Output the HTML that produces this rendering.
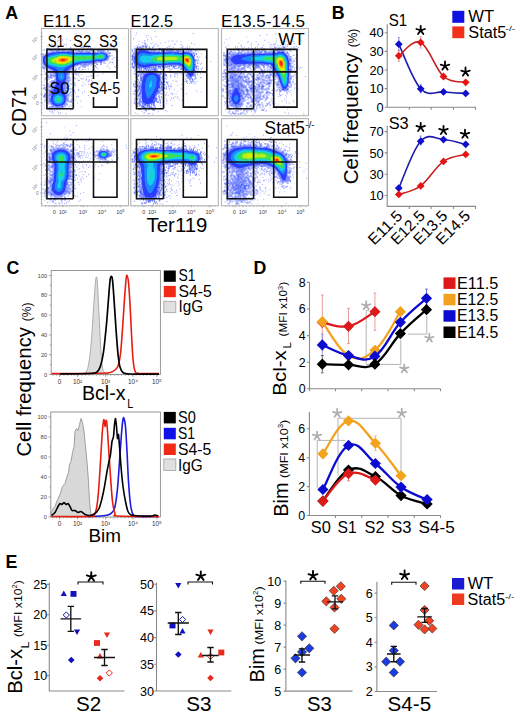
<!DOCTYPE html>
<html><head><meta charset="utf-8"><style>
html,body{margin:0;padding:0;background:#fff;width:520px;height:714px;overflow:hidden}
svg{display:block}
text{font-family:"Liberation Sans", sans-serif}
</style></head><body>
<svg width="520" height="714" viewBox="0 0 520 714">
<defs><filter id="soft" x="-5%" y="-5%" width="110%" height="110%"><feGaussianBlur stdDeviation="0.7"/></filter></defs>
<rect width="520" height="714" fill="#fff"/>
<text x="5.3" y="18.9" font-size="17.8" font-weight="bold">A</text>
<text x="43.1" y="27" font-size="16.3" textLength="42.6" lengthAdjust="spacingAndGlyphs">E11.5</text>
<text x="130.6" y="27" font-size="16.3" textLength="42.6" lengthAdjust="spacingAndGlyphs">E12.5</text>
<text x="221" y="27" font-size="16.3" textLength="84" lengthAdjust="spacingAndGlyphs">E13.5-14.5</text>
<rect x="41.5" y="28.5" width="87" height="87.2" fill="#fff" stroke="#b4b4b4" stroke-width="1.1"/>
<g filter="url(#soft)"><path d="M69.5 48.5h1v1h-1zM58.5 49.5h1v1h-1zM61.5 49.5h1v1h-1zM72.5 49.5h1v1h-1zM75.5 49.5h1v1h-1zM99.5 49.5h1v1h-1zM56.5 50.5h1v1h-1zM64.5 50.5h1v1h-1zM82.5 50.5h1v1h-1zM97.5 50.5h1v1h-1zM51.5 51.5h1v1h-1zM54.5 51.5h1v1h-1zM57.5 51.5h1v1h-1zM58.5 51.5h1v1h-1zM69.5 51.5h1v1h-1zM70.5 51.5h1v1h-1zM76.5 51.5h1v1h-1zM80.5 51.5h1v1h-1zM85.5 51.5h1v1h-1zM86.5 51.5h1v1h-1zM97.5 51.5h1v1h-1zM48.5 52.5h1v1h-1zM49.5 52.5h1v1h-1zM51.5 52.5h1v1h-1zM80.5 52.5h1v1h-1zM81.5 52.5h1v1h-1zM84.5 52.5h1v1h-1zM91.5 52.5h1v1h-1zM106.5 52.5h1v1h-1zM42.5 53.5h1v1h-1zM44.5 54.5h1v1h-1zM108.5 55.5h1v1h-1zM42.5 56.5h1v1h-1zM98.5 60.5h1v1h-1zM100.5 60.5h1v1h-1zM101.5 60.5h1v1h-1zM103.5 60.5h1v1h-1zM42.5 61.5h1v1h-1zM92.5 61.5h1v1h-1zM100.5 61.5h1v1h-1zM100.5 62.5h1v1h-1zM78.5 63.5h1v1h-1zM79.5 63.5h1v1h-1zM84.5 63.5h1v1h-1zM89.5 63.5h1v1h-1zM80.5 64.5h1v1h-1zM85.5 64.5h1v1h-1zM87.5 64.5h1v1h-1zM45.5 66.5h1v1h-1zM79.5 66.5h1v1h-1zM83.5 66.5h1v1h-1zM43.5 67.5h1v1h-1zM48.5 67.5h1v1h-1zM72.5 67.5h1v1h-1zM69.5 68.5h1v1h-1zM67.5 69.5h1v1h-1zM75.5 69.5h1v1h-1zM47.5 70.5h1v1h-1zM49.5 70.5h1v1h-1zM71.5 70.5h1v1h-1zM53.5 71.5h1v1h-1zM48.5 72.5h1v1h-1zM50.5 72.5h1v1h-1zM65.5 73.5h1v1h-1zM68.5 73.5h1v1h-1zM50.5 74.5h1v1h-1zM51.5 74.5h1v1h-1zM53.5 74.5h1v1h-1zM67.5 74.5h1v1h-1zM50.5 75.5h1v1h-1zM52.5 75.5h1v1h-1zM55.5 75.5h1v1h-1zM45.5 78.5h1v1h-1zM67.5 79.5h1v1h-1zM56.5 80.5h1v1h-1zM67.5 80.5h1v1h-1zM65.5 81.5h1v1h-1zM67.5 81.5h1v1h-1zM52.5 82.5h1v1h-1zM57.5 82.5h1v1h-1zM47.5 83.5h1v1h-1zM58.5 83.5h1v1h-1zM60.5 83.5h1v1h-1zM62.5 83.5h1v1h-1zM66.5 83.5h1v1h-1zM55.5 84.5h1v1h-1zM58.5 84.5h1v1h-1zM64.5 84.5h1v1h-1zM50.5 85.5h1v1h-1zM53.5 85.5h1v1h-1zM68.5 85.5h1v1h-1zM54.5 86.5h1v1h-1zM48.5 87.5h1v1h-1zM50.5 87.5h1v1h-1zM53.5 87.5h1v1h-1zM55.5 87.5h1v1h-1zM64.5 87.5h1v1h-1zM61.5 88.5h1v1h-1zM64.5 88.5h1v1h-1zM67.5 88.5h1v1h-1zM61.5 89.5h1v1h-1zM62.5 89.5h1v1h-1zM48.5 90.5h1v1h-1zM65.5 91.5h1v1h-1zM49.5 92.5h1v1h-1zM52.5 92.5h1v1h-1zM44.5 93.5h1v1h-1zM51.5 93.5h1v1h-1zM64.5 93.5h1v1h-1zM50.5 94.5h1v1h-1zM47.5 95.5h1v1h-1zM50.5 97.5h1v1h-1zM66.5 98.5h1v1h-1zM71.5 98.5h1v1h-1zM66.5 99.5h1v1h-1zM69.5 100.5h1v1h-1zM48.5 102.5h1v1h-1zM50.5 103.5h1v1h-1zM51.5 103.5h1v1h-1zM63.5 103.5h1v1h-1zM64.5 104.5h1v1h-1zM53.5 105.5h1v1h-1zM57.5 106.5h1v1h-1zM60.5 106.5h1v1h-1zM52.5 107.5h1v1h-1zM59.5 107.5h1v1h-1z" fill="#2030ff"/><path d="M56.5 49.5h1v1h-1zM71.5 49.5h1v1h-1zM85.5 49.5h1v1h-1zM50.5 50.5h1v1h-1zM58.5 50.5h1v1h-1zM61.5 50.5h1v1h-1zM62.5 50.5h1v1h-1zM63.5 50.5h1v1h-1zM70.5 50.5h1v1h-1zM98.5 50.5h1v1h-1zM53.5 51.5h1v1h-1zM55.5 51.5h1v1h-1zM71.5 51.5h1v1h-1zM102.5 51.5h1v1h-1zM47.5 52.5h1v1h-1zM52.5 52.5h1v1h-1zM79.5 52.5h1v1h-1zM83.5 52.5h1v1h-1zM85.5 52.5h1v1h-1zM86.5 52.5h1v1h-1zM88.5 52.5h1v1h-1zM92.5 52.5h1v1h-1zM95.5 52.5h1v1h-1zM105.5 52.5h1v1h-1zM46.5 53.5h1v1h-1zM108.5 53.5h1v1h-1zM42.5 55.5h1v1h-1zM107.5 55.5h1v1h-1zM42.5 57.5h1v1h-1zM108.5 57.5h1v1h-1zM42.5 59.5h1v1h-1zM94.5 61.5h1v1h-1zM95.5 61.5h1v1h-1zM96.5 61.5h1v1h-1zM42.5 62.5h1v1h-1zM88.5 62.5h1v1h-1zM89.5 62.5h1v1h-1zM93.5 62.5h1v1h-1zM43.5 63.5h1v1h-1zM81.5 63.5h1v1h-1zM87.5 63.5h1v1h-1zM100.5 63.5h1v1h-1zM43.5 64.5h1v1h-1zM84.5 64.5h1v1h-1zM73.5 65.5h1v1h-1zM74.5 65.5h1v1h-1zM81.5 65.5h1v1h-1zM46.5 66.5h1v1h-1zM72.5 66.5h1v1h-1zM44.5 68.5h1v1h-1zM49.5 68.5h1v1h-1zM46.5 69.5h1v1h-1zM50.5 69.5h1v1h-1zM68.5 69.5h1v1h-1zM69.5 69.5h1v1h-1zM74.5 69.5h1v1h-1zM68.5 70.5h1v1h-1zM65.5 71.5h1v1h-1zM66.5 71.5h1v1h-1zM68.5 71.5h1v1h-1zM45.5 72.5h1v1h-1zM53.5 72.5h1v1h-1zM54.5 72.5h1v1h-1zM66.5 72.5h1v1h-1zM67.5 72.5h1v1h-1zM68.5 72.5h1v1h-1zM66.5 73.5h1v1h-1zM46.5 74.5h1v1h-1zM54.5 74.5h1v1h-1zM66.5 75.5h1v1h-1zM47.5 76.5h1v1h-1zM49.5 76.5h1v1h-1zM50.5 76.5h1v1h-1zM54.5 78.5h1v1h-1zM55.5 78.5h1v1h-1zM66.5 78.5h1v1h-1zM69.5 78.5h1v1h-1zM46.5 79.5h1v1h-1zM55.5 80.5h1v1h-1zM64.5 80.5h1v1h-1zM52.5 81.5h1v1h-1zM53.5 82.5h1v1h-1zM54.5 82.5h1v1h-1zM65.5 82.5h1v1h-1zM61.5 83.5h1v1h-1zM63.5 83.5h1v1h-1zM70.5 83.5h1v1h-1zM59.5 84.5h1v1h-1zM63.5 84.5h1v1h-1zM55.5 85.5h1v1h-1zM58.5 85.5h1v1h-1zM61.5 85.5h1v1h-1zM43.5 87.5h1v1h-1zM54.5 87.5h1v1h-1zM60.5 87.5h1v1h-1zM66.5 87.5h1v1h-1zM43.5 88.5h1v1h-1zM47.5 89.5h1v1h-1zM49.5 89.5h1v1h-1zM51.5 89.5h1v1h-1zM53.5 89.5h1v1h-1zM63.5 89.5h1v1h-1zM51.5 90.5h1v1h-1zM52.5 90.5h1v1h-1zM67.5 90.5h1v1h-1zM46.5 91.5h1v1h-1zM52.5 91.5h1v1h-1zM63.5 92.5h1v1h-1zM45.5 93.5h1v1h-1zM48.5 93.5h1v1h-1zM65.5 93.5h1v1h-1zM48.5 94.5h1v1h-1zM64.5 94.5h1v1h-1zM66.5 94.5h1v1h-1zM70.5 94.5h1v1h-1zM49.5 95.5h1v1h-1zM50.5 95.5h1v1h-1zM65.5 95.5h1v1h-1zM66.5 95.5h1v1h-1zM43.5 96.5h1v1h-1zM44.5 96.5h1v1h-1zM65.5 96.5h1v1h-1zM48.5 97.5h1v1h-1zM65.5 97.5h1v1h-1zM45.5 98.5h1v1h-1zM65.5 98.5h1v1h-1zM47.5 100.5h1v1h-1zM50.5 100.5h1v1h-1zM67.5 100.5h1v1h-1zM49.5 101.5h1v1h-1zM50.5 101.5h1v1h-1zM51.5 102.5h1v1h-1zM52.5 103.5h1v1h-1zM52.5 104.5h1v1h-1zM55.5 105.5h1v1h-1zM59.5 105.5h1v1h-1zM61.5 105.5h1v1h-1zM62.5 105.5h1v1h-1zM64.5 105.5h1v1h-1zM50.5 106.5h1v1h-1zM55.5 106.5h1v1h-1zM61.5 106.5h1v1h-1zM62.5 106.5h1v1h-1zM56.5 107.5h1v1h-1zM58.5 107.5h1v1h-1zM62.5 108.5h1v1h-1z" fill="#3848ff"/><path d="M49.5 48.5h1v1h-1zM58.5 48.5h1v1h-1zM63.5 48.5h1v1h-1zM43.5 49.5h1v1h-1zM57.5 49.5h1v1h-1zM101.5 49.5h1v1h-1zM66.5 50.5h1v1h-1zM71.5 50.5h1v1h-1zM81.5 50.5h1v1h-1zM89.5 50.5h1v1h-1zM91.5 50.5h1v1h-1zM103.5 50.5h1v1h-1zM107.5 50.5h1v1h-1zM72.5 51.5h1v1h-1zM77.5 51.5h1v1h-1zM81.5 51.5h1v1h-1zM95.5 51.5h1v1h-1zM104.5 51.5h1v1h-1zM45.5 52.5h1v1h-1zM82.5 52.5h1v1h-1zM90.5 52.5h1v1h-1zM93.5 52.5h1v1h-1zM107.5 52.5h1v1h-1zM47.5 53.5h1v1h-1zM104.5 59.5h1v1h-1zM105.5 59.5h1v1h-1zM106.5 59.5h1v1h-1zM107.5 59.5h1v1h-1zM97.5 60.5h1v1h-1zM102.5 60.5h1v1h-1zM104.5 60.5h1v1h-1zM98.5 61.5h1v1h-1zM84.5 62.5h1v1h-1zM87.5 62.5h1v1h-1zM94.5 62.5h1v1h-1zM83.5 63.5h1v1h-1zM85.5 63.5h1v1h-1zM88.5 63.5h1v1h-1zM91.5 63.5h1v1h-1zM75.5 64.5h1v1h-1zM86.5 64.5h1v1h-1zM90.5 64.5h1v1h-1zM42.5 65.5h1v1h-1zM72.5 65.5h1v1h-1zM42.5 67.5h1v1h-1zM47.5 67.5h1v1h-1zM69.5 67.5h1v1h-1zM70.5 67.5h1v1h-1zM71.5 67.5h1v1h-1zM43.5 68.5h1v1h-1zM46.5 68.5h1v1h-1zM48.5 68.5h1v1h-1zM66.5 69.5h1v1h-1zM48.5 70.5h1v1h-1zM66.5 70.5h1v1h-1zM55.5 73.5h1v1h-1zM48.5 74.5h1v1h-1zM55.5 74.5h1v1h-1zM47.5 75.5h1v1h-1zM68.5 76.5h1v1h-1zM50.5 77.5h1v1h-1zM67.5 78.5h1v1h-1zM54.5 79.5h1v1h-1zM51.5 80.5h1v1h-1zM52.5 80.5h1v1h-1zM69.5 80.5h1v1h-1zM50.5 81.5h1v1h-1zM56.5 81.5h1v1h-1zM63.5 81.5h1v1h-1zM64.5 81.5h1v1h-1zM67.5 82.5h1v1h-1zM53.5 83.5h1v1h-1zM56.5 83.5h1v1h-1zM67.5 83.5h1v1h-1zM43.5 84.5h1v1h-1zM51.5 84.5h1v1h-1zM52.5 84.5h1v1h-1zM56.5 84.5h1v1h-1zM48.5 85.5h1v1h-1zM49.5 85.5h1v1h-1zM54.5 85.5h1v1h-1zM56.5 85.5h1v1h-1zM57.5 85.5h1v1h-1zM63.5 85.5h1v1h-1zM64.5 85.5h1v1h-1zM65.5 85.5h1v1h-1zM67.5 85.5h1v1h-1zM45.5 86.5h1v1h-1zM49.5 86.5h1v1h-1zM53.5 86.5h1v1h-1zM62.5 86.5h1v1h-1zM51.5 87.5h1v1h-1zM52.5 87.5h1v1h-1zM51.5 88.5h1v1h-1zM71.5 88.5h1v1h-1zM45.5 89.5h1v1h-1zM48.5 89.5h1v1h-1zM50.5 89.5h1v1h-1zM64.5 89.5h1v1h-1zM49.5 90.5h1v1h-1zM64.5 90.5h1v1h-1zM65.5 90.5h1v1h-1zM66.5 90.5h1v1h-1zM73.5 90.5h1v1h-1zM64.5 91.5h1v1h-1zM72.5 91.5h1v1h-1zM50.5 92.5h1v1h-1zM69.5 92.5h1v1h-1zM49.5 93.5h1v1h-1zM49.5 94.5h1v1h-1zM68.5 95.5h1v1h-1zM48.5 96.5h1v1h-1zM49.5 97.5h1v1h-1zM66.5 97.5h1v1h-1zM48.5 98.5h1v1h-1zM49.5 99.5h1v1h-1zM50.5 99.5h1v1h-1zM69.5 101.5h1v1h-1zM46.5 102.5h1v1h-1zM64.5 102.5h1v1h-1zM64.5 103.5h1v1h-1zM66.5 103.5h1v1h-1zM62.5 104.5h1v1h-1zM66.5 104.5h1v1h-1zM52.5 105.5h1v1h-1zM56.5 105.5h1v1h-1zM57.5 105.5h1v1h-1zM52.5 106.5h1v1h-1zM59.5 106.5h1v1h-1zM57.5 107.5h1v1h-1zM49.5 108.5h1v1h-1zM53.5 108.5h1v1h-1zM59.5 108.5h1v1h-1z" fill="#5060ff"/><path d="M47.5 48.5h1v1h-1zM50.5 49.5h1v1h-1zM52.5 49.5h1v1h-1zM54.5 49.5h1v1h-1zM59.5 49.5h1v1h-1zM69.5 49.5h1v1h-1zM46.5 50.5h1v1h-1zM68.5 50.5h1v1h-1zM78.5 50.5h1v1h-1zM100.5 50.5h1v1h-1zM102.5 50.5h1v1h-1zM52.5 51.5h1v1h-1zM56.5 51.5h1v1h-1zM66.5 51.5h1v1h-1zM67.5 51.5h1v1h-1zM68.5 51.5h1v1h-1zM74.5 51.5h1v1h-1zM87.5 51.5h1v1h-1zM88.5 51.5h1v1h-1zM89.5 51.5h1v1h-1zM100.5 51.5h1v1h-1zM87.5 52.5h1v1h-1zM109.5 52.5h1v1h-1zM109.5 55.5h1v1h-1zM107.5 56.5h1v1h-1zM42.5 58.5h1v1h-1zM106.5 58.5h1v1h-1zM99.5 60.5h1v1h-1zM99.5 61.5h1v1h-1zM86.5 62.5h1v1h-1zM90.5 62.5h1v1h-1zM91.5 62.5h1v1h-1zM92.5 62.5h1v1h-1zM103.5 62.5h1v1h-1zM77.5 63.5h1v1h-1zM80.5 63.5h1v1h-1zM96.5 63.5h1v1h-1zM44.5 64.5h1v1h-1zM76.5 64.5h1v1h-1zM77.5 64.5h1v1h-1zM82.5 64.5h1v1h-1zM83.5 64.5h1v1h-1zM45.5 65.5h1v1h-1zM42.5 66.5h1v1h-1zM44.5 66.5h1v1h-1zM75.5 67.5h1v1h-1zM78.5 67.5h1v1h-1zM68.5 68.5h1v1h-1zM71.5 68.5h1v1h-1zM72.5 68.5h1v1h-1zM52.5 69.5h1v1h-1zM53.5 70.5h1v1h-1zM67.5 70.5h1v1h-1zM48.5 71.5h1v1h-1zM50.5 71.5h1v1h-1zM51.5 71.5h1v1h-1zM66.5 74.5h1v1h-1zM54.5 75.5h1v1h-1zM53.5 76.5h1v1h-1zM67.5 76.5h1v1h-1zM51.5 77.5h1v1h-1zM66.5 77.5h1v1h-1zM68.5 77.5h1v1h-1zM48.5 78.5h1v1h-1zM65.5 79.5h1v1h-1zM53.5 80.5h1v1h-1zM65.5 80.5h1v1h-1zM53.5 81.5h1v1h-1zM54.5 81.5h1v1h-1zM55.5 81.5h1v1h-1zM56.5 82.5h1v1h-1zM63.5 82.5h1v1h-1zM64.5 82.5h1v1h-1zM52.5 83.5h1v1h-1zM64.5 83.5h1v1h-1zM54.5 84.5h1v1h-1zM61.5 84.5h1v1h-1zM59.5 85.5h1v1h-1zM62.5 85.5h1v1h-1zM52.5 86.5h1v1h-1zM55.5 86.5h1v1h-1zM56.5 86.5h1v1h-1zM60.5 86.5h1v1h-1zM45.5 88.5h1v1h-1zM54.5 88.5h1v1h-1zM65.5 88.5h1v1h-1zM69.5 88.5h1v1h-1zM46.5 89.5h1v1h-1zM52.5 89.5h1v1h-1zM72.5 89.5h1v1h-1zM53.5 90.5h1v1h-1zM62.5 90.5h1v1h-1zM51.5 91.5h1v1h-1zM66.5 91.5h1v1h-1zM70.5 91.5h1v1h-1zM46.5 92.5h1v1h-1zM64.5 92.5h1v1h-1zM65.5 92.5h1v1h-1zM66.5 92.5h1v1h-1zM50.5 93.5h1v1h-1zM68.5 93.5h1v1h-1zM44.5 94.5h1v1h-1zM67.5 94.5h1v1h-1zM43.5 95.5h1v1h-1zM44.5 95.5h1v1h-1zM46.5 97.5h1v1h-1zM67.5 97.5h1v1h-1zM49.5 98.5h1v1h-1zM50.5 98.5h1v1h-1zM46.5 99.5h1v1h-1zM48.5 100.5h1v1h-1zM49.5 100.5h1v1h-1zM66.5 100.5h1v1h-1zM50.5 102.5h1v1h-1zM65.5 102.5h1v1h-1zM53.5 104.5h1v1h-1zM58.5 105.5h1v1h-1zM54.5 106.5h1v1h-1zM56.5 106.5h1v1h-1zM56.5 108.5h1v1h-1z" fill="#1848f0"/><path d="M61.5 48.5h1v1h-1zM53.5 49.5h1v1h-1zM64.5 49.5h1v1h-1zM67.5 49.5h1v1h-1zM70.5 49.5h1v1h-1zM47.5 50.5h1v1h-1zM49.5 50.5h1v1h-1zM52.5 50.5h1v1h-1zM55.5 50.5h1v1h-1zM60.5 50.5h1v1h-1zM72.5 50.5h1v1h-1zM77.5 50.5h1v1h-1zM80.5 50.5h1v1h-1zM78.5 51.5h1v1h-1zM79.5 51.5h1v1h-1zM82.5 51.5h1v1h-1zM83.5 51.5h1v1h-1zM84.5 51.5h1v1h-1zM94.5 51.5h1v1h-1zM99.5 51.5h1v1h-1zM101.5 51.5h1v1h-1zM103.5 51.5h1v1h-1zM50.5 52.5h1v1h-1zM89.5 52.5h1v1h-1zM94.5 52.5h1v1h-1zM96.5 52.5h1v1h-1zM104.5 52.5h1v1h-1zM45.5 53.5h1v1h-1zM106.5 53.5h1v1h-1zM42.5 54.5h1v1h-1zM45.5 54.5h1v1h-1zM43.5 55.5h1v1h-1zM43.5 56.5h1v1h-1zM107.5 57.5h1v1h-1zM107.5 58.5h1v1h-1zM42.5 60.5h1v1h-1zM93.5 61.5h1v1h-1zM97.5 61.5h1v1h-1zM101.5 61.5h1v1h-1zM83.5 62.5h1v1h-1zM85.5 62.5h1v1h-1zM95.5 62.5h1v1h-1zM42.5 63.5h1v1h-1zM44.5 65.5h1v1h-1zM76.5 65.5h1v1h-1zM84.5 65.5h1v1h-1zM71.5 66.5h1v1h-1zM46.5 67.5h1v1h-1zM50.5 68.5h1v1h-1zM51.5 68.5h1v1h-1zM67.5 68.5h1v1h-1zM70.5 68.5h1v1h-1zM51.5 69.5h1v1h-1zM72.5 69.5h1v1h-1zM52.5 70.5h1v1h-1zM52.5 71.5h1v1h-1zM54.5 71.5h1v1h-1zM69.5 71.5h1v1h-1zM52.5 72.5h1v1h-1zM65.5 72.5h1v1h-1zM50.5 73.5h1v1h-1zM52.5 73.5h1v1h-1zM67.5 73.5h1v1h-1zM71.5 73.5h1v1h-1zM53.5 75.5h1v1h-1zM68.5 75.5h1v1h-1zM55.5 76.5h1v1h-1zM66.5 76.5h1v1h-1zM55.5 77.5h1v1h-1zM65.5 77.5h1v1h-1zM67.5 77.5h1v1h-1zM65.5 78.5h1v1h-1zM55.5 79.5h1v1h-1zM54.5 80.5h1v1h-1zM66.5 80.5h1v1h-1zM68.5 80.5h1v1h-1zM49.5 81.5h1v1h-1zM51.5 81.5h1v1h-1zM51.5 82.5h1v1h-1zM62.5 82.5h1v1h-1zM66.5 82.5h1v1h-1zM68.5 82.5h1v1h-1zM48.5 83.5h1v1h-1zM54.5 83.5h1v1h-1zM55.5 83.5h1v1h-1zM57.5 83.5h1v1h-1zM65.5 83.5h1v1h-1zM57.5 84.5h1v1h-1zM60.5 84.5h1v1h-1zM62.5 84.5h1v1h-1zM65.5 84.5h1v1h-1zM47.5 85.5h1v1h-1zM52.5 85.5h1v1h-1zM60.5 85.5h1v1h-1zM48.5 86.5h1v1h-1zM50.5 86.5h1v1h-1zM61.5 86.5h1v1h-1zM63.5 86.5h1v1h-1zM64.5 86.5h1v1h-1zM65.5 86.5h1v1h-1zM66.5 86.5h1v1h-1zM61.5 87.5h1v1h-1zM62.5 87.5h1v1h-1zM63.5 87.5h1v1h-1zM65.5 87.5h1v1h-1zM67.5 87.5h1v1h-1zM52.5 88.5h1v1h-1zM53.5 88.5h1v1h-1zM62.5 88.5h1v1h-1zM63.5 88.5h1v1h-1zM54.5 89.5h1v1h-1zM50.5 90.5h1v1h-1zM63.5 90.5h1v1h-1zM48.5 91.5h1v1h-1zM63.5 91.5h1v1h-1zM48.5 92.5h1v1h-1zM51.5 92.5h1v1h-1zM51.5 94.5h1v1h-1zM48.5 95.5h1v1h-1zM50.5 96.5h1v1h-1zM67.5 96.5h1v1h-1zM67.5 98.5h1v1h-1zM44.5 99.5h1v1h-1zM48.5 99.5h1v1h-1zM65.5 99.5h1v1h-1zM67.5 99.5h1v1h-1zM65.5 100.5h1v1h-1zM70.5 100.5h1v1h-1zM67.5 101.5h1v1h-1zM48.5 103.5h1v1h-1zM51.5 104.5h1v1h-1zM63.5 104.5h1v1h-1zM51.5 105.5h1v1h-1zM54.5 105.5h1v1h-1zM60.5 105.5h1v1h-1zM51.5 106.5h1v1h-1zM64.5 106.5h1v1h-1zM50.5 107.5h1v1h-1zM54.5 107.5h1v1h-1zM60.5 107.5h1v1h-1zM61.5 107.5h1v1h-1zM62.5 107.5h1v1h-1zM57.5 108.5h1v1h-1z" fill="#7080ff"/><path d="M107 54.33L104.67 53L102 52.33L97.67 52.67L97.33 53L81.67 53L81.33 52.67L73 52.67L72.67 52.33L70 52.33L67 51.67L59 51.67L58.67 52L50.67 53L47 54L45.33 55L44 56.33L43 58.33L43 62.33L44 64.33L46.67 67L52.67 70L54.67 72L55.67 74.33L55.67 77L56 77.33L56 79.67L56.67 83L54 88L52.67 92.67L51 96.33L51 98L50.67 98.33L51 101L52.33 103.67L55 105.67L57 106.33L59.67 106.33L63 105L65 103L65.67 101.67L66 96.67L63.67 90.67L63 87.67L63 84.67L65 81.67L66.33 78.67L66.33 76.67L66.67 76.33L66.33 72.33L66.67 71.33L69 68.67L76.33 64.67L79.67 63.67L87 63L87.33 62.67L90.33 62.67L98 61L102 61L104.67 60.33L106 59.67L107.67 57.67L108 56.33Z" fill="#2a3cff" fill-rule="evenodd"/><path d="M57.33 93L55 94.33L53 97.33L52.67 99.67L53.67 102.33L55 103.67L57.33 104.67L59.67 104.67L62 103.67L63.33 102.33L64 101L64 97.67L63 95.67L61 93.67L59.67 93ZM44.67 62L45.33 63.33L48 65.67L55 68L58 70.33L58.33 71L58.33 74L58 74.33L58.33 78.67L59.67 80.33L62 80.67L64.33 78.33L64.67 75.67L63.33 72.33L63.33 70.33L65.33 68.33L75.33 63.33L77.67 62.67L81.67 62.33L82 62L85 62L85.33 61.67L91.67 61.33L97 60L103.33 59.67L106 58L106.33 56L105 54.33L102 53.33L100 53.33L95.67 54.33L92.33 54.33L92 54L72.67 54L72.33 53.67L69.67 53.67L66.33 53L60 53L59.67 53.33L57.67 53.33L54 54.33L50.67 54.67L47 56L45.67 57L44.67 58.67Z" fill="#1c88ff" fill-rule="evenodd"/><path d="M58 95.33L56.33 96L55 97.33L54.33 99.33L54.67 101L57 103L60 103L62.33 100.67L62.33 98L60.67 96ZM61 75.33L60.33 76.67L61 77.67L61.67 77.67L62.33 76.33L62 75.67ZM46 61L46.67 62.67L49.33 64.67L55.33 66L59 67.33L63 67.33L68.67 65.33L73.67 62.67L76.67 61.67L81 61.33L81.33 61L84.67 61L85 60.67L89.67 60.67L97 59L99.33 59L99.67 59.33L102.67 59L105 57.33L105 56L103.67 54.67L102.67 54.33L99 54.33L95.67 55.33L93.67 55.33L93.33 55L71.67 55L71.33 54.67L66 54.33L65.67 54L61 54L49 56.67L46.67 58.33L46 59.67Z" fill="#12d0e8" fill-rule="evenodd"/><path d="M58 97.67L56.67 98.67L56.67 100.33L58 101.33L59 101.33L60.33 100.33L60.33 98.67L59 97.67ZM48 61L49.33 62.67L52.67 64L54 64L59.67 65.67L63.33 65.67L67 64.67L72.67 61.67L76.67 60.33L82.67 60L83 59.67L89.67 59.67L90 59.33L92 59.33L96.33 57.67L101.33 58.33L103 57.67L103.67 57L103.67 56.33L102.67 55.33L101.33 55L99 55.33L96 56.67L92.67 56L73.33 56.33L73 56L70.67 56L65.67 55L61.33 55L50.67 57.67L48.33 59.33Z" fill="#3ae054" fill-rule="evenodd"/><path d="M51.33 61L52.67 62L58.33 64L64 64.33L69.33 62.33L74.67 59L75 58.33L68 56.33L61 56L58 56.67L53 58.67L51.33 60Z" fill="#b4f014" fill-rule="evenodd"/><path d="M55.33 60.67L56.67 62L59 63L64.33 63.33L69.33 61L70.33 60L70.33 58.67L67.67 57.33L62.67 56.67L62.33 57L60.33 57L56.33 58.67L55.33 59.67Z" fill="#ffe400" fill-rule="evenodd"/><path d="M58 60.33L58.67 61.33L60 62L64 62.33L66 61.67L68 59.67L67.33 58.67L66 58L62.33 57.67L59 58.67Z" fill="#ff8c00" fill-rule="evenodd"/><path d="M60.67 60L61.67 61L63.67 61L65 60.33L65 59.33L62 59Z" fill="#ff2800" fill-rule="evenodd"/><path d="M72.56 94.02h.9v.9h-.9zM100.78 48.99h.9v.9h-.9zM57.43 111.6h.9v.9h-.9zM74.02 77.48h.9v.9h-.9zM79.01 79.77h.9v.9h-.9zM80.85 46.7h.9v.9h-.9zM78.02 80.03h.9v.9h-.9zM44.31 101.5h.9v.9h-.9zM71.32 49.13h.9v.9h-.9zM65.51 113.37h.9v.9h-.9zM74.88 72.87h.9v.9h-.9zM68.35 105.96h.9v.9h-.9zM74.02 83.94h.9v.9h-.9zM87.43 48.37h.9v.9h-.9zM87.89 68.48h.9v.9h-.9zM50.73 49.34h.9v.9h-.9zM58.17 45.99h.9v.9h-.9zM66.93 107.68h.9v.9h-.9zM80.36 100.55h.9v.9h-.9zM97.71 71.94h.9v.9h-.9zM52.46 111.52h.9v.9h-.9zM44.64 77.73h.9v.9h-.9zM48.84 106.44h.9v.9h-.9zM71.21 102.16h.9v.9h-.9zM54.6 48.34h.9v.9h-.9zM43.78 104.52h.9v.9h-.9zM66.28 39.45h.9v.9h-.9zM44.54 87.33h.9v.9h-.9zM74.95 71.17h.9v.9h-.9zM45.73 76.67h.9v.9h-.9zM106.8 66.47h.9v.9h-.9zM57.83 39.85h.9v.9h-.9zM85.81 47.41h.9v.9h-.9zM85.2 69.22h.9v.9h-.9zM69.6 48.82h.9v.9h-.9zM75.93 48.59h.9v.9h-.9zM77.98 96.56h.9v.9h-.9zM83.47 46.99h.9v.9h-.9zM110.33 61.87h.9v.9h-.9zM50.52 108.71h.9v.9h-.9zM70.98 101.01h.9v.9h-.9zM46.54 48.32h.9v.9h-.9zM74.61 83.52h.9v.9h-.9zM86.78 49.49h.9v.9h-.9zM96.02 67.08h.9v.9h-.9zM91.84 70.31h.9v.9h-.9zM71.77 99.94h.9v.9h-.9zM107.14 49.17h.9v.9h-.9zM86.58 66.21h.9v.9h-.9zM73.69 90.46h.9v.9h-.9zM95.06 65.01h.9v.9h-.9zM83.12 48.09h.9v.9h-.9zM77.95 90.05h.9v.9h-.9zM81.6 84.73h.9v.9h-.9zM65.91 44.5h.9v.9h-.9zM67.07 108.14h.9v.9h-.9zM54.84 39.34h.9v.9h-.9zM112.53 62.44h.9v.9h-.9zM74.96 92.29h.9v.9h-.9zM94.01 70.89h.9v.9h-.9zM75.23 99.64h.9v.9h-.9zM111.44 55.07h.9v.9h-.9zM69.96 40.05h.9v.9h-.9zM46.29 105.11h.9v.9h-.9zM83.12 69.17h.9v.9h-.9zM86 78.87h.9v.9h-.9zM72.21 89.51h.9v.9h-.9zM109.81 46.23h.9v.9h-.9zM72.95 48.64h.9v.9h-.9zM47.34 45.25h.9v.9h-.9zM87.95 65.54h.9v.9h-.9zM71.51 77.37h.9v.9h-.9zM46.63 49.29h.9v.9h-.9zM115.46 51.27h.9v.9h-.9zM44.84 91.43h.9v.9h-.9zM44.15 87.27h.9v.9h-.9zM77.33 37.4h.9v.9h-.9zM44.28 79.59h.9v.9h-.9zM52.56 113.02h.9v.9h-.9zM82.16 69.09h.9v.9h-.9zM71.74 108.67h.9v.9h-.9zM58.03 46.47h.9v.9h-.9zM88.33 95.08h.9v.9h-.9zM57.1 40.74h.9v.9h-.9zM47.63 48.09h.9v.9h-.9zM95.31 66.37h.9v.9h-.9zM46.17 101.42h.9v.9h-.9zM51.78 109.37h.9v.9h-.9zM92.55 48.39h.9v.9h-.9zM57.97 47.25h.9v.9h-.9zM90.03 47.76h.9v.9h-.9zM104.94 62.88h.9v.9h-.9zM97.57 75.29h.9v.9h-.9zM94.8 69.63h.9v.9h-.9zM113.48 47.01h.9v.9h-.9zM59.68 113.42h.9v.9h-.9zM111.46 43.71h.9v.9h-.9zM51.59 46.32h.9v.9h-.9zM75.86 71.6h.9v.9h-.9zM72.4 44.84h.9v.9h-.9zM70.18 109.64h.9v.9h-.9zM114.49 57.4h.9v.9h-.9zM45.89 102.69h.9v.9h-.9zM73.16 75.65h.9v.9h-.9zM52.05 44.71h.9v.9h-.9zM83.4 66.53h.9v.9h-.9zM83.1 46.55h.9v.9h-.9zM92.04 49.71h.9v.9h-.9zM107.34 46.67h.9v.9h-.9zM72.23 103.22h.9v.9h-.9zM70.74 48.45h.9v.9h-.9zM81.52 78.85h.9v.9h-.9zM111.76 61.67h.9v.9h-.9zM48.49 76.58h.9v.9h-.9zM117.52 60.04h.9v.9h-.9zM58.16 112.73h.9v.9h-.9zM91.17 48.54h.9v.9h-.9zM49.62 106.67h.9v.9h-.9zM84.95 66.03h.9v.9h-.9zM110.01 52.97h.9v.9h-.9zM72.38 108.75h.9v.9h-.9zM75.02 70.19h.9v.9h-.9zM70.6 79.71h.9v.9h-.9zM43.91 71.23h.9v.9h-.9zM44.6 91.37h.9v.9h-.9zM78.08 89.37h.9v.9h-.9zM77.57 73.65h.9v.9h-.9zM109.06 61.65h.9v.9h-.9zM73.4 85.92h.9v.9h-.9zM55.44 46.15h.9v.9h-.9zM52.28 48.66h.9v.9h-.9zM52.03 111.46h.9v.9h-.9zM110.01 53.1h.9v.9h-.9zM116.07 63h.9v.9h-.9zM82.01 92.31h.9v.9h-.9zM72.96 102.82h.9v.9h-.9zM78.79 69.03h.9v.9h-.9zM50.62 43.9h.9v.9h-.9zM64.63 43.81h.9v.9h-.9zM102.61 73.27h.9v.9h-.9zM61.04 44.41h.9v.9h-.9zM53.12 46.56h.9v.9h-.9zM49.07 107.13h.9v.9h-.9zM79.26 42.69h.9v.9h-.9zM108.6 62.69h.9v.9h-.9zM44.72 81.67h.9v.9h-.9zM85.48 79.39h.9v.9h-.9zM57.07 46.76h.9v.9h-.9zM54.14 42.95h.9v.9h-.9zM50.1 111.58h.9v.9h-.9zM108.86 52.26h.9v.9h-.9zM47.83 107.13h.9v.9h-.9zM75.05 78.32h.9v.9h-.9zM107.81 50.75h.9v.9h-.9zM82.16 66.55h.9v.9h-.9zM90.5 48.47h.9v.9h-.9zM84.15 90.8h.9v.9h-.9zM111.71 58.99h.9v.9h-.9zM100.12 48.9h.9v.9h-.9zM51.23 109.79h.9v.9h-.9zM83.79 66.34h.9v.9h-.9zM78.33 72.73h.9v.9h-.9zM43.77 107.6h.9v.9h-.9zM92.11 70.03h.9v.9h-.9zM58.7 47.78h.9v.9h-.9zM66.33 47.68h.9v.9h-.9zM107.46 65.18h.9v.9h-.9zM81.48 45.74h.9v.9h-.9zM56.95 45.3h.9v.9h-.9zM90.13 47.24h.9v.9h-.9zM80.86 70.53h.9v.9h-.9zM71.21 101.92h.9v.9h-.9zM97.48 68.35h.9v.9h-.9zM93.67 65.39h.9v.9h-.9zM62.21 39.62h.9v.9h-.9zM81.33 74.05h.9v.9h-.9zM76.81 102.61h.9v.9h-.9zM47.76 76.93h.9v.9h-.9zM94.81 66.3h.9v.9h-.9zM83.74 45.07h.9v.9h-.9zM93.47 67.87h.9v.9h-.9zM44.89 100.51h.9v.9h-.9zM70.97 47.83h.9v.9h-.9zM51.16 41.21h.9v.9h-.9zM47.6 108.64h.9v.9h-.9zM44.28 85.04h.9v.9h-.9zM54.3 110.04h.9v.9h-.9zM112.05 62h.9v.9h-.9zM45.88 105.11h.9v.9h-.9zM83.43 72.08h.9v.9h-.9zM44.65 72.67h.9v.9h-.9zM69.92 103.94h.9v.9h-.9zM79.71 71.63h.9v.9h-.9zM45.13 89.73h.9v.9h-.9zM96.48 64.27h.9v.9h-.9zM112.76 57.46h.9v.9h-.9zM97.11 50.02h.9v.9h-.9zM80.95 106.39h.9v.9h-.9zM72.51 82.74h.9v.9h-.9zM51.85 111.2h.9v.9h-.9zM115.45 66.98h.9v.9h-.9zM63.27 45.31h.9v.9h-.9zM56.5 48.08h.9v.9h-.9zM84.94 66.71h.9v.9h-.9zM71.22 96.15h.9v.9h-.9zM88.2 47.03h.9v.9h-.9zM49.34 49.75h.9v.9h-.9zM46.16 83.56h.9v.9h-.9zM69.36 106.04h.9v.9h-.9zM112.34 62.35h.9v.9h-.9zM49.12 110.57h.9v.9h-.9zM114.18 66.04h.9v.9h-.9zM44.68 93.64h.9v.9h-.9zM100.42 64.28h.9v.9h-.9zM72.38 86.9h.9v.9h-.9zM44.7 74.1h.9v.9h-.9zM77.37 70.68h.9v.9h-.9zM113.16 57.64h.9v.9h-.9zM77.82 68.7h.9v.9h-.9zM117.1 51.47h.9v.9h-.9zM82.94 78.1h.9v.9h-.9zM74.29 82.6h.9v.9h-.9zM109.37 49.02h.9v.9h-.9zM59.96 112.16h.9v.9h-.9zM70 46.79h.9v.9h-.9zM97.05 64.16h.9v.9h-.9zM72.54 104.98h.9v.9h-.9zM86.96 41.37h.9v.9h-.9zM46.39 102.09h.9v.9h-.9zM75.74 96.36h.9v.9h-.9zM111.6 55.47h.9v.9h-.9zM113.6 49.82h.9v.9h-.9zM70.19 48.81h.9v.9h-.9zM84.98 66.18h.9v.9h-.9zM90.7 49.77h.9v.9h-.9zM49.26 49.28h.9v.9h-.9zM73.01 48.37h.9v.9h-.9zM72.84 102.25h.9v.9h-.9zM71.25 105.57h.9v.9h-.9zM80.75 47.26h.9v.9h-.9zM76.03 73.39h.9v.9h-.9zM75.83 33.18h.9v.9h-.9zM76.44 74.32h.9v.9h-.9zM71.35 99.31h.9v.9h-.9zM46.2 107.09h.9v.9h-.9zM49.52 106.56h.9v.9h-.9zM77.19 95.71h.9v.9h-.9zM81.13 78.19h.9v.9h-.9zM77.85 70.73h.9v.9h-.9zM82.35 47.1h.9v.9h-.9zM88.73 80h.9v.9h-.9zM82.42 85.64h.9v.9h-.9zM91.94 84.4h.9v.9h-.9zM88.34 83.75h.9v.9h-.9zM91.69 83.26h.9v.9h-.9zM75.36 73.75h.9v.9h-.9zM90.26 84.07h.9v.9h-.9zM84.47 83.84h.9v.9h-.9zM90.96 80.14h.9v.9h-.9zM88.74 79.29h.9v.9h-.9zM80.66 78.14h.9v.9h-.9zM78.21 74.7h.9v.9h-.9zM91.21 75.62h.9v.9h-.9zM90.03 75.44h.9v.9h-.9zM76.96 78.45h.9v.9h-.9zM88.22 75.88h.9v.9h-.9zM75.01 85.11h.9v.9h-.9zM91.19 78.44h.9v.9h-.9zM82.68 82.18h.9v.9h-.9zM87.3 81.39h.9v.9h-.9zM85.53 79.92h.9v.9h-.9zM79.38 75.87h.9v.9h-.9zM88.2 80.99h.9v.9h-.9zM86.37 76.37h.9v.9h-.9zM91.81 81.17h.9v.9h-.9zM44.06 62.47h.9v.9h-.9zM55.95 56.42h.9v.9h-.9zM70.94 50.81h.9v.9h-.9zM46.62 59.39h.9v.9h-.9zM91.68 60.36h.9v.9h-.9zM55.94 50.99h.9v.9h-.9zM84.29 62.12h.9v.9h-.9zM55.36 60.86h.9v.9h-.9zM92.32 69.69h.9v.9h-.9zM101.49 52.05h.9v.9h-.9zM48.41 55.81h.9v.9h-.9zM97.5 68.16h.9v.9h-.9zM107.13 54.19h.9v.9h-.9zM79 54.13h.9v.9h-.9zM73.6 65.17h.9v.9h-.9zM100.11 58.86h.9v.9h-.9zM82.06 61.92h.9v.9h-.9zM106.55 55.76h.9v.9h-.9zM92.92 64.15h.9v.9h-.9zM75.8 52.27h.9v.9h-.9zM93 67.77h.9v.9h-.9zM83.83 57.9h.9v.9h-.9zM104.5 56.1h.9v.9h-.9zM109.11 67.85h.9v.9h-.9zM71.55 50.09h.9v.9h-.9zM79 50.3h.9v.9h-.9zM76.7 62.92h.9v.9h-.9zM100.3 50.15h.9v.9h-.9zM67.09 57.48h.9v.9h-.9zM82.96 55.68h.9v.9h-.9z" fill="#4858ff" fill-opacity=".6"/></g>
<path d="M40.2 36.9h2.6M40.2 54.6h2.6M40.2 74.8h2.6M40.2 94h2.6M40.2 103h2.6M40.9 32.5h1.4M40.9 36h1.4M40.9 39.5h1.4M40.9 43h1.4M40.9 46.5h1.4M40.9 50h1.4M40.9 53.5h1.4M40.9 57h1.4M40.9 60.5h1.4M40.9 64h1.4M40.9 67.5h1.4M40.9 71h1.4M40.9 74.5h1.4M40.9 78h1.4M40.9 81.5h1.4M40.9 85h1.4M40.9 88.5h1.4M40.9 92h1.4M40.9 95.5h1.4M40.9 99h1.4M40.9 102.5h1.4M40.9 106h1.4M40.9 109.5h1.4M40.9 113h1.4" stroke="#888" stroke-width=".5" fill="none"/>
<text transform="translate(38.5 38.4) rotate(-45)" font-size="4.6" text-anchor="end" fill="#777">10⁵</text>
<text transform="translate(38.5 56.1) rotate(-45)" font-size="4.6" text-anchor="end" fill="#777">10⁴</text>
<text transform="translate(38.5 76.3) rotate(-45)" font-size="4.6" text-anchor="end" fill="#777">10³</text>
<text transform="translate(38.5 95.5) rotate(-45)" font-size="4.6" text-anchor="end" fill="#777">10²</text>
<text x="36" y="104.6" font-size="4.6" fill="#777">0</text>
<path d="M46.9 49.4H117V71.9H46.9ZM73.3 49.4V108.7M93.5 49.4V71.9M46.9 71.9V108.7H73.3M93.5 71.9V79.1M93.5 96.9V107.1H117V96.9M117 71.9V79.1" stroke="#111" stroke-width="1.6" fill="none"/>
<rect x="130.8" y="28.5" width="87.5" height="87.2" fill="#fff" stroke="#b4b4b4" stroke-width="1.1"/>
<g filter="url(#soft)"><path d="M141.8 45.5h1v1h-1zM144.8 45.5h1v1h-1zM136.8 46.5h1v1h-1zM144.8 46.5h1v1h-1zM136.8 47.5h1v1h-1zM140.8 47.5h1v1h-1zM148.8 47.5h1v1h-1zM159.8 48.5h1v1h-1zM137.8 49.5h1v1h-1zM140.8 49.5h1v1h-1zM141.8 49.5h1v1h-1zM142.8 49.5h1v1h-1zM143.8 49.5h1v1h-1zM160.8 49.5h1v1h-1zM171.8 49.5h1v1h-1zM182.8 49.5h1v1h-1zM139.8 50.5h1v1h-1zM162.8 50.5h1v1h-1zM167.8 50.5h1v1h-1zM170.8 50.5h1v1h-1zM189.8 50.5h1v1h-1zM136.8 51.5h1v1h-1zM137.8 51.5h1v1h-1zM162.8 51.5h1v1h-1zM164.8 51.5h1v1h-1zM174.8 51.5h1v1h-1zM185.8 51.5h1v1h-1zM133.8 52.5h1v1h-1zM190.8 52.5h1v1h-1zM191.8 53.5h1v1h-1zM193.8 54.5h1v1h-1zM131.8 55.5h1v1h-1zM193.8 55.5h1v1h-1zM131.8 56.5h1v1h-1zM131.8 58.5h1v1h-1zM133.8 58.5h1v1h-1zM133.8 60.5h1v1h-1zM133.8 61.5h1v1h-1zM194.8 61.5h1v1h-1zM133.8 62.5h1v1h-1zM196.8 62.5h1v1h-1zM135.8 64.5h1v1h-1zM161.8 64.5h1v1h-1zM171.8 64.5h1v1h-1zM194.8 64.5h1v1h-1zM155.8 65.5h1v1h-1zM157.8 65.5h1v1h-1zM158.8 65.5h1v1h-1zM178.8 65.5h1v1h-1zM135.8 66.5h1v1h-1zM143.8 66.5h1v1h-1zM146.8 66.5h1v1h-1zM147.8 66.5h1v1h-1zM157.8 66.5h1v1h-1zM194.8 66.5h1v1h-1zM142.8 67.5h1v1h-1zM144.8 67.5h1v1h-1zM145.8 67.5h1v1h-1zM150.8 67.5h1v1h-1zM159.8 67.5h1v1h-1zM177.8 67.5h1v1h-1zM195.8 67.5h1v1h-1zM138.8 68.5h1v1h-1zM140.8 68.5h1v1h-1zM144.8 68.5h1v1h-1zM149.8 69.5h1v1h-1zM183.8 69.5h1v1h-1zM184.8 69.5h1v1h-1zM139.8 70.5h1v1h-1zM147.8 70.5h1v1h-1zM148.8 70.5h1v1h-1zM152.8 70.5h1v1h-1zM156.8 70.5h1v1h-1zM144.8 71.5h1v1h-1zM148.8 71.5h1v1h-1zM149.8 71.5h1v1h-1zM192.8 71.5h1v1h-1zM145.8 72.5h1v1h-1zM147.8 72.5h1v1h-1zM143.8 73.5h1v1h-1zM155.8 73.5h1v1h-1zM159.8 73.5h1v1h-1zM160.8 73.5h1v1h-1zM135.8 74.5h1v1h-1zM137.8 74.5h1v1h-1zM143.8 74.5h1v1h-1zM164.8 74.5h1v1h-1zM188.8 74.5h1v1h-1zM194.8 74.5h1v1h-1zM137.8 75.5h1v1h-1zM139.8 75.5h1v1h-1zM142.8 75.5h1v1h-1zM157.8 75.5h1v1h-1zM189.8 75.5h1v1h-1zM136.8 76.5h1v1h-1zM158.8 76.5h1v1h-1zM189.8 76.5h1v1h-1zM140.8 77.5h1v1h-1zM139.8 78.5h1v1h-1zM140.8 78.5h1v1h-1zM188.8 78.5h1v1h-1zM189.8 78.5h1v1h-1zM141.8 79.5h1v1h-1zM192.8 80.5h1v1h-1zM138.8 82.5h1v1h-1zM134.8 83.5h1v1h-1zM140.8 83.5h1v1h-1zM161.8 83.5h1v1h-1zM141.8 84.5h1v1h-1zM158.8 84.5h1v1h-1zM138.8 85.5h1v1h-1zM158.8 85.5h1v1h-1zM160.8 85.5h1v1h-1zM138.8 86.5h1v1h-1zM140.8 86.5h1v1h-1zM158.8 86.5h1v1h-1zM140.8 87.5h1v1h-1zM141.8 87.5h1v1h-1zM158.8 87.5h1v1h-1zM159.8 87.5h1v1h-1zM137.8 89.5h1v1h-1zM157.8 89.5h1v1h-1zM135.8 90.5h1v1h-1zM141.8 90.5h1v1h-1zM159.8 90.5h1v1h-1zM139.8 91.5h1v1h-1zM141.8 91.5h1v1h-1zM138.8 92.5h1v1h-1zM156.8 92.5h1v1h-1zM135.8 93.5h1v1h-1zM139.8 93.5h1v1h-1zM141.8 93.5h1v1h-1zM155.8 95.5h1v1h-1zM158.8 95.5h1v1h-1zM153.8 96.5h1v1h-1zM153.8 97.5h1v1h-1zM158.8 97.5h1v1h-1zM139.8 99.5h1v1h-1zM153.8 99.5h1v1h-1zM138.8 100.5h1v1h-1zM141.8 100.5h1v1h-1zM142.8 100.5h1v1h-1zM152.8 100.5h1v1h-1zM154.8 100.5h1v1h-1zM152.8 101.5h1v1h-1zM156.8 101.5h1v1h-1zM157.8 101.5h1v1h-1zM159.8 101.5h1v1h-1zM137.8 102.5h1v1h-1zM142.8 102.5h1v1h-1zM151.8 102.5h1v1h-1zM152.8 102.5h1v1h-1zM146.8 103.5h1v1h-1zM147.8 103.5h1v1h-1zM148.8 104.5h1v1h-1zM140.8 105.5h1v1h-1zM141.8 105.5h1v1h-1zM141.8 106.5h1v1h-1zM148.8 106.5h1v1h-1zM142.8 107.5h1v1h-1zM150.8 107.5h1v1h-1zM138.8 108.5h1v1h-1zM151.8 108.5h1v1h-1zM144.8 109.5h1v1h-1z" fill="#2030ff"/><path d="M181.8 47.5h1v1h-1zM138.8 48.5h1v1h-1zM142.8 48.5h1v1h-1zM147.8 48.5h1v1h-1zM148.8 48.5h1v1h-1zM158.8 48.5h1v1h-1zM131.8 49.5h1v1h-1zM144.8 49.5h1v1h-1zM154.8 49.5h1v1h-1zM158.8 49.5h1v1h-1zM162.8 49.5h1v1h-1zM163.8 49.5h1v1h-1zM166.8 49.5h1v1h-1zM170.8 49.5h1v1h-1zM176.8 49.5h1v1h-1zM189.8 49.5h1v1h-1zM140.8 50.5h1v1h-1zM145.8 50.5h1v1h-1zM147.8 50.5h1v1h-1zM152.8 50.5h1v1h-1zM190.8 50.5h1v1h-1zM147.8 51.5h1v1h-1zM149.8 51.5h1v1h-1zM153.8 51.5h1v1h-1zM165.8 51.5h1v1h-1zM168.8 51.5h1v1h-1zM170.8 51.5h1v1h-1zM173.8 51.5h1v1h-1zM176.8 51.5h1v1h-1zM135.8 52.5h1v1h-1zM188.8 52.5h1v1h-1zM189.8 52.5h1v1h-1zM133.8 54.5h1v1h-1zM191.8 54.5h1v1h-1zM132.8 56.5h1v1h-1zM196.8 56.5h1v1h-1zM132.8 58.5h1v1h-1zM194.8 59.5h1v1h-1zM195.8 59.5h1v1h-1zM134.8 62.5h1v1h-1zM165.8 64.5h1v1h-1zM168.8 64.5h1v1h-1zM179.8 64.5h1v1h-1zM154.8 65.5h1v1h-1zM160.8 65.5h1v1h-1zM162.8 65.5h1v1h-1zM167.8 65.5h1v1h-1zM173.8 65.5h1v1h-1zM137.8 66.5h1v1h-1zM138.8 66.5h1v1h-1zM140.8 66.5h1v1h-1zM148.8 66.5h1v1h-1zM161.8 66.5h1v1h-1zM165.8 66.5h1v1h-1zM168.8 66.5h1v1h-1zM178.8 66.5h1v1h-1zM180.8 66.5h1v1h-1zM138.8 67.5h1v1h-1zM143.8 67.5h1v1h-1zM148.8 67.5h1v1h-1zM152.8 67.5h1v1h-1zM154.8 67.5h1v1h-1zM193.8 67.5h1v1h-1zM146.8 68.5h1v1h-1zM151.8 68.5h1v1h-1zM153.8 68.5h1v1h-1zM156.8 68.5h1v1h-1zM179.8 68.5h1v1h-1zM183.8 68.5h1v1h-1zM134.8 69.5h1v1h-1zM150.8 69.5h1v1h-1zM153.8 69.5h1v1h-1zM154.8 69.5h1v1h-1zM182.8 69.5h1v1h-1zM193.8 69.5h1v1h-1zM140.8 70.5h1v1h-1zM143.8 70.5h1v1h-1zM145.8 70.5h1v1h-1zM154.8 70.5h1v1h-1zM139.8 71.5h1v1h-1zM147.8 71.5h1v1h-1zM150.8 71.5h1v1h-1zM152.8 71.5h1v1h-1zM183.8 71.5h1v1h-1zM144.8 72.5h1v1h-1zM149.8 72.5h1v1h-1zM150.8 72.5h1v1h-1zM156.8 72.5h1v1h-1zM159.8 72.5h1v1h-1zM186.8 72.5h1v1h-1zM193.8 72.5h1v1h-1zM140.8 74.5h1v1h-1zM142.8 74.5h1v1h-1zM158.8 74.5h1v1h-1zM162.8 74.5h1v1h-1zM191.8 74.5h1v1h-1zM143.8 75.5h1v1h-1zM158.8 75.5h1v1h-1zM163.8 75.5h1v1h-1zM187.8 75.5h1v1h-1zM190.8 75.5h1v1h-1zM141.8 76.5h1v1h-1zM162.8 76.5h1v1h-1zM158.8 77.5h1v1h-1zM190.8 77.5h1v1h-1zM142.8 78.5h1v1h-1zM163.8 78.5h1v1h-1zM140.8 79.5h1v1h-1zM158.8 79.5h1v1h-1zM140.8 80.5h1v1h-1zM138.8 81.5h1v1h-1zM135.8 82.5h1v1h-1zM158.8 83.5h1v1h-1zM159.8 83.5h1v1h-1zM137.8 85.5h1v1h-1zM139.8 85.5h1v1h-1zM141.8 85.5h1v1h-1zM160.8 86.5h1v1h-1zM140.8 88.5h1v1h-1zM161.8 88.5h1v1h-1zM135.8 89.5h1v1h-1zM141.8 89.5h1v1h-1zM156.8 89.5h1v1h-1zM160.8 89.5h1v1h-1zM161.8 89.5h1v1h-1zM134.8 90.5h1v1h-1zM136.8 90.5h1v1h-1zM158.8 90.5h1v1h-1zM157.8 91.5h1v1h-1zM162.8 91.5h1v1h-1zM138.8 93.5h1v1h-1zM157.8 93.5h1v1h-1zM137.8 94.5h1v1h-1zM138.8 94.5h1v1h-1zM155.8 94.5h1v1h-1zM140.8 95.5h1v1h-1zM153.8 95.5h1v1h-1zM141.8 96.5h1v1h-1zM155.8 97.5h1v1h-1zM136.8 98.5h1v1h-1zM139.8 98.5h1v1h-1zM152.8 98.5h1v1h-1zM153.8 98.5h1v1h-1zM155.8 98.5h1v1h-1zM155.8 99.5h1v1h-1zM155.8 100.5h1v1h-1zM139.8 101.5h1v1h-1zM150.8 101.5h1v1h-1zM138.8 102.5h1v1h-1zM141.8 102.5h1v1h-1zM144.8 102.5h1v1h-1zM145.8 102.5h1v1h-1zM149.8 102.5h1v1h-1zM150.8 102.5h1v1h-1zM143.8 103.5h1v1h-1zM150.8 103.5h1v1h-1zM139.8 104.5h1v1h-1zM145.8 104.5h1v1h-1zM147.8 104.5h1v1h-1zM153.8 104.5h1v1h-1zM138.8 105.5h1v1h-1zM146.8 106.5h1v1h-1zM150.8 106.5h1v1h-1zM144.8 107.5h1v1h-1zM145.8 107.5h1v1h-1zM148.8 107.5h1v1h-1zM151.8 107.5h1v1h-1zM152.8 109.5h1v1h-1zM153.8 109.5h1v1h-1z" fill="#3848ff"/><path d="M144.8 43.5h1v1h-1zM142.8 45.5h1v1h-1zM139.8 46.5h1v1h-1zM142.8 46.5h1v1h-1zM145.8 46.5h1v1h-1zM139.8 47.5h1v1h-1zM145.8 47.5h1v1h-1zM133.8 48.5h1v1h-1zM137.8 48.5h1v1h-1zM138.8 49.5h1v1h-1zM139.8 49.5h1v1h-1zM145.8 49.5h1v1h-1zM147.8 49.5h1v1h-1zM177.8 49.5h1v1h-1zM179.8 49.5h1v1h-1zM185.8 49.5h1v1h-1zM131.8 50.5h1v1h-1zM137.8 50.5h1v1h-1zM138.8 50.5h1v1h-1zM144.8 50.5h1v1h-1zM151.8 50.5h1v1h-1zM153.8 50.5h1v1h-1zM169.8 50.5h1v1h-1zM176.8 50.5h1v1h-1zM148.8 51.5h1v1h-1zM160.8 51.5h1v1h-1zM161.8 51.5h1v1h-1zM167.8 51.5h1v1h-1zM169.8 51.5h1v1h-1zM177.8 51.5h1v1h-1zM178.8 51.5h1v1h-1zM179.8 51.5h1v1h-1zM183.8 51.5h1v1h-1zM186.8 51.5h1v1h-1zM187.8 51.5h1v1h-1zM132.8 52.5h1v1h-1zM134.8 52.5h1v1h-1zM193.8 52.5h1v1h-1zM134.8 53.5h1v1h-1zM135.8 53.5h1v1h-1zM132.8 55.5h1v1h-1zM192.8 55.5h1v1h-1zM192.8 56.5h1v1h-1zM131.8 57.5h1v1h-1zM193.8 57.5h1v1h-1zM132.8 59.5h1v1h-1zM134.8 60.5h1v1h-1zM131.8 63.5h1v1h-1zM131.8 64.5h1v1h-1zM134.8 64.5h1v1h-1zM169.8 64.5h1v1h-1zM174.8 64.5h1v1h-1zM134.8 65.5h1v1h-1zM151.8 65.5h1v1h-1zM152.8 65.5h1v1h-1zM156.8 65.5h1v1h-1zM159.8 65.5h1v1h-1zM168.8 65.5h1v1h-1zM174.8 65.5h1v1h-1zM175.8 65.5h1v1h-1zM179.8 65.5h1v1h-1zM195.8 65.5h1v1h-1zM142.8 66.5h1v1h-1zM150.8 66.5h1v1h-1zM164.8 66.5h1v1h-1zM181.8 66.5h1v1h-1zM132.8 67.5h1v1h-1zM135.8 67.5h1v1h-1zM136.8 67.5h1v1h-1zM153.8 67.5h1v1h-1zM162.8 67.5h1v1h-1zM182.8 67.5h1v1h-1zM143.8 68.5h1v1h-1zM148.8 68.5h1v1h-1zM163.8 68.5h1v1h-1zM181.8 68.5h1v1h-1zM193.8 68.5h1v1h-1zM147.8 69.5h1v1h-1zM152.8 69.5h1v1h-1zM194.8 70.5h1v1h-1zM181.8 71.5h1v1h-1zM193.8 71.5h1v1h-1zM139.8 72.5h1v1h-1zM146.8 72.5h1v1h-1zM154.8 72.5h1v1h-1zM192.8 72.5h1v1h-1zM194.8 72.5h1v1h-1zM141.8 73.5h1v1h-1zM144.8 73.5h1v1h-1zM156.8 73.5h1v1h-1zM186.8 73.5h1v1h-1zM192.8 73.5h1v1h-1zM185.8 74.5h1v1h-1zM187.8 74.5h1v1h-1zM193.8 74.5h1v1h-1zM159.8 75.5h1v1h-1zM162.8 75.5h1v1h-1zM165.8 75.5h1v1h-1zM188.8 75.5h1v1h-1zM191.8 75.5h1v1h-1zM139.8 76.5h1v1h-1zM188.8 76.5h1v1h-1zM141.8 77.5h1v1h-1zM142.8 77.5h1v1h-1zM164.8 77.5h1v1h-1zM186.8 77.5h1v1h-1zM187.8 77.5h1v1h-1zM189.8 77.5h1v1h-1zM159.8 78.5h1v1h-1zM162.8 78.5h1v1h-1zM142.8 79.5h1v1h-1zM159.8 79.5h1v1h-1zM139.8 80.5h1v1h-1zM185.8 80.5h1v1h-1zM136.8 81.5h1v1h-1zM165.8 81.5h1v1h-1zM159.8 82.5h1v1h-1zM162.8 82.5h1v1h-1zM136.8 84.5h1v1h-1zM140.8 84.5h1v1h-1zM159.8 84.5h1v1h-1zM133.8 85.5h1v1h-1zM157.8 85.5h1v1h-1zM139.8 86.5h1v1h-1zM141.8 86.5h1v1h-1zM157.8 86.5h1v1h-1zM137.8 87.5h1v1h-1zM160.8 87.5h1v1h-1zM161.8 87.5h1v1h-1zM165.8 87.5h1v1h-1zM139.8 88.5h1v1h-1zM139.8 89.5h1v1h-1zM139.8 90.5h1v1h-1zM140.8 91.5h1v1h-1zM158.8 91.5h1v1h-1zM155.8 92.5h1v1h-1zM140.8 93.5h1v1h-1zM139.8 94.5h1v1h-1zM138.8 95.5h1v1h-1zM154.8 95.5h1v1h-1zM134.8 97.5h1v1h-1zM135.8 99.5h1v1h-1zM154.8 99.5h1v1h-1zM158.8 99.5h1v1h-1zM139.8 100.5h1v1h-1zM138.8 101.5h1v1h-1zM141.8 101.5h1v1h-1zM143.8 101.5h1v1h-1zM133.8 102.5h1v1h-1zM146.8 102.5h1v1h-1zM147.8 102.5h1v1h-1zM148.8 102.5h1v1h-1zM159.8 102.5h1v1h-1zM134.8 103.5h1v1h-1zM136.8 103.5h1v1h-1zM139.8 103.5h1v1h-1zM148.8 103.5h1v1h-1zM152.8 103.5h1v1h-1zM146.8 104.5h1v1h-1zM144.8 105.5h1v1h-1zM149.8 106.5h1v1h-1zM154.8 106.5h1v1h-1zM148.8 108.5h1v1h-1z" fill="#5060ff"/><path d="M138.8 46.5h1v1h-1zM134.8 48.5h1v1h-1zM136.8 48.5h1v1h-1zM140.8 48.5h1v1h-1zM151.8 48.5h1v1h-1zM162.8 48.5h1v1h-1zM168.8 48.5h1v1h-1zM170.8 48.5h1v1h-1zM188.8 48.5h1v1h-1zM150.8 49.5h1v1h-1zM161.8 49.5h1v1h-1zM165.8 49.5h1v1h-1zM134.8 50.5h1v1h-1zM135.8 50.5h1v1h-1zM160.8 50.5h1v1h-1zM163.8 50.5h1v1h-1zM166.8 50.5h1v1h-1zM168.8 50.5h1v1h-1zM172.8 50.5h1v1h-1zM175.8 50.5h1v1h-1zM177.8 50.5h1v1h-1zM150.8 51.5h1v1h-1zM154.8 51.5h1v1h-1zM156.8 51.5h1v1h-1zM157.8 51.5h1v1h-1zM158.8 51.5h1v1h-1zM171.8 51.5h1v1h-1zM180.8 51.5h1v1h-1zM182.8 51.5h1v1h-1zM184.8 51.5h1v1h-1zM136.8 52.5h1v1h-1zM192.8 52.5h1v1h-1zM190.8 53.5h1v1h-1zM195.8 53.5h1v1h-1zM131.8 54.5h1v1h-1zM134.8 54.5h1v1h-1zM133.8 56.5h1v1h-1zM133.8 57.5h1v1h-1zM131.8 59.5h1v1h-1zM193.8 60.5h1v1h-1zM131.8 62.5h1v1h-1zM133.8 63.5h1v1h-1zM134.8 63.5h1v1h-1zM135.8 63.5h1v1h-1zM194.8 63.5h1v1h-1zM163.8 64.5h1v1h-1zM164.8 64.5h1v1h-1zM166.8 64.5h1v1h-1zM170.8 64.5h1v1h-1zM133.8 65.5h1v1h-1zM135.8 65.5h1v1h-1zM137.8 65.5h1v1h-1zM138.8 65.5h1v1h-1zM161.8 65.5h1v1h-1zM170.8 65.5h1v1h-1zM172.8 65.5h1v1h-1zM131.8 66.5h1v1h-1zM132.8 66.5h1v1h-1zM136.8 66.5h1v1h-1zM139.8 66.5h1v1h-1zM141.8 66.5h1v1h-1zM152.8 66.5h1v1h-1zM154.8 66.5h1v1h-1zM158.8 66.5h1v1h-1zM159.8 66.5h1v1h-1zM163.8 66.5h1v1h-1zM166.8 66.5h1v1h-1zM172.8 66.5h1v1h-1zM173.8 66.5h1v1h-1zM195.8 66.5h1v1h-1zM133.8 67.5h1v1h-1zM137.8 67.5h1v1h-1zM140.8 67.5h1v1h-1zM147.8 67.5h1v1h-1zM155.8 67.5h1v1h-1zM154.8 68.5h1v1h-1zM180.8 68.5h1v1h-1zM138.8 69.5h1v1h-1zM145.8 69.5h1v1h-1zM155.8 69.5h1v1h-1zM137.8 70.5h1v1h-1zM184.8 70.5h1v1h-1zM193.8 70.5h1v1h-1zM141.8 71.5h1v1h-1zM142.8 71.5h1v1h-1zM145.8 71.5h1v1h-1zM146.8 71.5h1v1h-1zM151.8 71.5h1v1h-1zM157.8 71.5h1v1h-1zM159.8 71.5h1v1h-1zM163.8 71.5h1v1h-1zM185.8 71.5h1v1h-1zM141.8 72.5h1v1h-1zM153.8 72.5h1v1h-1zM155.8 72.5h1v1h-1zM138.8 73.5h1v1h-1zM140.8 73.5h1v1h-1zM158.8 73.5h1v1h-1zM144.8 74.5h1v1h-1zM157.8 74.5h1v1h-1zM165.8 74.5h1v1h-1zM192.8 74.5h1v1h-1zM185.8 75.5h1v1h-1zM186.8 75.5h1v1h-1zM140.8 76.5h1v1h-1zM142.8 76.5h1v1h-1zM143.8 76.5h1v1h-1zM159.8 76.5h1v1h-1zM161.8 76.5h1v1h-1zM187.8 76.5h1v1h-1zM190.8 76.5h1v1h-1zM194.8 76.5h1v1h-1zM136.8 78.5h1v1h-1zM158.8 78.5h1v1h-1zM161.8 78.5h1v1h-1zM191.8 78.5h1v1h-1zM137.8 79.5h1v1h-1zM191.8 79.5h1v1h-1zM141.8 80.5h1v1h-1zM142.8 80.5h1v1h-1zM158.8 80.5h1v1h-1zM159.8 80.5h1v1h-1zM163.8 80.5h1v1h-1zM189.8 80.5h1v1h-1zM141.8 81.5h1v1h-1zM160.8 81.5h1v1h-1zM163.8 81.5h1v1h-1zM141.8 82.5h1v1h-1zM158.8 82.5h1v1h-1zM160.8 82.5h1v1h-1zM161.8 82.5h1v1h-1zM166.8 82.5h1v1h-1zM139.8 83.5h1v1h-1zM141.8 83.5h1v1h-1zM163.8 84.5h1v1h-1zM136.8 85.5h1v1h-1zM140.8 85.5h1v1h-1zM134.8 86.5h1v1h-1zM161.8 86.5h1v1h-1zM138.8 87.5h1v1h-1zM157.8 87.5h1v1h-1zM163.8 87.5h1v1h-1zM138.8 88.5h1v1h-1zM140.8 89.5h1v1h-1zM137.8 90.5h1v1h-1zM140.8 90.5h1v1h-1zM156.8 90.5h1v1h-1zM157.8 90.5h1v1h-1zM135.8 91.5h1v1h-1zM156.8 91.5h1v1h-1zM139.8 92.5h1v1h-1zM140.8 92.5h1v1h-1zM158.8 92.5h1v1h-1zM155.8 93.5h1v1h-1zM160.8 93.5h1v1h-1zM135.8 95.5h1v1h-1zM137.8 95.5h1v1h-1zM141.8 95.5h1v1h-1zM139.8 96.5h1v1h-1zM160.8 96.5h1v1h-1zM140.8 97.5h1v1h-1zM154.8 97.5h1v1h-1zM138.8 98.5h1v1h-1zM154.8 98.5h1v1h-1zM141.8 99.5h1v1h-1zM159.8 99.5h1v1h-1zM151.8 100.5h1v1h-1zM153.8 100.5h1v1h-1zM135.8 101.5h1v1h-1zM140.8 101.5h1v1h-1zM142.8 101.5h1v1h-1zM151.8 101.5h1v1h-1zM153.8 101.5h1v1h-1zM153.8 102.5h1v1h-1zM138.8 103.5h1v1h-1zM141.8 103.5h1v1h-1zM142.8 103.5h1v1h-1zM144.8 103.5h1v1h-1zM143.8 104.5h1v1h-1zM144.8 104.5h1v1h-1zM150.8 104.5h1v1h-1zM152.8 104.5h1v1h-1zM136.8 105.5h1v1h-1zM142.8 105.5h1v1h-1zM146.8 105.5h1v1h-1zM148.8 105.5h1v1h-1zM153.8 105.5h1v1h-1zM142.8 106.5h1v1h-1zM143.8 106.5h1v1h-1zM143.8 107.5h1v1h-1zM149.8 107.5h1v1h-1zM139.8 108.5h1v1h-1zM145.8 109.5h1v1h-1z" fill="#1848f0"/><path d="M145.8 45.5h1v1h-1zM146.8 45.5h1v1h-1zM141.8 46.5h1v1h-1zM148.8 46.5h1v1h-1zM152.8 46.5h1v1h-1zM137.8 47.5h1v1h-1zM141.8 48.5h1v1h-1zM149.8 48.5h1v1h-1zM146.8 49.5h1v1h-1zM149.8 49.5h1v1h-1zM153.8 49.5h1v1h-1zM155.8 49.5h1v1h-1zM180.8 49.5h1v1h-1zM187.8 49.5h1v1h-1zM133.8 50.5h1v1h-1zM143.8 50.5h1v1h-1zM146.8 50.5h1v1h-1zM150.8 50.5h1v1h-1zM158.8 50.5h1v1h-1zM161.8 50.5h1v1h-1zM165.8 50.5h1v1h-1zM171.8 50.5h1v1h-1zM173.8 50.5h1v1h-1zM178.8 50.5h1v1h-1zM179.8 50.5h1v1h-1zM187.8 50.5h1v1h-1zM134.8 51.5h1v1h-1zM135.8 51.5h1v1h-1zM151.8 51.5h1v1h-1zM152.8 51.5h1v1h-1zM155.8 51.5h1v1h-1zM163.8 51.5h1v1h-1zM166.8 51.5h1v1h-1zM172.8 51.5h1v1h-1zM175.8 51.5h1v1h-1zM181.8 51.5h1v1h-1zM188.8 51.5h1v1h-1zM191.8 51.5h1v1h-1zM132.8 53.5h1v1h-1zM133.8 53.5h1v1h-1zM192.8 53.5h1v1h-1zM133.8 55.5h1v1h-1zM134.8 55.5h1v1h-1zM193.8 58.5h1v1h-1zM133.8 59.5h1v1h-1zM193.8 59.5h1v1h-1zM132.8 60.5h1v1h-1zM194.8 60.5h1v1h-1zM196.8 60.5h1v1h-1zM132.8 61.5h1v1h-1zM134.8 61.5h1v1h-1zM193.8 61.5h1v1h-1zM136.8 64.5h1v1h-1zM162.8 64.5h1v1h-1zM167.8 64.5h1v1h-1zM172.8 64.5h1v1h-1zM175.8 64.5h1v1h-1zM176.8 64.5h1v1h-1zM177.8 64.5h1v1h-1zM178.8 64.5h1v1h-1zM149.8 65.5h1v1h-1zM150.8 65.5h1v1h-1zM153.8 65.5h1v1h-1zM164.8 65.5h1v1h-1zM169.8 65.5h1v1h-1zM177.8 65.5h1v1h-1zM180.8 65.5h1v1h-1zM196.8 65.5h1v1h-1zM133.8 66.5h1v1h-1zM144.8 66.5h1v1h-1zM145.8 66.5h1v1h-1zM149.8 66.5h1v1h-1zM151.8 66.5h1v1h-1zM149.8 67.5h1v1h-1zM173.8 67.5h1v1h-1zM180.8 67.5h1v1h-1zM139.8 68.5h1v1h-1zM145.8 68.5h1v1h-1zM160.8 68.5h1v1h-1zM182.8 68.5h1v1h-1zM140.8 69.5h1v1h-1zM142.8 69.5h1v1h-1zM151.8 69.5h1v1h-1zM194.8 69.5h1v1h-1zM142.8 70.5h1v1h-1zM149.8 70.5h1v1h-1zM153.8 70.5h1v1h-1zM155.8 70.5h1v1h-1zM195.8 70.5h1v1h-1zM143.8 71.5h1v1h-1zM153.8 71.5h1v1h-1zM184.8 71.5h1v1h-1zM195.8 71.5h1v1h-1zM138.8 72.5h1v1h-1zM142.8 72.5h1v1h-1zM148.8 72.5h1v1h-1zM151.8 72.5h1v1h-1zM152.8 72.5h1v1h-1zM157.8 72.5h1v1h-1zM185.8 72.5h1v1h-1zM142.8 73.5h1v1h-1zM145.8 73.5h1v1h-1zM163.8 73.5h1v1h-1zM184.8 73.5h1v1h-1zM139.8 74.5h1v1h-1zM186.8 74.5h1v1h-1zM192.8 75.5h1v1h-1zM193.8 75.5h1v1h-1zM159.8 77.5h1v1h-1zM160.8 77.5h1v1h-1zM195.8 77.5h1v1h-1zM141.8 78.5h1v1h-1zM193.8 78.5h1v1h-1zM194.8 78.5h1v1h-1zM162.8 79.5h1v1h-1zM160.8 80.5h1v1h-1zM186.8 80.5h1v1h-1zM134.8 81.5h1v1h-1zM140.8 81.5h1v1h-1zM158.8 81.5h1v1h-1zM162.8 81.5h1v1h-1zM190.8 81.5h1v1h-1zM191.8 81.5h1v1h-1zM137.8 82.5h1v1h-1zM140.8 82.5h1v1h-1zM190.8 82.5h1v1h-1zM137.8 84.5h1v1h-1zM138.8 84.5h1v1h-1zM160.8 84.5h1v1h-1zM161.8 84.5h1v1h-1zM136.8 86.5h1v1h-1zM141.8 88.5h1v1h-1zM157.8 88.5h1v1h-1zM159.8 88.5h1v1h-1zM162.8 88.5h1v1h-1zM158.8 89.5h1v1h-1zM160.8 90.5h1v1h-1zM136.8 91.5h1v1h-1zM155.8 91.5h1v1h-1zM136.8 92.5h1v1h-1zM141.8 92.5h1v1h-1zM157.8 92.5h1v1h-1zM159.8 92.5h1v1h-1zM154.8 93.5h1v1h-1zM156.8 93.5h1v1h-1zM141.8 94.5h1v1h-1zM154.8 94.5h1v1h-1zM140.8 96.5h1v1h-1zM154.8 96.5h1v1h-1zM157.8 96.5h1v1h-1zM137.8 97.5h1v1h-1zM141.8 97.5h1v1h-1zM141.8 98.5h1v1h-1zM156.8 98.5h1v1h-1zM133.8 99.5h1v1h-1zM138.8 99.5h1v1h-1zM152.8 99.5h1v1h-1zM134.8 101.5h1v1h-1zM143.8 102.5h1v1h-1zM135.8 103.5h1v1h-1zM137.8 103.5h1v1h-1zM145.8 103.5h1v1h-1zM151.8 103.5h1v1h-1zM153.8 103.5h1v1h-1zM147.8 105.5h1v1h-1zM140.8 106.5h1v1h-1zM147.8 106.5h1v1h-1zM152.8 107.5h1v1h-1zM153.8 107.5h1v1h-1zM140.8 108.5h1v1h-1zM153.8 108.5h1v1h-1zM145.8 110.5h1v1h-1z" fill="#7080ff"/><path d="M154.3 72.67L149.97 72.33L147.3 73L144.63 75L142.97 78.33L142.63 82L141.97 84.33L141.97 87.33L141.63 87.67L141.97 89L141.97 100L142.97 102L143.97 103L145.97 104L149.97 103.67L152.63 101.67L154.63 98L155.63 94.67L158.97 87.33L159.63 81.67L159.97 81.33L159.97 77.33L158.3 74.67ZM134.63 56.67L134.3 59.33L135.63 63.33L138.3 66L141.63 67.33L146.97 67.33L151.3 66L156.97 65.67L157.3 65.33L162.97 65.33L163.3 65L167.3 65L167.63 64.67L178.97 64.67L181.3 65.67L183.3 67.33L188.3 74.67L190.3 76.33L191.97 76L192.97 74.67L194.63 69L194.97 64L194.63 63.67L194.63 60L193.63 56.67L191.63 54L188.3 52.33L182.97 52.33L182.63 52.67L179.3 52.67L178.97 52.33L151.63 52.33L144.3 50.33L140.63 50.33L138.3 51.33L135.97 53.67Z" fill="#2a3cff" fill-rule="evenodd"/><path d="M152.63 75L150.63 75L148.3 76L146.97 77.33L145.97 80L144.97 85.33L144.97 89.33L146.63 97.33L147.63 98.33L149.63 97.67L153.97 91L155.97 86.33L156.3 82.33L156.63 82L156.63 78L155.3 76ZM137.3 57.33L137.3 60.33L137.97 62L139.63 63.67L141.97 64.67L143.97 64.67L144.3 65L149.63 64L162.97 64L163.3 63.67L167.63 63.67L167.97 63.33L179.97 63.33L183.3 65.33L187.3 70.67L189.63 72.67L191.3 72.67L191.97 72L192.97 70L193.63 67.33L193.63 61.67L192.63 57.33L189.97 54.33L188.3 53.67L178.97 54L178.63 53.67L174.97 53.67L174.63 53.33L170.63 53.33L170.3 53.67L148.63 54L144.63 53L141.97 53L139.63 54L137.97 55.67Z" fill="#1c88ff" fill-rule="evenodd"/><path d="M151.63 80.33L150.63 81L149.3 84.33L148.97 86.67L149.63 87.67L151.3 87.33L151.97 86ZM192.63 67L192.63 60.67L191.97 58L190.3 55.67L186.97 54.33L183.63 54.67L183.3 55L177.97 55L177.63 54.67L174.63 54.67L174.3 54.33L157.97 54.67L157.63 55L155.3 55L149.97 56L143.63 55.33L140.97 56.33L139.97 57.67L140.3 60.67L141.3 61.67L143.97 62.67L153.97 62.33L154.3 62.67L161.63 63L161.97 62.67L166.63 62.67L166.97 62.33L179.63 62L182.97 63.67L185.97 66.67L186.97 68.33L189.63 70.67L190.63 70.67L191.63 69.67Z" fill="#12d0e8" fill-rule="evenodd"/><path d="M191.63 66.33L191.63 59.67L191.3 58.67L189.3 56L187.63 55.33L185.3 55.33L182.3 56.33L178.63 56.33L176.63 55.67L159.63 55.67L153.63 57L150.97 58.67L150.97 59.33L152.3 60.33L157.3 61.67L174.3 61.33L174.63 61L179.97 60.67L182.97 62.33L189.3 68.67L190.3 68.67Z" fill="#3ae054" fill-rule="evenodd"/><path d="M178.3 58L174.63 56.67L159.63 57L156.63 58L156.3 59.33L158.3 60.33L174.97 60L177.97 59ZM182.3 57.67L181.3 58.67L181.97 60L188.63 66.33L189.97 66.33L190.97 63.33L190.97 60.33L189.63 57.33L187.97 56.33L184.97 56.33Z" fill="#b4f014" fill-rule="evenodd"/><path d="M185.3 57L183.3 58.67L183.3 59.67L183.97 61L186.3 63.33L188.63 64.67L189.63 64L190.3 62L189.97 59L187.97 57Z" fill="#ffe400" fill-rule="evenodd"/><path d="M185.3 58L184.63 58.67L184.97 61L186.3 62.33L187.63 63L188.63 63L189.3 62L188.97 58.67L187.63 57.67Z" fill="#ff8c00" fill-rule="evenodd"/><path d="M186.3 58.67L185.63 59.33L185.63 60.33L186.97 61.67L188.3 61.67L188.63 59.67L187.63 58.67Z" fill="#ff2800" fill-rule="evenodd"/><path d="M136.47 44.91h.9v.9h-.9zM196.97 72.95h.9v.9h-.9zM196.85 74.4h.9v.9h-.9zM134.44 72.82h.9v.9h-.9zM181.73 48.45h.9v.9h-.9zM158.56 47.69h.9v.9h-.9zM195.25 51.1h.9v.9h-.9zM192.45 48.82h.9v.9h-.9zM159.6 108.28h.9v.9h-.9zM173.22 47.21h.9v.9h-.9zM143.77 111.95h.9v.9h-.9zM163.11 96.08h.9v.9h-.9zM155.36 36.35h.9v.9h-.9zM138.37 44.12h.9v.9h-.9zM170.38 45.43h.9v.9h-.9zM158.58 48.52h.9v.9h-.9zM170.27 72.07h.9v.9h-.9zM189.2 46.59h.9v.9h-.9zM134.7 74.11h.9v.9h-.9zM199.05 48.67h.9v.9h-.9zM133.33 37.82h.9v.9h-.9zM156.72 46.22h.9v.9h-.9zM149.09 113.08h.9v.9h-.9zM181.96 89.01h.9v.9h-.9zM190.76 42.65h.9v.9h-.9zM197.8 68.82h.9v.9h-.9zM141.94 42.23h.9v.9h-.9zM152.14 113.62h.9v.9h-.9zM169.86 85.21h.9v.9h-.9zM170.51 75.71h.9v.9h-.9zM172.52 93.2h.9v.9h-.9zM205.51 56.33h.9v.9h-.9zM180.5 44.11h.9v.9h-.9zM173.17 71.84h.9v.9h-.9zM164.51 97.64h.9v.9h-.9zM202.11 67.56h.9v.9h-.9zM136.35 72.59h.9v.9h-.9zM157.78 45.01h.9v.9h-.9zM144.41 40.95h.9v.9h-.9zM170.77 40.71h.9v.9h-.9zM163.48 47.94h.9v.9h-.9zM144.8 42.43h.9v.9h-.9zM155.29 107.96h.9v.9h-.9zM176.33 80.79h.9v.9h-.9zM201.06 69.07h.9v.9h-.9zM145.86 36.72h.9v.9h-.9zM201.27 63.04h.9v.9h-.9zM150.52 37.25h.9v.9h-.9zM180.48 46.93h.9v.9h-.9zM134.32 93.22h.9v.9h-.9zM191.34 48.37h.9v.9h-.9zM162.98 69.02h.9v.9h-.9zM145.64 34.78h.9v.9h-.9zM196.37 49.85h.9v.9h-.9zM204.69 72.43h.9v.9h-.9zM165.35 48.25h.9v.9h-.9zM167.79 48.81h.9v.9h-.9zM144.22 40.28h.9v.9h-.9zM167.66 94.93h.9v.9h-.9zM134.57 90.66h.9v.9h-.9zM177.32 70.61h.9v.9h-.9zM195.21 82.54h.9v.9h-.9zM197.57 69.99h.9v.9h-.9zM187.04 83.02h.9v.9h-.9zM176.79 73.82h.9v.9h-.9zM134.78 73.14h.9v.9h-.9zM210.3 61.15h.9v.9h-.9zM175.45 67.89h.9v.9h-.9zM143.56 112.7h.9v.9h-.9zM193.53 49.83h.9v.9h-.9zM134.41 46.34h.9v.9h-.9zM166.69 48.37h.9v.9h-.9zM134.42 98.91h.9v.9h-.9zM181.02 72.51h.9v.9h-.9zM160.91 98.4h.9v.9h-.9zM196.58 81.04h.9v.9h-.9zM147.3 38.86h.9v.9h-.9zM200.64 77.29h.9v.9h-.9zM135.39 76.74h.9v.9h-.9zM186.43 47.73h.9v.9h-.9zM186.17 47.6h.9v.9h-.9zM177.54 72.49h.9v.9h-.9zM195.77 53.81h.9v.9h-.9zM181.68 45.18h.9v.9h-.9zM197.59 51.39h.9v.9h-.9zM174.82 75.91h.9v.9h-.9zM178.83 72.3h.9v.9h-.9zM184.67 81.09h.9v.9h-.9zM172 67.79h.9v.9h-.9zM176.91 77.43h.9v.9h-.9zM187.23 48.52h.9v.9h-.9zM175.27 80.67h.9v.9h-.9zM165.49 74.33h.9v.9h-.9zM134.51 94.3h.9v.9h-.9zM157.88 111.32h.9v.9h-.9zM151.26 38.9h.9v.9h-.9zM169.45 48.07h.9v.9h-.9zM176.36 68.11h.9v.9h-.9zM133.02 93.33h.9v.9h-.9zM163.55 72.13h.9v.9h-.9zM135.98 32.59h.9v.9h-.9zM198.28 63.13h.9v.9h-.9zM166.34 100.72h.9v.9h-.9zM168.35 68.21h.9v.9h-.9zM171.24 72.47h.9v.9h-.9zM171.76 105.03h.9v.9h-.9zM147.83 34.93h.9v.9h-.9zM166.61 100.58h.9v.9h-.9zM171.48 68.72h.9v.9h-.9zM146.79 44.18h.9v.9h-.9zM185.43 78.34h.9v.9h-.9zM198.12 58.38h.9v.9h-.9zM199.44 61.39h.9v.9h-.9zM134.13 93.15h.9v.9h-.9zM170.25 75.69h.9v.9h-.9zM173.84 43.68h.9v.9h-.9zM171.09 71.14h.9v.9h-.9zM133.34 82.85h.9v.9h-.9zM170.8 69.19h.9v.9h-.9zM198.2 60.14h.9v.9h-.9zM134.78 112.62h.9v.9h-.9zM133.17 83.98h.9v.9h-.9zM134.81 80.84h.9v.9h-.9zM187.11 45.66h.9v.9h-.9zM169.29 46.49h.9v.9h-.9zM174.58 43.8h.9v.9h-.9zM163.65 105.51h.9v.9h-.9zM168.78 88.1h.9v.9h-.9zM141.6 111.2h.9v.9h-.9zM186.84 47.53h.9v.9h-.9zM164.49 94.15h.9v.9h-.9zM194.67 49.62h.9v.9h-.9zM163.63 101.09h.9v.9h-.9zM165.03 95.35h.9v.9h-.9zM133.37 72.97h.9v.9h-.9zM168.03 40.65h.9v.9h-.9zM170.19 76.51h.9v.9h-.9zM152.23 109.28h.9v.9h-.9zM166.66 47.05h.9v.9h-.9zM174.21 68.36h.9v.9h-.9zM188.19 48.49h.9v.9h-.9zM184.31 48.36h.9v.9h-.9zM182.53 46.36h.9v.9h-.9zM135.42 34.89h.9v.9h-.9zM162.96 93.45h.9v.9h-.9zM168.55 86.01h.9v.9h-.9zM152.53 41.71h.9v.9h-.9zM205.2 71.95h.9v.9h-.9zM200.23 76.98h.9v.9h-.9zM186.29 82.21h.9v.9h-.9zM185.91 93.24h.9v.9h-.9zM153.37 45.81h.9v.9h-.9zM152.07 47.07h.9v.9h-.9zM180.95 70.93h.9v.9h-.9zM196.24 90.53h.9v.9h-.9zM197.67 65.98h.9v.9h-.9zM177.44 91.13h.9v.9h-.9zM161.75 47.7h.9v.9h-.9zM170.27 99.86h.9v.9h-.9zM173.92 89.27h.9v.9h-.9zM173.33 71.14h.9v.9h-.9zM166.38 82.24h.9v.9h-.9zM133.66 90.97h.9v.9h-.9zM133.03 84.07h.9v.9h-.9zM165.33 88.23h.9v.9h-.9zM200.62 91.47h.9v.9h-.9zM192.63 33.02h.9v.9h-.9zM197.16 49.08h.9v.9h-.9zM182.62 48.19h.9v.9h-.9zM196.24 53.65h.9v.9h-.9zM148.02 113.27h.9v.9h-.9zM169.23 72.2h.9v.9h-.9zM166.32 111.31h.9v.9h-.9zM185.32 78.75h.9v.9h-.9zM161.61 48.22h.9v.9h-.9zM164.08 48.44h.9v.9h-.9zM205.71 66.77h.9v.9h-.9zM154.29 43.91h.9v.9h-.9zM187.4 48.39h.9v.9h-.9zM166.02 103.42h.9v.9h-.9zM134.35 89.57h.9v.9h-.9zM200.24 63.73h.9v.9h-.9zM165.11 73.48h.9v.9h-.9zM169.24 89.26h.9v.9h-.9zM165.91 88.5h.9v.9h-.9zM163.77 71.96h.9v.9h-.9zM191.3 43.19h.9v.9h-.9zM133.78 71.21h.9v.9h-.9zM166.88 77.46h.9v.9h-.9zM175.35 73.06h.9v.9h-.9zM137.39 105.69h.9v.9h-.9zM175.56 67.86h.9v.9h-.9zM200.76 68.56h.9v.9h-.9zM172.59 40.59h.9v.9h-.9zM175.75 73.2h.9v.9h-.9zM167.86 45.77h.9v.9h-.9zM189.08 83.17h.9v.9h-.9zM204.6 57.46h.9v.9h-.9zM160.28 42.67h.9v.9h-.9zM169.24 69.37h.9v.9h-.9zM171.42 72.32h.9v.9h-.9zM167.67 68.21h.9v.9h-.9zM144.58 43.54h.9v.9h-.9zM193.49 83.51h.9v.9h-.9zM163.68 72.35h.9v.9h-.9zM198.12 67.64h.9v.9h-.9zM180.57 41.58h.9v.9h-.9zM182.61 79.61h.9v.9h-.9zM182.92 81.42h.9v.9h-.9zM194.12 43.89h.9v.9h-.9zM175.12 67.81h.9v.9h-.9zM167.86 86.33h.9v.9h-.9zM200.62 53.46h.9v.9h-.9zM203.64 71.84h.9v.9h-.9zM184.88 48.45h.9v.9h-.9zM154.61 30.86h.9v.9h-.9zM173.58 48.79h.9v.9h-.9zM176.43 40.8h.9v.9h-.9zM165.06 42.18h.9v.9h-.9zM170.94 83.53h.9v.9h-.9zM170.07 71.72h.9v.9h-.9zM133.12 38.58h.9v.9h-.9zM159.86 105.12h.9v.9h-.9zM198.1 68.78h.9v.9h-.9zM194.12 81.62h.9v.9h-.9zM155.65 43.55h.9v.9h-.9zM195.48 53.21h.9v.9h-.9zM150.58 43.05h.9v.9h-.9zM180.11 73.51h.9v.9h-.9zM167.55 81.51h.9v.9h-.9zM169.97 48.72h.9v.9h-.9zM171.3 92.92h.9v.9h-.9zM200.16 73.29h.9v.9h-.9zM147.29 39.5h.9v.9h-.9zM138.67 41.15h.9v.9h-.9zM169.14 69.69h.9v.9h-.9zM136.85 112.89h.9v.9h-.9zM167.28 83.97h.9v.9h-.9zM164.8 110.08h.9v.9h-.9zM169.85 69.66h.9v.9h-.9zM143.82 42.81h.9v.9h-.9zM186.23 81.41h.9v.9h-.9zM197.49 59.27h.9v.9h-.9zM133.56 85.52h.9v.9h-.9zM185.45 48.41h.9v.9h-.9zM160.2 107.45h.9v.9h-.9zM172.72 47.54h.9v.9h-.9zM197.01 72.24h.9v.9h-.9zM144.69 43.62h.9v.9h-.9zM166.19 91.92h.9v.9h-.9zM170.61 92.87h.9v.9h-.9zM169.93 86.59h.9v.9h-.9zM172.55 80.31h.9v.9h-.9zM165.98 99.14h.9v.9h-.9zM165.93 86.49h.9v.9h-.9zM173.38 97.56h.9v.9h-.9zM174.51 74.59h.9v.9h-.9zM175.6 93.7h.9v.9h-.9zM165.74 85.96h.9v.9h-.9zM180.47 88.36h.9v.9h-.9zM174.2 76.11h.9v.9h-.9zM170.98 97.59h.9v.9h-.9zM166.05 78.79h.9v.9h-.9zM172.81 98.15h.9v.9h-.9zM177.26 75.16h.9v.9h-.9zM177.24 85.14h.9v.9h-.9zM174.76 96.22h.9v.9h-.9zM174.12 73.49h.9v.9h-.9zM181 83.94h.9v.9h-.9zM165.29 84.15h.9v.9h-.9zM171.01 86h.9v.9h-.9zM166.15 94.2h.9v.9h-.9zM178.42 98.74h.9v.9h-.9zM169.83 75.16h.9v.9h-.9zM177.26 96.27h.9v.9h-.9zM168 84.81h.9v.9h-.9zM172.02 93.98h.9v.9h-.9zM181.52 99.82h.9v.9h-.9zM170.42 74.46h.9v.9h-.9zM176.53 97.38h.9v.9h-.9zM153.43 67.99h.9v.9h-.9zM173.98 53.54h.9v.9h-.9zM159.83 66.22h.9v.9h-.9zM180.59 60.67h.9v.9h-.9zM151.85 59.9h.9v.9h-.9zM164.19 59.4h.9v.9h-.9zM155.54 58.98h.9v.9h-.9zM169.03 50.19h.9v.9h-.9zM141.83 62.96h.9v.9h-.9zM196.77 68.29h.9v.9h-.9zM194.34 69.3h.9v.9h-.9zM179.72 55.32h.9v.9h-.9zM147.76 58.28h.9v.9h-.9zM158.32 68.01h.9v.9h-.9zM156.21 57.35h.9v.9h-.9zM166.3 62.56h.9v.9h-.9zM173.04 62.67h.9v.9h-.9zM183.68 51.31h.9v.9h-.9zM142.11 58.19h.9v.9h-.9zM199.28 56.83h.9v.9h-.9zM162.27 66.06h.9v.9h-.9zM146.94 69.26h.9v.9h-.9zM188.73 57.89h.9v.9h-.9zM162.52 56.55h.9v.9h-.9zM156.9 63.78h.9v.9h-.9zM185.28 66.84h.9v.9h-.9zM173.34 53.78h.9v.9h-.9zM141.44 54.38h.9v.9h-.9zM181.07 55.92h.9v.9h-.9zM193.37 63.6h.9v.9h-.9z" fill="#4858ff" fill-opacity=".6"/></g>
<path d="M136.5 49.4H206.8V71.9H136.5ZM163.5 49.4V108.7M183.3 49.4V71.9M136.5 71.9V108.7H163.5M183.3 71.9V107.1H206.8V71.9" stroke="#111" stroke-width="1.6" fill="none"/>
<rect x="221.5" y="28.5" width="87" height="87.2" fill="#fff" stroke="#b4b4b4" stroke-width="1.1"/>
<g filter="url(#soft)"><path d="M274.5 46.5h1v1h-1zM283.5 47.5h1v1h-1zM271.5 48.5h1v1h-1zM273.5 48.5h1v1h-1zM237.5 49.5h1v1h-1zM242.5 49.5h1v1h-1zM245.5 49.5h1v1h-1zM276.5 49.5h1v1h-1zM242.5 50.5h1v1h-1zM255.5 50.5h1v1h-1zM258.5 50.5h1v1h-1zM278.5 50.5h1v1h-1zM282.5 50.5h1v1h-1zM238.5 51.5h1v1h-1zM248.5 51.5h1v1h-1zM252.5 51.5h1v1h-1zM259.5 51.5h1v1h-1zM223.5 52.5h1v1h-1zM232.5 52.5h1v1h-1zM240.5 52.5h1v1h-1zM244.5 52.5h1v1h-1zM247.5 52.5h1v1h-1zM251.5 52.5h1v1h-1zM256.5 52.5h1v1h-1zM271.5 52.5h1v1h-1zM272.5 52.5h1v1h-1zM284.5 52.5h1v1h-1zM286.5 52.5h1v1h-1zM287.5 52.5h1v1h-1zM230.5 53.5h1v1h-1zM235.5 53.5h1v1h-1zM238.5 53.5h1v1h-1zM240.5 53.5h1v1h-1zM243.5 53.5h1v1h-1zM246.5 53.5h1v1h-1zM248.5 53.5h1v1h-1zM249.5 53.5h1v1h-1zM252.5 53.5h1v1h-1zM223.5 54.5h1v1h-1zM225.5 54.5h1v1h-1zM234.5 54.5h1v1h-1zM241.5 54.5h1v1h-1zM223.5 55.5h1v1h-1zM230.5 55.5h1v1h-1zM235.5 55.5h1v1h-1zM231.5 56.5h1v1h-1zM225.5 57.5h1v1h-1zM230.5 57.5h1v1h-1zM288.5 57.5h1v1h-1zM228.5 58.5h1v1h-1zM230.5 58.5h1v1h-1zM231.5 58.5h1v1h-1zM289.5 59.5h1v1h-1zM226.5 60.5h1v1h-1zM229.5 60.5h1v1h-1zM232.5 60.5h1v1h-1zM229.5 61.5h1v1h-1zM227.5 62.5h1v1h-1zM234.5 62.5h1v1h-1zM242.5 62.5h1v1h-1zM289.5 62.5h1v1h-1zM230.5 63.5h1v1h-1zM231.5 63.5h1v1h-1zM233.5 63.5h1v1h-1zM239.5 63.5h1v1h-1zM242.5 63.5h1v1h-1zM243.5 63.5h1v1h-1zM245.5 63.5h1v1h-1zM255.5 63.5h1v1h-1zM256.5 63.5h1v1h-1zM266.5 63.5h1v1h-1zM288.5 63.5h1v1h-1zM289.5 63.5h1v1h-1zM223.5 64.5h1v1h-1zM230.5 64.5h1v1h-1zM236.5 64.5h1v1h-1zM237.5 64.5h1v1h-1zM243.5 64.5h1v1h-1zM248.5 64.5h1v1h-1zM249.5 64.5h1v1h-1zM258.5 64.5h1v1h-1zM288.5 64.5h1v1h-1zM229.5 65.5h1v1h-1zM243.5 65.5h1v1h-1zM252.5 65.5h1v1h-1zM263.5 65.5h1v1h-1zM247.5 66.5h1v1h-1zM269.5 66.5h1v1h-1zM271.5 66.5h1v1h-1zM290.5 66.5h1v1h-1zM228.5 67.5h1v1h-1zM231.5 67.5h1v1h-1zM233.5 67.5h1v1h-1zM242.5 67.5h1v1h-1zM249.5 67.5h1v1h-1zM254.5 67.5h1v1h-1zM256.5 67.5h1v1h-1zM258.5 67.5h1v1h-1zM270.5 67.5h1v1h-1zM260.5 68.5h1v1h-1zM273.5 68.5h1v1h-1zM224.5 69.5h1v1h-1zM228.5 69.5h1v1h-1zM237.5 69.5h1v1h-1zM261.5 69.5h1v1h-1zM264.5 69.5h1v1h-1zM272.5 69.5h1v1h-1zM273.5 69.5h1v1h-1zM231.5 70.5h1v1h-1zM237.5 70.5h1v1h-1zM240.5 70.5h1v1h-1zM244.5 70.5h1v1h-1zM263.5 70.5h1v1h-1zM272.5 70.5h1v1h-1zM290.5 70.5h1v1h-1zM254.5 71.5h1v1h-1zM224.5 72.5h1v1h-1zM225.5 72.5h1v1h-1zM231.5 72.5h1v1h-1zM241.5 72.5h1v1h-1zM259.5 72.5h1v1h-1zM269.5 72.5h1v1h-1zM225.5 73.5h1v1h-1zM230.5 73.5h1v1h-1zM232.5 73.5h1v1h-1zM240.5 73.5h1v1h-1zM243.5 73.5h1v1h-1zM259.5 73.5h1v1h-1zM234.5 74.5h1v1h-1zM236.5 74.5h1v1h-1zM257.5 74.5h1v1h-1zM266.5 74.5h1v1h-1zM270.5 74.5h1v1h-1zM275.5 74.5h1v1h-1zM288.5 74.5h1v1h-1zM225.5 75.5h1v1h-1zM231.5 75.5h1v1h-1zM234.5 75.5h1v1h-1zM277.5 75.5h1v1h-1zM290.5 75.5h1v1h-1zM225.5 76.5h1v1h-1zM232.5 76.5h1v1h-1zM239.5 76.5h1v1h-1zM240.5 76.5h1v1h-1zM242.5 76.5h1v1h-1zM251.5 76.5h1v1h-1zM275.5 76.5h1v1h-1zM231.5 77.5h1v1h-1zM232.5 77.5h1v1h-1zM237.5 77.5h1v1h-1zM258.5 77.5h1v1h-1zM268.5 77.5h1v1h-1zM290.5 77.5h1v1h-1zM248.5 78.5h1v1h-1zM252.5 78.5h1v1h-1zM257.5 78.5h1v1h-1zM289.5 78.5h1v1h-1zM222.5 79.5h1v1h-1zM227.5 79.5h1v1h-1zM232.5 79.5h1v1h-1zM235.5 79.5h1v1h-1zM262.5 79.5h1v1h-1zM264.5 79.5h1v1h-1zM234.5 80.5h1v1h-1zM238.5 80.5h1v1h-1zM240.5 80.5h1v1h-1zM243.5 80.5h1v1h-1zM245.5 80.5h1v1h-1zM248.5 80.5h1v1h-1zM266.5 80.5h1v1h-1zM270.5 80.5h1v1h-1zM278.5 80.5h1v1h-1zM231.5 81.5h1v1h-1zM235.5 81.5h1v1h-1zM236.5 81.5h1v1h-1zM237.5 81.5h1v1h-1zM249.5 81.5h1v1h-1zM253.5 81.5h1v1h-1zM257.5 81.5h1v1h-1zM277.5 81.5h1v1h-1zM288.5 81.5h1v1h-1zM226.5 82.5h1v1h-1zM232.5 82.5h1v1h-1zM241.5 82.5h1v1h-1zM279.5 82.5h1v1h-1zM289.5 82.5h1v1h-1zM239.5 83.5h1v1h-1zM246.5 83.5h1v1h-1zM267.5 83.5h1v1h-1zM268.5 83.5h1v1h-1zM228.5 84.5h1v1h-1zM233.5 84.5h1v1h-1zM239.5 84.5h1v1h-1zM242.5 84.5h1v1h-1zM250.5 84.5h1v1h-1zM258.5 84.5h1v1h-1zM279.5 84.5h1v1h-1zM290.5 84.5h1v1h-1zM225.5 85.5h1v1h-1zM226.5 85.5h1v1h-1zM234.5 85.5h1v1h-1zM236.5 85.5h1v1h-1zM237.5 85.5h1v1h-1zM238.5 85.5h1v1h-1zM242.5 85.5h1v1h-1zM244.5 85.5h1v1h-1zM250.5 85.5h1v1h-1zM258.5 85.5h1v1h-1zM263.5 85.5h1v1h-1zM268.5 85.5h1v1h-1zM287.5 85.5h1v1h-1zM238.5 86.5h1v1h-1zM245.5 86.5h1v1h-1zM248.5 86.5h1v1h-1zM258.5 86.5h1v1h-1zM262.5 86.5h1v1h-1zM281.5 86.5h1v1h-1zM234.5 87.5h1v1h-1zM236.5 87.5h1v1h-1zM238.5 87.5h1v1h-1zM241.5 87.5h1v1h-1zM250.5 87.5h1v1h-1zM251.5 87.5h1v1h-1zM254.5 87.5h1v1h-1zM260.5 87.5h1v1h-1zM286.5 87.5h1v1h-1zM226.5 88.5h1v1h-1zM235.5 88.5h1v1h-1zM236.5 88.5h1v1h-1zM249.5 88.5h1v1h-1zM251.5 88.5h1v1h-1zM254.5 88.5h1v1h-1zM268.5 88.5h1v1h-1zM273.5 88.5h1v1h-1zM282.5 88.5h1v1h-1zM283.5 88.5h1v1h-1zM287.5 88.5h1v1h-1zM229.5 89.5h1v1h-1zM232.5 89.5h1v1h-1zM236.5 89.5h1v1h-1zM247.5 89.5h1v1h-1zM256.5 89.5h1v1h-1zM279.5 89.5h1v1h-1zM282.5 89.5h1v1h-1zM283.5 89.5h1v1h-1zM230.5 90.5h1v1h-1zM232.5 90.5h1v1h-1zM238.5 90.5h1v1h-1zM246.5 90.5h1v1h-1zM247.5 90.5h1v1h-1zM251.5 90.5h1v1h-1zM229.5 91.5h1v1h-1zM240.5 91.5h1v1h-1zM259.5 91.5h1v1h-1zM228.5 92.5h1v1h-1zM231.5 92.5h1v1h-1zM243.5 92.5h1v1h-1zM253.5 92.5h1v1h-1zM260.5 92.5h1v1h-1zM266.5 92.5h1v1h-1zM230.5 93.5h1v1h-1zM231.5 93.5h1v1h-1zM232.5 93.5h1v1h-1zM246.5 93.5h1v1h-1zM255.5 93.5h1v1h-1zM245.5 94.5h1v1h-1zM257.5 94.5h1v1h-1zM222.5 95.5h1v1h-1zM230.5 95.5h1v1h-1zM241.5 95.5h1v1h-1zM230.5 96.5h1v1h-1zM241.5 96.5h1v1h-1zM249.5 96.5h1v1h-1zM263.5 96.5h1v1h-1zM228.5 97.5h1v1h-1zM230.5 97.5h1v1h-1zM231.5 97.5h1v1h-1zM250.5 97.5h1v1h-1zM256.5 97.5h1v1h-1zM228.5 98.5h1v1h-1zM231.5 98.5h1v1h-1zM251.5 98.5h1v1h-1zM230.5 99.5h1v1h-1zM240.5 99.5h1v1h-1zM252.5 99.5h1v1h-1zM259.5 99.5h1v1h-1zM239.5 100.5h1v1h-1zM242.5 100.5h1v1h-1zM252.5 100.5h1v1h-1zM227.5 101.5h1v1h-1zM258.5 101.5h1v1h-1zM240.5 102.5h1v1h-1zM268.5 102.5h1v1h-1zM229.5 103.5h1v1h-1zM231.5 103.5h1v1h-1zM232.5 103.5h1v1h-1zM240.5 103.5h1v1h-1zM247.5 103.5h1v1h-1zM266.5 103.5h1v1h-1zM227.5 104.5h1v1h-1zM230.5 104.5h1v1h-1zM235.5 104.5h1v1h-1zM254.5 104.5h1v1h-1zM258.5 104.5h1v1h-1zM231.5 105.5h1v1h-1zM232.5 105.5h1v1h-1zM235.5 105.5h1v1h-1zM239.5 105.5h1v1h-1zM256.5 105.5h1v1h-1zM239.5 106.5h1v1h-1zM228.5 107.5h1v1h-1zM230.5 108.5h1v1h-1zM251.5 108.5h1v1h-1zM235.5 110.5h1v1h-1zM242.5 112.5h1v1h-1zM234.5 113.5h1v1h-1z" fill="#2030ff"/><path d="M238.5 48.5h1v1h-1zM279.5 48.5h1v1h-1zM280.5 48.5h1v1h-1zM250.5 49.5h1v1h-1zM263.5 49.5h1v1h-1zM277.5 49.5h1v1h-1zM281.5 49.5h1v1h-1zM230.5 50.5h1v1h-1zM238.5 50.5h1v1h-1zM275.5 50.5h1v1h-1zM277.5 50.5h1v1h-1zM279.5 50.5h1v1h-1zM228.5 51.5h1v1h-1zM240.5 51.5h1v1h-1zM261.5 51.5h1v1h-1zM269.5 51.5h1v1h-1zM272.5 51.5h1v1h-1zM273.5 51.5h1v1h-1zM277.5 51.5h1v1h-1zM281.5 51.5h1v1h-1zM282.5 51.5h1v1h-1zM283.5 51.5h1v1h-1zM237.5 52.5h1v1h-1zM255.5 52.5h1v1h-1zM257.5 52.5h1v1h-1zM258.5 52.5h1v1h-1zM259.5 52.5h1v1h-1zM260.5 52.5h1v1h-1zM263.5 52.5h1v1h-1zM264.5 52.5h1v1h-1zM269.5 52.5h1v1h-1zM274.5 52.5h1v1h-1zM228.5 53.5h1v1h-1zM229.5 53.5h1v1h-1zM236.5 53.5h1v1h-1zM241.5 53.5h1v1h-1zM247.5 53.5h1v1h-1zM251.5 53.5h1v1h-1zM227.5 54.5h1v1h-1zM231.5 54.5h1v1h-1zM232.5 54.5h1v1h-1zM236.5 54.5h1v1h-1zM237.5 54.5h1v1h-1zM225.5 55.5h1v1h-1zM287.5 55.5h1v1h-1zM230.5 56.5h1v1h-1zM228.5 57.5h1v1h-1zM225.5 58.5h1v1h-1zM290.5 58.5h1v1h-1zM225.5 59.5h1v1h-1zM226.5 59.5h1v1h-1zM229.5 59.5h1v1h-1zM230.5 59.5h1v1h-1zM288.5 59.5h1v1h-1zM231.5 60.5h1v1h-1zM289.5 60.5h1v1h-1zM226.5 61.5h1v1h-1zM228.5 61.5h1v1h-1zM231.5 61.5h1v1h-1zM288.5 61.5h1v1h-1zM223.5 62.5h1v1h-1zM225.5 62.5h1v1h-1zM243.5 62.5h1v1h-1zM288.5 62.5h1v1h-1zM291.5 62.5h1v1h-1zM228.5 63.5h1v1h-1zM235.5 63.5h1v1h-1zM236.5 63.5h1v1h-1zM244.5 63.5h1v1h-1zM249.5 63.5h1v1h-1zM254.5 63.5h1v1h-1zM257.5 63.5h1v1h-1zM258.5 63.5h1v1h-1zM260.5 63.5h1v1h-1zM261.5 63.5h1v1h-1zM262.5 63.5h1v1h-1zM224.5 64.5h1v1h-1zM235.5 64.5h1v1h-1zM238.5 64.5h1v1h-1zM242.5 64.5h1v1h-1zM254.5 64.5h1v1h-1zM255.5 64.5h1v1h-1zM261.5 64.5h1v1h-1zM265.5 64.5h1v1h-1zM266.5 64.5h1v1h-1zM267.5 64.5h1v1h-1zM268.5 64.5h1v1h-1zM233.5 65.5h1v1h-1zM244.5 65.5h1v1h-1zM257.5 65.5h1v1h-1zM231.5 66.5h1v1h-1zM234.5 66.5h1v1h-1zM237.5 66.5h1v1h-1zM246.5 66.5h1v1h-1zM226.5 67.5h1v1h-1zM232.5 67.5h1v1h-1zM241.5 67.5h1v1h-1zM243.5 67.5h1v1h-1zM272.5 67.5h1v1h-1zM230.5 68.5h1v1h-1zM233.5 68.5h1v1h-1zM237.5 68.5h1v1h-1zM238.5 68.5h1v1h-1zM241.5 68.5h1v1h-1zM289.5 68.5h1v1h-1zM290.5 68.5h1v1h-1zM230.5 69.5h1v1h-1zM244.5 69.5h1v1h-1zM260.5 69.5h1v1h-1zM274.5 70.5h1v1h-1zM231.5 71.5h1v1h-1zM232.5 71.5h1v1h-1zM269.5 71.5h1v1h-1zM237.5 72.5h1v1h-1zM239.5 72.5h1v1h-1zM240.5 72.5h1v1h-1zM261.5 72.5h1v1h-1zM263.5 72.5h1v1h-1zM272.5 72.5h1v1h-1zM234.5 73.5h1v1h-1zM236.5 73.5h1v1h-1zM242.5 73.5h1v1h-1zM273.5 73.5h1v1h-1zM275.5 73.5h1v1h-1zM276.5 73.5h1v1h-1zM235.5 74.5h1v1h-1zM273.5 74.5h1v1h-1zM233.5 75.5h1v1h-1zM238.5 75.5h1v1h-1zM239.5 75.5h1v1h-1zM263.5 75.5h1v1h-1zM288.5 75.5h1v1h-1zM231.5 76.5h1v1h-1zM237.5 76.5h1v1h-1zM238.5 76.5h1v1h-1zM241.5 76.5h1v1h-1zM245.5 76.5h1v1h-1zM247.5 76.5h1v1h-1zM258.5 76.5h1v1h-1zM261.5 76.5h1v1h-1zM288.5 76.5h1v1h-1zM240.5 77.5h1v1h-1zM257.5 77.5h1v1h-1zM260.5 77.5h1v1h-1zM266.5 77.5h1v1h-1zM269.5 77.5h1v1h-1zM232.5 78.5h1v1h-1zM236.5 78.5h1v1h-1zM245.5 78.5h1v1h-1zM278.5 78.5h1v1h-1zM233.5 79.5h1v1h-1zM236.5 79.5h1v1h-1zM226.5 80.5h1v1h-1zM227.5 80.5h1v1h-1zM228.5 80.5h1v1h-1zM231.5 80.5h1v1h-1zM235.5 80.5h1v1h-1zM250.5 80.5h1v1h-1zM251.5 80.5h1v1h-1zM265.5 80.5h1v1h-1zM245.5 81.5h1v1h-1zM246.5 81.5h1v1h-1zM247.5 81.5h1v1h-1zM278.5 81.5h1v1h-1zM234.5 82.5h1v1h-1zM237.5 82.5h1v1h-1zM238.5 82.5h1v1h-1zM240.5 82.5h1v1h-1zM263.5 82.5h1v1h-1zM264.5 82.5h1v1h-1zM270.5 82.5h1v1h-1zM288.5 82.5h1v1h-1zM232.5 83.5h1v1h-1zM233.5 83.5h1v1h-1zM235.5 83.5h1v1h-1zM241.5 83.5h1v1h-1zM229.5 84.5h1v1h-1zM231.5 84.5h1v1h-1zM236.5 84.5h1v1h-1zM237.5 84.5h1v1h-1zM240.5 84.5h1v1h-1zM261.5 84.5h1v1h-1zM276.5 84.5h1v1h-1zM277.5 84.5h1v1h-1zM227.5 85.5h1v1h-1zM231.5 85.5h1v1h-1zM232.5 85.5h1v1h-1zM235.5 85.5h1v1h-1zM240.5 85.5h1v1h-1zM241.5 85.5h1v1h-1zM251.5 85.5h1v1h-1zM253.5 85.5h1v1h-1zM254.5 85.5h1v1h-1zM280.5 85.5h1v1h-1zM288.5 85.5h1v1h-1zM229.5 86.5h1v1h-1zM232.5 86.5h1v1h-1zM233.5 86.5h1v1h-1zM240.5 86.5h1v1h-1zM242.5 86.5h1v1h-1zM254.5 86.5h1v1h-1zM268.5 86.5h1v1h-1zM228.5 87.5h1v1h-1zM231.5 87.5h1v1h-1zM233.5 87.5h1v1h-1zM252.5 87.5h1v1h-1zM261.5 87.5h1v1h-1zM266.5 87.5h1v1h-1zM233.5 88.5h1v1h-1zM234.5 89.5h1v1h-1zM255.5 89.5h1v1h-1zM258.5 89.5h1v1h-1zM261.5 89.5h1v1h-1zM265.5 89.5h1v1h-1zM281.5 89.5h1v1h-1zM286.5 89.5h1v1h-1zM227.5 90.5h1v1h-1zM229.5 90.5h1v1h-1zM234.5 90.5h1v1h-1zM237.5 90.5h1v1h-1zM240.5 90.5h1v1h-1zM241.5 90.5h1v1h-1zM249.5 90.5h1v1h-1zM284.5 90.5h1v1h-1zM225.5 91.5h1v1h-1zM227.5 91.5h1v1h-1zM232.5 91.5h1v1h-1zM237.5 91.5h1v1h-1zM242.5 91.5h1v1h-1zM247.5 91.5h1v1h-1zM258.5 91.5h1v1h-1zM261.5 91.5h1v1h-1zM286.5 91.5h1v1h-1zM227.5 92.5h1v1h-1zM232.5 92.5h1v1h-1zM238.5 92.5h1v1h-1zM239.5 92.5h1v1h-1zM240.5 92.5h1v1h-1zM247.5 92.5h1v1h-1zM229.5 93.5h1v1h-1zM240.5 93.5h1v1h-1zM241.5 93.5h1v1h-1zM243.5 93.5h1v1h-1zM259.5 93.5h1v1h-1zM266.5 93.5h1v1h-1zM230.5 94.5h1v1h-1zM249.5 94.5h1v1h-1zM228.5 95.5h1v1h-1zM239.5 95.5h1v1h-1zM260.5 95.5h1v1h-1zM266.5 95.5h1v1h-1zM247.5 96.5h1v1h-1zM250.5 96.5h1v1h-1zM256.5 96.5h1v1h-1zM259.5 96.5h1v1h-1zM241.5 97.5h1v1h-1zM242.5 97.5h1v1h-1zM248.5 97.5h1v1h-1zM258.5 97.5h1v1h-1zM266.5 97.5h1v1h-1zM241.5 98.5h1v1h-1zM231.5 99.5h1v1h-1zM239.5 99.5h1v1h-1zM243.5 99.5h1v1h-1zM250.5 99.5h1v1h-1zM230.5 100.5h1v1h-1zM231.5 100.5h1v1h-1zM254.5 100.5h1v1h-1zM228.5 101.5h1v1h-1zM253.5 101.5h1v1h-1zM229.5 102.5h1v1h-1zM233.5 102.5h1v1h-1zM235.5 103.5h1v1h-1zM240.5 104.5h1v1h-1zM250.5 104.5h1v1h-1zM261.5 104.5h1v1h-1zM230.5 105.5h1v1h-1zM234.5 105.5h1v1h-1zM236.5 105.5h1v1h-1zM249.5 105.5h1v1h-1zM235.5 106.5h1v1h-1zM262.5 106.5h1v1h-1zM227.5 107.5h1v1h-1zM237.5 107.5h1v1h-1zM245.5 108.5h1v1h-1zM255.5 109.5h1v1h-1zM237.5 110.5h1v1h-1zM232.5 112.5h1v1h-1zM240.5 112.5h1v1h-1z" fill="#3848ff"/><path d="M279.5 47.5h1v1h-1zM282.5 47.5h1v1h-1zM233.5 49.5h1v1h-1zM257.5 49.5h1v1h-1zM279.5 49.5h1v1h-1zM247.5 50.5h1v1h-1zM250.5 50.5h1v1h-1zM270.5 50.5h1v1h-1zM274.5 50.5h1v1h-1zM281.5 50.5h1v1h-1zM283.5 50.5h1v1h-1zM231.5 51.5h1v1h-1zM254.5 51.5h1v1h-1zM256.5 51.5h1v1h-1zM278.5 51.5h1v1h-1zM228.5 52.5h1v1h-1zM229.5 52.5h1v1h-1zM249.5 52.5h1v1h-1zM250.5 52.5h1v1h-1zM252.5 52.5h1v1h-1zM254.5 52.5h1v1h-1zM265.5 52.5h1v1h-1zM267.5 52.5h1v1h-1zM268.5 52.5h1v1h-1zM283.5 52.5h1v1h-1zM232.5 53.5h1v1h-1zM233.5 53.5h1v1h-1zM242.5 53.5h1v1h-1zM245.5 53.5h1v1h-1zM233.5 54.5h1v1h-1zM286.5 54.5h1v1h-1zM288.5 54.5h1v1h-1zM226.5 55.5h1v1h-1zM228.5 55.5h1v1h-1zM228.5 56.5h1v1h-1zM229.5 56.5h1v1h-1zM233.5 56.5h1v1h-1zM289.5 56.5h1v1h-1zM226.5 57.5h1v1h-1zM227.5 57.5h1v1h-1zM229.5 57.5h1v1h-1zM226.5 58.5h1v1h-1zM227.5 58.5h1v1h-1zM288.5 58.5h1v1h-1zM289.5 58.5h1v1h-1zM227.5 59.5h1v1h-1zM228.5 59.5h1v1h-1zM290.5 59.5h1v1h-1zM225.5 60.5h1v1h-1zM290.5 60.5h1v1h-1zM225.5 61.5h1v1h-1zM230.5 61.5h1v1h-1zM232.5 61.5h1v1h-1zM230.5 62.5h1v1h-1zM235.5 62.5h1v1h-1zM236.5 62.5h1v1h-1zM244.5 62.5h1v1h-1zM229.5 63.5h1v1h-1zM265.5 63.5h1v1h-1zM290.5 63.5h1v1h-1zM231.5 64.5h1v1h-1zM234.5 64.5h1v1h-1zM240.5 64.5h1v1h-1zM257.5 64.5h1v1h-1zM228.5 65.5h1v1h-1zM230.5 65.5h1v1h-1zM232.5 65.5h1v1h-1zM234.5 65.5h1v1h-1zM249.5 65.5h1v1h-1zM258.5 65.5h1v1h-1zM270.5 65.5h1v1h-1zM255.5 66.5h1v1h-1zM258.5 66.5h1v1h-1zM272.5 66.5h1v1h-1zM292.5 66.5h1v1h-1zM234.5 67.5h1v1h-1zM235.5 67.5h1v1h-1zM255.5 67.5h1v1h-1zM266.5 67.5h1v1h-1zM229.5 68.5h1v1h-1zM231.5 68.5h1v1h-1zM242.5 68.5h1v1h-1zM229.5 69.5h1v1h-1zM232.5 69.5h1v1h-1zM235.5 69.5h1v1h-1zM239.5 69.5h1v1h-1zM241.5 69.5h1v1h-1zM243.5 69.5h1v1h-1zM250.5 69.5h1v1h-1zM254.5 69.5h1v1h-1zM269.5 69.5h1v1h-1zM271.5 69.5h1v1h-1zM290.5 69.5h1v1h-1zM223.5 70.5h1v1h-1zM232.5 70.5h1v1h-1zM233.5 70.5h1v1h-1zM235.5 70.5h1v1h-1zM245.5 70.5h1v1h-1zM258.5 70.5h1v1h-1zM266.5 70.5h1v1h-1zM269.5 70.5h1v1h-1zM273.5 70.5h1v1h-1zM244.5 71.5h1v1h-1zM255.5 71.5h1v1h-1zM289.5 71.5h1v1h-1zM228.5 72.5h1v1h-1zM235.5 72.5h1v1h-1zM238.5 72.5h1v1h-1zM258.5 72.5h1v1h-1zM262.5 72.5h1v1h-1zM273.5 72.5h1v1h-1zM289.5 72.5h1v1h-1zM226.5 73.5h1v1h-1zM247.5 73.5h1v1h-1zM248.5 73.5h1v1h-1zM249.5 73.5h1v1h-1zM270.5 73.5h1v1h-1zM228.5 74.5h1v1h-1zM256.5 74.5h1v1h-1zM262.5 74.5h1v1h-1zM267.5 74.5h1v1h-1zM276.5 74.5h1v1h-1zM229.5 75.5h1v1h-1zM230.5 75.5h1v1h-1zM232.5 75.5h1v1h-1zM235.5 75.5h1v1h-1zM237.5 75.5h1v1h-1zM252.5 75.5h1v1h-1zM259.5 75.5h1v1h-1zM262.5 75.5h1v1h-1zM275.5 75.5h1v1h-1zM292.5 75.5h1v1h-1zM222.5 76.5h1v1h-1zM234.5 76.5h1v1h-1zM244.5 76.5h1v1h-1zM265.5 76.5h1v1h-1zM269.5 76.5h1v1h-1zM272.5 76.5h1v1h-1zM277.5 76.5h1v1h-1zM229.5 77.5h1v1h-1zM230.5 77.5h1v1h-1zM241.5 77.5h1v1h-1zM244.5 77.5h1v1h-1zM248.5 77.5h1v1h-1zM252.5 77.5h1v1h-1zM277.5 77.5h1v1h-1zM227.5 78.5h1v1h-1zM230.5 78.5h1v1h-1zM233.5 78.5h1v1h-1zM235.5 78.5h1v1h-1zM237.5 78.5h1v1h-1zM255.5 78.5h1v1h-1zM238.5 79.5h1v1h-1zM245.5 79.5h1v1h-1zM255.5 79.5h1v1h-1zM256.5 79.5h1v1h-1zM258.5 79.5h1v1h-1zM260.5 79.5h1v1h-1zM268.5 79.5h1v1h-1zM270.5 79.5h1v1h-1zM244.5 80.5h1v1h-1zM247.5 80.5h1v1h-1zM252.5 80.5h1v1h-1zM253.5 80.5h1v1h-1zM263.5 80.5h1v1h-1zM226.5 81.5h1v1h-1zM262.5 81.5h1v1h-1zM268.5 81.5h1v1h-1zM231.5 82.5h1v1h-1zM248.5 82.5h1v1h-1zM254.5 82.5h1v1h-1zM260.5 82.5h1v1h-1zM268.5 82.5h1v1h-1zM269.5 82.5h1v1h-1zM227.5 83.5h1v1h-1zM228.5 83.5h1v1h-1zM230.5 83.5h1v1h-1zM223.5 84.5h1v1h-1zM227.5 84.5h1v1h-1zM230.5 84.5h1v1h-1zM241.5 84.5h1v1h-1zM252.5 84.5h1v1h-1zM265.5 84.5h1v1h-1zM245.5 85.5h1v1h-1zM227.5 86.5h1v1h-1zM230.5 86.5h1v1h-1zM249.5 86.5h1v1h-1zM279.5 86.5h1v1h-1zM288.5 86.5h1v1h-1zM290.5 86.5h1v1h-1zM242.5 87.5h1v1h-1zM255.5 87.5h1v1h-1zM262.5 87.5h1v1h-1zM280.5 87.5h1v1h-1zM225.5 88.5h1v1h-1zM239.5 88.5h1v1h-1zM260.5 88.5h1v1h-1zM263.5 88.5h1v1h-1zM281.5 88.5h1v1h-1zM284.5 88.5h1v1h-1zM222.5 89.5h1v1h-1zM227.5 89.5h1v1h-1zM235.5 89.5h1v1h-1zM237.5 89.5h1v1h-1zM242.5 89.5h1v1h-1zM263.5 89.5h1v1h-1zM272.5 89.5h1v1h-1zM284.5 89.5h1v1h-1zM228.5 90.5h1v1h-1zM231.5 90.5h1v1h-1zM233.5 90.5h1v1h-1zM235.5 90.5h1v1h-1zM236.5 90.5h1v1h-1zM253.5 90.5h1v1h-1zM279.5 90.5h1v1h-1zM233.5 91.5h1v1h-1zM234.5 91.5h1v1h-1zM238.5 91.5h1v1h-1zM246.5 91.5h1v1h-1zM268.5 91.5h1v1h-1zM230.5 92.5h1v1h-1zM242.5 92.5h1v1h-1zM251.5 92.5h1v1h-1zM265.5 92.5h1v1h-1zM248.5 93.5h1v1h-1zM239.5 94.5h1v1h-1zM240.5 94.5h1v1h-1zM241.5 94.5h1v1h-1zM246.5 94.5h1v1h-1zM248.5 94.5h1v1h-1zM252.5 94.5h1v1h-1zM253.5 94.5h1v1h-1zM263.5 94.5h1v1h-1zM242.5 95.5h1v1h-1zM257.5 95.5h1v1h-1zM231.5 96.5h1v1h-1zM258.5 96.5h1v1h-1zM262.5 96.5h1v1h-1zM266.5 96.5h1v1h-1zM243.5 97.5h1v1h-1zM257.5 97.5h1v1h-1zM267.5 97.5h1v1h-1zM243.5 98.5h1v1h-1zM247.5 98.5h1v1h-1zM254.5 98.5h1v1h-1zM255.5 98.5h1v1h-1zM260.5 98.5h1v1h-1zM261.5 98.5h1v1h-1zM265.5 98.5h1v1h-1zM258.5 99.5h1v1h-1zM265.5 99.5h1v1h-1zM244.5 100.5h1v1h-1zM251.5 100.5h1v1h-1zM255.5 100.5h1v1h-1zM230.5 101.5h1v1h-1zM251.5 101.5h1v1h-1zM256.5 101.5h1v1h-1zM257.5 101.5h1v1h-1zM232.5 102.5h1v1h-1zM241.5 102.5h1v1h-1zM233.5 103.5h1v1h-1zM234.5 103.5h1v1h-1zM239.5 103.5h1v1h-1zM258.5 103.5h1v1h-1zM267.5 103.5h1v1h-1zM232.5 104.5h1v1h-1zM237.5 104.5h1v1h-1zM239.5 104.5h1v1h-1zM241.5 104.5h1v1h-1zM269.5 104.5h1v1h-1zM228.5 105.5h1v1h-1zM241.5 105.5h1v1h-1zM253.5 106.5h1v1h-1zM236.5 107.5h1v1h-1zM248.5 107.5h1v1h-1zM246.5 110.5h1v1h-1zM228.5 111.5h1v1h-1zM232.5 111.5h1v1h-1zM254.5 111.5h1v1h-1zM235.5 112.5h1v1h-1zM244.5 113.5h1v1h-1z" fill="#5060ff"/><path d="M284.5 46.5h1v1h-1zM275.5 47.5h1v1h-1zM236.5 48.5h1v1h-1zM277.5 48.5h1v1h-1zM278.5 48.5h1v1h-1zM255.5 49.5h1v1h-1zM261.5 50.5h1v1h-1zM264.5 50.5h1v1h-1zM230.5 51.5h1v1h-1zM234.5 51.5h1v1h-1zM251.5 51.5h1v1h-1zM260.5 51.5h1v1h-1zM264.5 51.5h1v1h-1zM265.5 51.5h1v1h-1zM266.5 51.5h1v1h-1zM268.5 51.5h1v1h-1zM271.5 51.5h1v1h-1zM274.5 51.5h1v1h-1zM286.5 51.5h1v1h-1zM238.5 52.5h1v1h-1zM253.5 52.5h1v1h-1zM273.5 52.5h1v1h-1zM237.5 53.5h1v1h-1zM244.5 53.5h1v1h-1zM250.5 53.5h1v1h-1zM285.5 53.5h1v1h-1zM230.5 54.5h1v1h-1zM235.5 54.5h1v1h-1zM239.5 54.5h1v1h-1zM242.5 54.5h1v1h-1zM243.5 54.5h1v1h-1zM232.5 55.5h1v1h-1zM233.5 55.5h1v1h-1zM286.5 55.5h1v1h-1zM225.5 56.5h1v1h-1zM287.5 56.5h1v1h-1zM290.5 56.5h1v1h-1zM231.5 57.5h1v1h-1zM223.5 58.5h1v1h-1zM229.5 58.5h1v1h-1zM224.5 59.5h1v1h-1zM231.5 59.5h1v1h-1zM223.5 60.5h1v1h-1zM233.5 61.5h1v1h-1zM226.5 62.5h1v1h-1zM232.5 62.5h1v1h-1zM233.5 62.5h1v1h-1zM245.5 62.5h1v1h-1zM246.5 62.5h1v1h-1zM226.5 63.5h1v1h-1zM234.5 63.5h1v1h-1zM240.5 63.5h1v1h-1zM248.5 63.5h1v1h-1zM250.5 63.5h1v1h-1zM252.5 63.5h1v1h-1zM253.5 63.5h1v1h-1zM259.5 63.5h1v1h-1zM263.5 63.5h1v1h-1zM264.5 63.5h1v1h-1zM267.5 63.5h1v1h-1zM228.5 64.5h1v1h-1zM239.5 64.5h1v1h-1zM245.5 64.5h1v1h-1zM247.5 64.5h1v1h-1zM252.5 64.5h1v1h-1zM256.5 64.5h1v1h-1zM263.5 64.5h1v1h-1zM270.5 64.5h1v1h-1zM227.5 65.5h1v1h-1zM237.5 65.5h1v1h-1zM239.5 65.5h1v1h-1zM255.5 65.5h1v1h-1zM256.5 65.5h1v1h-1zM262.5 65.5h1v1h-1zM271.5 65.5h1v1h-1zM288.5 65.5h1v1h-1zM289.5 65.5h1v1h-1zM290.5 65.5h1v1h-1zM233.5 66.5h1v1h-1zM238.5 66.5h1v1h-1zM257.5 66.5h1v1h-1zM259.5 66.5h1v1h-1zM230.5 67.5h1v1h-1zM244.5 67.5h1v1h-1zM263.5 67.5h1v1h-1zM271.5 67.5h1v1h-1zM254.5 68.5h1v1h-1zM272.5 68.5h1v1h-1zM289.5 69.5h1v1h-1zM234.5 70.5h1v1h-1zM239.5 70.5h1v1h-1zM261.5 70.5h1v1h-1zM262.5 70.5h1v1h-1zM289.5 70.5h1v1h-1zM291.5 70.5h1v1h-1zM228.5 71.5h1v1h-1zM229.5 72.5h1v1h-1zM233.5 72.5h1v1h-1zM262.5 73.5h1v1h-1zM272.5 73.5h1v1h-1zM289.5 73.5h1v1h-1zM230.5 74.5h1v1h-1zM232.5 74.5h1v1h-1zM239.5 74.5h1v1h-1zM246.5 74.5h1v1h-1zM269.5 74.5h1v1h-1zM241.5 75.5h1v1h-1zM251.5 75.5h1v1h-1zM265.5 75.5h1v1h-1zM267.5 75.5h1v1h-1zM272.5 75.5h1v1h-1zM274.5 75.5h1v1h-1zM223.5 76.5h1v1h-1zM226.5 76.5h1v1h-1zM229.5 76.5h1v1h-1zM230.5 76.5h1v1h-1zM246.5 76.5h1v1h-1zM256.5 76.5h1v1h-1zM268.5 76.5h1v1h-1zM290.5 76.5h1v1h-1zM234.5 77.5h1v1h-1zM236.5 77.5h1v1h-1zM239.5 77.5h1v1h-1zM224.5 78.5h1v1h-1zM229.5 78.5h1v1h-1zM231.5 78.5h1v1h-1zM234.5 78.5h1v1h-1zM240.5 78.5h1v1h-1zM242.5 78.5h1v1h-1zM247.5 78.5h1v1h-1zM258.5 78.5h1v1h-1zM262.5 78.5h1v1h-1zM274.5 78.5h1v1h-1zM290.5 78.5h1v1h-1zM239.5 79.5h1v1h-1zM242.5 79.5h1v1h-1zM269.5 79.5h1v1h-1zM272.5 79.5h1v1h-1zM278.5 79.5h1v1h-1zM288.5 79.5h1v1h-1zM229.5 80.5h1v1h-1zM230.5 80.5h1v1h-1zM232.5 80.5h1v1h-1zM233.5 80.5h1v1h-1zM236.5 80.5h1v1h-1zM237.5 80.5h1v1h-1zM242.5 80.5h1v1h-1zM289.5 80.5h1v1h-1zM225.5 81.5h1v1h-1zM234.5 81.5h1v1h-1zM240.5 81.5h1v1h-1zM244.5 81.5h1v1h-1zM248.5 81.5h1v1h-1zM250.5 81.5h1v1h-1zM260.5 81.5h1v1h-1zM289.5 81.5h1v1h-1zM230.5 82.5h1v1h-1zM233.5 82.5h1v1h-1zM252.5 82.5h1v1h-1zM259.5 82.5h1v1h-1zM267.5 82.5h1v1h-1zM231.5 83.5h1v1h-1zM237.5 83.5h1v1h-1zM238.5 83.5h1v1h-1zM247.5 83.5h1v1h-1zM251.5 83.5h1v1h-1zM256.5 83.5h1v1h-1zM258.5 83.5h1v1h-1zM266.5 83.5h1v1h-1zM269.5 83.5h1v1h-1zM276.5 83.5h1v1h-1zM277.5 83.5h1v1h-1zM232.5 84.5h1v1h-1zM248.5 84.5h1v1h-1zM256.5 84.5h1v1h-1zM259.5 85.5h1v1h-1zM261.5 85.5h1v1h-1zM262.5 85.5h1v1h-1zM225.5 86.5h1v1h-1zM231.5 86.5h1v1h-1zM237.5 86.5h1v1h-1zM243.5 86.5h1v1h-1zM256.5 86.5h1v1h-1zM261.5 86.5h1v1h-1zM235.5 87.5h1v1h-1zM237.5 87.5h1v1h-1zM239.5 87.5h1v1h-1zM243.5 87.5h1v1h-1zM245.5 87.5h1v1h-1zM249.5 87.5h1v1h-1zM281.5 87.5h1v1h-1zM282.5 87.5h1v1h-1zM222.5 88.5h1v1h-1zM232.5 88.5h1v1h-1zM234.5 88.5h1v1h-1zM237.5 88.5h1v1h-1zM238.5 88.5h1v1h-1zM246.5 88.5h1v1h-1zM250.5 88.5h1v1h-1zM252.5 88.5h1v1h-1zM257.5 88.5h1v1h-1zM261.5 88.5h1v1h-1zM265.5 88.5h1v1h-1zM267.5 88.5h1v1h-1zM286.5 88.5h1v1h-1zM230.5 89.5h1v1h-1zM233.5 89.5h1v1h-1zM238.5 89.5h1v1h-1zM239.5 89.5h1v1h-1zM240.5 89.5h1v1h-1zM241.5 89.5h1v1h-1zM245.5 89.5h1v1h-1zM246.5 89.5h1v1h-1zM250.5 89.5h1v1h-1zM285.5 89.5h1v1h-1zM287.5 89.5h1v1h-1zM222.5 90.5h1v1h-1zM242.5 90.5h1v1h-1zM256.5 90.5h1v1h-1zM280.5 90.5h1v1h-1zM239.5 91.5h1v1h-1zM243.5 91.5h1v1h-1zM251.5 91.5h1v1h-1zM253.5 91.5h1v1h-1zM256.5 91.5h1v1h-1zM262.5 91.5h1v1h-1zM266.5 91.5h1v1h-1zM267.5 91.5h1v1h-1zM229.5 92.5h1v1h-1zM269.5 92.5h1v1h-1zM244.5 93.5h1v1h-1zM247.5 93.5h1v1h-1zM259.5 94.5h1v1h-1zM227.5 95.5h1v1h-1zM229.5 95.5h1v1h-1zM240.5 95.5h1v1h-1zM245.5 95.5h1v1h-1zM255.5 95.5h1v1h-1zM262.5 95.5h1v1h-1zM244.5 96.5h1v1h-1zM229.5 97.5h1v1h-1zM253.5 97.5h1v1h-1zM254.5 97.5h1v1h-1zM259.5 97.5h1v1h-1zM242.5 98.5h1v1h-1zM256.5 98.5h1v1h-1zM229.5 99.5h1v1h-1zM229.5 100.5h1v1h-1zM257.5 100.5h1v1h-1zM224.5 101.5h1v1h-1zM229.5 101.5h1v1h-1zM242.5 101.5h1v1h-1zM231.5 102.5h1v1h-1zM238.5 102.5h1v1h-1zM247.5 102.5h1v1h-1zM261.5 102.5h1v1h-1zM236.5 103.5h1v1h-1zM237.5 103.5h1v1h-1zM238.5 103.5h1v1h-1zM241.5 103.5h1v1h-1zM254.5 103.5h1v1h-1zM234.5 104.5h1v1h-1zM238.5 104.5h1v1h-1zM259.5 104.5h1v1h-1zM237.5 105.5h1v1h-1zM250.5 105.5h1v1h-1zM233.5 106.5h1v1h-1zM236.5 106.5h1v1h-1zM246.5 106.5h1v1h-1zM251.5 106.5h1v1h-1zM259.5 106.5h1v1h-1zM256.5 107.5h1v1h-1zM238.5 108.5h1v1h-1zM240.5 108.5h1v1h-1zM243.5 109.5h1v1h-1zM253.5 109.5h1v1h-1zM261.5 109.5h1v1h-1zM262.5 109.5h1v1h-1zM230.5 113.5h1v1h-1zM240.5 113.5h1v1h-1z" fill="#1848f0"/><path d="M281.5 46.5h1v1h-1zM241.5 50.5h1v1h-1zM244.5 50.5h1v1h-1zM256.5 50.5h1v1h-1zM280.5 50.5h1v1h-1zM284.5 50.5h1v1h-1zM246.5 51.5h1v1h-1zM253.5 51.5h1v1h-1zM257.5 51.5h1v1h-1zM276.5 51.5h1v1h-1zM233.5 52.5h1v1h-1zM235.5 52.5h1v1h-1zM241.5 52.5h1v1h-1zM243.5 52.5h1v1h-1zM246.5 52.5h1v1h-1zM266.5 52.5h1v1h-1zM270.5 52.5h1v1h-1zM239.5 53.5h1v1h-1zM288.5 53.5h1v1h-1zM238.5 54.5h1v1h-1zM240.5 54.5h1v1h-1zM287.5 54.5h1v1h-1zM224.5 55.5h1v1h-1zM234.5 55.5h1v1h-1zM288.5 55.5h1v1h-1zM227.5 56.5h1v1h-1zM232.5 56.5h1v1h-1zM232.5 57.5h1v1h-1zM287.5 57.5h1v1h-1zM289.5 57.5h1v1h-1zM230.5 60.5h1v1h-1zM288.5 60.5h1v1h-1zM291.5 60.5h1v1h-1zM227.5 61.5h1v1h-1zM228.5 62.5h1v1h-1zM231.5 62.5h1v1h-1zM232.5 63.5h1v1h-1zM237.5 63.5h1v1h-1zM238.5 63.5h1v1h-1zM241.5 63.5h1v1h-1zM246.5 63.5h1v1h-1zM251.5 63.5h1v1h-1zM233.5 64.5h1v1h-1zM241.5 64.5h1v1h-1zM244.5 64.5h1v1h-1zM250.5 64.5h1v1h-1zM251.5 64.5h1v1h-1zM253.5 64.5h1v1h-1zM260.5 64.5h1v1h-1zM262.5 64.5h1v1h-1zM289.5 64.5h1v1h-1zM225.5 65.5h1v1h-1zM231.5 65.5h1v1h-1zM235.5 65.5h1v1h-1zM238.5 65.5h1v1h-1zM240.5 65.5h1v1h-1zM247.5 65.5h1v1h-1zM267.5 65.5h1v1h-1zM268.5 65.5h1v1h-1zM292.5 65.5h1v1h-1zM235.5 66.5h1v1h-1zM244.5 66.5h1v1h-1zM248.5 66.5h1v1h-1zM252.5 66.5h1v1h-1zM263.5 66.5h1v1h-1zM267.5 66.5h1v1h-1zM270.5 66.5h1v1h-1zM291.5 66.5h1v1h-1zM239.5 67.5h1v1h-1zM269.5 67.5h1v1h-1zM289.5 67.5h1v1h-1zM236.5 68.5h1v1h-1zM240.5 68.5h1v1h-1zM270.5 68.5h1v1h-1zM291.5 68.5h1v1h-1zM226.5 69.5h1v1h-1zM233.5 69.5h1v1h-1zM267.5 69.5h1v1h-1zM227.5 70.5h1v1h-1zM256.5 70.5h1v1h-1zM230.5 71.5h1v1h-1zM233.5 71.5h1v1h-1zM240.5 71.5h1v1h-1zM245.5 71.5h1v1h-1zM247.5 71.5h1v1h-1zM250.5 71.5h1v1h-1zM268.5 71.5h1v1h-1zM272.5 71.5h1v1h-1zM274.5 71.5h1v1h-1zM222.5 72.5h1v1h-1zM230.5 72.5h1v1h-1zM234.5 72.5h1v1h-1zM252.5 72.5h1v1h-1zM264.5 72.5h1v1h-1zM274.5 72.5h1v1h-1zM275.5 72.5h1v1h-1zM222.5 73.5h1v1h-1zM228.5 73.5h1v1h-1zM231.5 73.5h1v1h-1zM233.5 73.5h1v1h-1zM250.5 73.5h1v1h-1zM274.5 73.5h1v1h-1zM224.5 74.5h1v1h-1zM226.5 74.5h1v1h-1zM233.5 74.5h1v1h-1zM238.5 74.5h1v1h-1zM250.5 74.5h1v1h-1zM254.5 74.5h1v1h-1zM260.5 74.5h1v1h-1zM272.5 74.5h1v1h-1zM243.5 75.5h1v1h-1zM244.5 75.5h1v1h-1zM246.5 75.5h1v1h-1zM261.5 75.5h1v1h-1zM269.5 75.5h1v1h-1zM228.5 76.5h1v1h-1zM233.5 76.5h1v1h-1zM235.5 76.5h1v1h-1zM253.5 76.5h1v1h-1zM262.5 76.5h1v1h-1zM238.5 77.5h1v1h-1zM256.5 77.5h1v1h-1zM264.5 77.5h1v1h-1zM265.5 77.5h1v1h-1zM267.5 77.5h1v1h-1zM288.5 77.5h1v1h-1zM225.5 78.5h1v1h-1zM228.5 78.5h1v1h-1zM238.5 78.5h1v1h-1zM254.5 78.5h1v1h-1zM259.5 78.5h1v1h-1zM276.5 78.5h1v1h-1zM288.5 78.5h1v1h-1zM230.5 79.5h1v1h-1zM231.5 79.5h1v1h-1zM234.5 79.5h1v1h-1zM237.5 79.5h1v1h-1zM241.5 79.5h1v1h-1zM246.5 79.5h1v1h-1zM261.5 79.5h1v1h-1zM263.5 79.5h1v1h-1zM267.5 79.5h1v1h-1zM269.5 80.5h1v1h-1zM288.5 80.5h1v1h-1zM227.5 81.5h1v1h-1zM233.5 81.5h1v1h-1zM238.5 81.5h1v1h-1zM261.5 81.5h1v1h-1zM276.5 81.5h1v1h-1zM279.5 81.5h1v1h-1zM235.5 82.5h1v1h-1zM236.5 82.5h1v1h-1zM239.5 82.5h1v1h-1zM243.5 82.5h1v1h-1zM251.5 82.5h1v1h-1zM262.5 82.5h1v1h-1zM266.5 82.5h1v1h-1zM275.5 82.5h1v1h-1zM229.5 83.5h1v1h-1zM234.5 83.5h1v1h-1zM240.5 83.5h1v1h-1zM248.5 83.5h1v1h-1zM260.5 83.5h1v1h-1zM278.5 83.5h1v1h-1zM289.5 83.5h1v1h-1zM234.5 84.5h1v1h-1zM235.5 84.5h1v1h-1zM238.5 84.5h1v1h-1zM243.5 84.5h1v1h-1zM262.5 84.5h1v1h-1zM278.5 84.5h1v1h-1zM280.5 84.5h1v1h-1zM233.5 85.5h1v1h-1zM243.5 85.5h1v1h-1zM269.5 85.5h1v1h-1zM234.5 86.5h1v1h-1zM235.5 86.5h1v1h-1zM236.5 86.5h1v1h-1zM239.5 86.5h1v1h-1zM241.5 86.5h1v1h-1zM244.5 86.5h1v1h-1zM251.5 86.5h1v1h-1zM252.5 86.5h1v1h-1zM257.5 86.5h1v1h-1zM289.5 86.5h1v1h-1zM229.5 87.5h1v1h-1zM253.5 87.5h1v1h-1zM258.5 87.5h1v1h-1zM278.5 87.5h1v1h-1zM287.5 87.5h1v1h-1zM227.5 88.5h1v1h-1zM240.5 88.5h1v1h-1zM241.5 88.5h1v1h-1zM244.5 88.5h1v1h-1zM253.5 88.5h1v1h-1zM256.5 88.5h1v1h-1zM258.5 88.5h1v1h-1zM280.5 88.5h1v1h-1zM243.5 90.5h1v1h-1zM245.5 90.5h1v1h-1zM254.5 90.5h1v1h-1zM266.5 90.5h1v1h-1zM241.5 91.5h1v1h-1zM255.5 91.5h1v1h-1zM257.5 91.5h1v1h-1zM246.5 92.5h1v1h-1zM250.5 92.5h1v1h-1zM258.5 92.5h1v1h-1zM261.5 92.5h1v1h-1zM268.5 92.5h1v1h-1zM270.5 92.5h1v1h-1zM228.5 93.5h1v1h-1zM239.5 93.5h1v1h-1zM242.5 93.5h1v1h-1zM257.5 93.5h1v1h-1zM272.5 93.5h1v1h-1zM228.5 94.5h1v1h-1zM231.5 94.5h1v1h-1zM243.5 94.5h1v1h-1zM247.5 94.5h1v1h-1zM251.5 94.5h1v1h-1zM256.5 94.5h1v1h-1zM264.5 94.5h1v1h-1zM268.5 94.5h1v1h-1zM231.5 95.5h1v1h-1zM253.5 95.5h1v1h-1zM254.5 95.5h1v1h-1zM240.5 96.5h1v1h-1zM246.5 96.5h1v1h-1zM264.5 97.5h1v1h-1zM230.5 98.5h1v1h-1zM240.5 98.5h1v1h-1zM262.5 98.5h1v1h-1zM245.5 99.5h1v1h-1zM255.5 99.5h1v1h-1zM226.5 100.5h1v1h-1zM240.5 100.5h1v1h-1zM241.5 100.5h1v1h-1zM256.5 100.5h1v1h-1zM271.5 100.5h1v1h-1zM232.5 101.5h1v1h-1zM239.5 101.5h1v1h-1zM248.5 101.5h1v1h-1zM250.5 101.5h1v1h-1zM252.5 101.5h1v1h-1zM230.5 102.5h1v1h-1zM239.5 102.5h1v1h-1zM246.5 102.5h1v1h-1zM242.5 103.5h1v1h-1zM257.5 103.5h1v1h-1zM233.5 104.5h1v1h-1zM236.5 104.5h1v1h-1zM265.5 105.5h1v1h-1zM237.5 106.5h1v1h-1zM238.5 106.5h1v1h-1zM233.5 107.5h1v1h-1zM234.5 107.5h1v1h-1zM237.5 108.5h1v1h-1zM236.5 109.5h1v1h-1zM240.5 109.5h1v1h-1zM229.5 110.5h1v1h-1zM243.5 110.5h1v1h-1zM254.5 110.5h1v1h-1zM237.5 113.5h1v1h-1z" fill="#7080ff"/><path d="M235.67 87.67L232.33 94L231.67 96.67L231.67 99.33L232.67 102.33L234.67 104.33L236.33 104.67L238 104L239.67 102.33L240.67 99.33L240.67 96.33L240 93.67L237 88.33L236.33 87.67ZM288 86L288.67 83.33L289 75.33L289.33 75L289 61.33L288 57.67L286.67 55L283.33 52L278.67 51.67L276.33 52.67L273 53L272.67 53.33L251.67 53.67L251.33 54L247.67 54L247.33 54.33L238.67 54.67L235.33 55.33L233 56.33L231 58.67L231.33 61.33L233 63L235.33 64L264.33 63.67L264.67 64L269.67 64.33L271 65L272.67 66.67L274 70L277 74.33L278.67 77.67L280.33 83.33L282 87L283.67 88.67L285 89L286 88.67Z" fill="#2a3cff" fill-rule="evenodd"/><path d="M236 95L234 97L234 100L235.33 101.67L237.33 101.33L238.33 99.33L238.33 97.33L237.67 96ZM286.67 85.67L287.67 82L287.67 77.33L288 77L287.67 62L286 57L283.67 54.33L281.33 53.33L279.67 53.33L275 54.67L264.33 54.67L264 55L252.67 55.33L244 57.33L241.33 58.67L241.67 59.67L243.67 60.33L250.67 61.67L266 62.33L266.33 62.67L269 62.67L272 63.33L273.67 64.67L276 70L279.33 75.33L282.67 85.33L284.67 87L285.67 86.67Z" fill="#1c88ff" fill-rule="evenodd"/><path d="M251.33 58.33L251.33 59L252 59.67L254.33 60.33L262.33 60.67L267.67 61.67L271.33 61.67L273.33 62.33L274.67 63.67L277 69.33L280 74L283 83.33L284.67 85L286 84L286.67 81.33L286.67 76.67L287 76.33L286.67 62.33L286 59.67L284.67 57L283.33 55.67L280.67 54.67L275.33 56L266 55.67L263 56.33L255.33 56.67L252.67 57.33Z" fill="#12d0e8" fill-rule="evenodd"/><path d="M263.33 58.33L263.67 59L266 60L273.33 60.33L275 61.67L276.67 65.33L277 67L280.67 72.67L284 81L284.67 81.33L285.33 79.67L285.67 75L286 74.67L286 65L285.67 64.67L285.33 60.67L284 58L282.67 56.67L281 56L278.33 56.33L275 57.67L273.33 57.67L271.67 57L266.33 57Z" fill="#3ae054" fill-rule="evenodd"/><path d="M279.33 57.33L277.67 58L276.33 59.33L276.67 63L278.67 68L283.67 75L284.67 73.33L284.67 70L285 69.67L284.67 61.67L283 58.33L281.33 57.33Z" fill="#b4f014" fill-rule="evenodd"/><path d="M279.67 58.33L278.33 59L277.67 60L278 64.67L279.67 68L282 70.33L283 70.67L284 68.67L284 66.67L284.33 66.33L284 62L282.33 59L281 58.33Z" fill="#ffe400" fill-rule="evenodd"/><path d="M279.67 59.67L278.67 60.67L278.67 64L279.67 66.33L281.33 68L282.33 68L283.33 66.33L283.33 62.67L282 60Z" fill="#ff8c00" fill-rule="evenodd"/><path d="M280.33 61L279.67 61.67L279.67 64.33L281 66L282 66L282.67 64.33L282.33 62.33L281.33 61Z" fill="#ff2800" fill-rule="evenodd"/><path d="M263.21 44.79h.9v.9h-.9zM278.96 90.3h.9v.9h-.9zM247.58 109.76h.9v.9h-.9zM287.31 45.7h.9v.9h-.9zM304.96 76.01h.9v.9h-.9zM295 82.96h.9v.9h-.9zM243.87 46.58h.9v.9h-.9zM291.5 46.66h.9v.9h-.9zM247.96 48.51h.9v.9h-.9zM263.93 39.81h.9v.9h-.9zM277.69 88.39h.9v.9h-.9zM255.06 48.15h.9v.9h-.9zM275.97 40.67h.9v.9h-.9zM226.21 47.73h.9v.9h-.9zM279.77 94.82h.9v.9h-.9zM284.89 41.18h.9v.9h-.9zM238.55 42.72h.9v.9h-.9zM226.27 100.34h.9v.9h-.9zM293.51 54.6h.9v.9h-.9zM298.43 49.32h.9v.9h-.9zM275.43 90.28h.9v.9h-.9zM241.63 48.02h.9v.9h-.9zM272.87 103.86h.9v.9h-.9zM264.23 108.13h.9v.9h-.9zM276.78 90.04h.9v.9h-.9zM263.35 109.96h.9v.9h-.9zM238.82 113.45h.9v.9h-.9zM294.13 68.54h.9v.9h-.9zM261.59 48.1h.9v.9h-.9zM265.92 109.99h.9v.9h-.9zM250.09 109.04h.9v.9h-.9zM294.94 74.81h.9v.9h-.9zM223.69 42.59h.9v.9h-.9zM290.58 51.03h.9v.9h-.9zM235.16 47.35h.9v.9h-.9zM285.86 100.42h.9v.9h-.9zM255.16 47h.9v.9h-.9zM259.09 49.9h.9v.9h-.9zM270.74 44.1h.9v.9h-.9zM295.93 46.06h.9v.9h-.9zM296.79 98.54h.9v.9h-.9zM269.85 104.46h.9v.9h-.9zM292.98 80.69h.9v.9h-.9zM263.56 108.67h.9v.9h-.9zM288.87 49.65h.9v.9h-.9zM292.52 71.91h.9v.9h-.9zM284.89 43.74h.9v.9h-.9zM293.17 78.89h.9v.9h-.9zM284.4 111.8h.9v.9h-.9zM272.26 48.16h.9v.9h-.9zM297.07 66.72h.9v.9h-.9zM294.21 42.98h.9v.9h-.9zM296.51 50.85h.9v.9h-.9zM269.65 101.29h.9v.9h-.9zM263.62 48.32h.9v.9h-.9zM290.16 48.97h.9v.9h-.9zM276.32 105.85h.9v.9h-.9zM228.59 37.96h.9v.9h-.9zM282.18 93.93h.9v.9h-.9zM236.98 46.31h.9v.9h-.9zM297.66 66.21h.9v.9h-.9zM282.87 44.62h.9v.9h-.9zM287.96 91.21h.9v.9h-.9zM288.69 48.8h.9v.9h-.9zM269.76 44.49h.9v.9h-.9zM278.98 90.45h.9v.9h-.9zM292.96 61.71h.9v.9h-.9zM272.9 45.14h.9v.9h-.9zM248.14 47.19h.9v.9h-.9zM277.68 103.71h.9v.9h-.9zM225.23 109.37h.9v.9h-.9zM247.31 41.76h.9v.9h-.9zM290.32 90.01h.9v.9h-.9zM279.74 45.02h.9v.9h-.9zM290.99 85.14h.9v.9h-.9zM292.52 80.74h.9v.9h-.9zM288.14 112.83h.9v.9h-.9zM294.1 84.39h.9v.9h-.9zM266.56 49.06h.9v.9h-.9zM295.87 83.48h.9v.9h-.9zM294.63 70.02h.9v.9h-.9zM225.1 47.47h.9v.9h-.9zM287.18 44.27h.9v.9h-.9zM266.57 34.29h.9v.9h-.9zM263.65 49.67h.9v.9h-.9zM248.88 110.23h.9v.9h-.9zM293.34 40.91h.9v.9h-.9zM228.77 106.16h.9v.9h-.9zM274.54 43.78h.9v.9h-.9zM279.63 95.5h.9v.9h-.9zM232.66 113.04h.9v.9h-.9zM292.79 55.16h.9v.9h-.9zM250.74 44.43h.9v.9h-.9zM225.15 103h.9v.9h-.9zM225.6 97.85h.9v.9h-.9zM271.82 102.62h.9v.9h-.9zM264.93 110.71h.9v.9h-.9zM285.74 47.84h.9v.9h-.9zM255.75 41.42h.9v.9h-.9zM293.17 83.45h.9v.9h-.9zM279.16 88.8h.9v.9h-.9zM233.89 113.17h.9v.9h-.9zM228.24 112.6h.9v.9h-.9zM235.13 45.95h.9v.9h-.9zM226.36 101.76h.9v.9h-.9zM285.16 94.89h.9v.9h-.9zM241.14 45.47h.9v.9h-.9zM256.87 47.43h.9v.9h-.9zM277.71 86.67h.9v.9h-.9zM224.16 71.62h.9v.9h-.9zM295.58 72.34h.9v.9h-.9zM258.03 43.84h.9v.9h-.9zM276.83 84.77h.9v.9h-.9zM293.22 70.67h.9v.9h-.9zM291.23 82.89h.9v.9h-.9zM293.35 55.15h.9v.9h-.9zM289.96 49.91h.9v.9h-.9zM297.69 88.72h.9v.9h-.9zM226.8 52.43h.9v.9h-.9zM276.2 90.67h.9v.9h-.9zM274.71 80.71h.9v.9h-.9zM271.48 46.5h.9v.9h-.9zM227.94 104.92h.9v.9h-.9zM292.63 81.92h.9v.9h-.9zM224.08 85.69h.9v.9h-.9zM279.18 94.06h.9v.9h-.9zM272.29 98.14h.9v.9h-.9zM288.65 102.57h.9v.9h-.9zM291.75 40.43h.9v.9h-.9zM296.61 54.49h.9v.9h-.9zM276.74 86.61h.9v.9h-.9zM293.97 60.06h.9v.9h-.9zM253.11 48.76h.9v.9h-.9zM266.85 105.24h.9v.9h-.9zM271.87 93.33h.9v.9h-.9zM277.45 88.88h.9v.9h-.9zM273.7 103.84h.9v.9h-.9zM262.46 49.06h.9v.9h-.9zM251.03 47.58h.9v.9h-.9zM277.9 96.22h.9v.9h-.9zM303.3 113.29h.9v.9h-.9zM225.79 39.22h.9v.9h-.9zM274.3 46.95h.9v.9h-.9zM299.82 67.11h.9v.9h-.9zM278.13 86.24h.9v.9h-.9zM286.77 92.98h.9v.9h-.9zM289.59 48.04h.9v.9h-.9zM283.15 46.94h.9v.9h-.9zM294.4 67.13h.9v.9h-.9zM295.13 71.32h.9v.9h-.9zM296.88 62.63h.9v.9h-.9zM233.45 112.93h.9v.9h-.9zM294.34 87.31h.9v.9h-.9zM301.35 40.46h.9v.9h-.9zM295.71 71.94h.9v.9h-.9zM229.21 109.21h.9v.9h-.9zM280.57 94.81h.9v.9h-.9zM275.82 37.96h.9v.9h-.9zM285.75 102.33h.9v.9h-.9zM260.54 107.71h.9v.9h-.9zM226.51 100.14h.9v.9h-.9zM277.05 89.04h.9v.9h-.9zM262.75 50.36h.9v.9h-.9zM286 96.57h.9v.9h-.9zM247.67 50.07h.9v.9h-.9zM246.06 111.61h.9v.9h-.9zM291.96 81.6h.9v.9h-.9zM282.96 46.03h.9v.9h-.9zM257.06 48.85h.9v.9h-.9zM286.6 36.42h.9v.9h-.9zM240.62 45.61h.9v.9h-.9zM244.62 109.97h.9v.9h-.9zM263.61 48.91h.9v.9h-.9zM292.98 47.55h.9v.9h-.9zM295.12 72.58h.9v.9h-.9zM289.54 92.05h.9v.9h-.9zM297.08 87.31h.9v.9h-.9zM297.84 47.05h.9v.9h-.9zM235.68 49.12h.9v.9h-.9zM286.56 46.17h.9v.9h-.9zM286.79 44.2h.9v.9h-.9zM261.97 47.05h.9v.9h-.9zM253.21 113.65h.9v.9h-.9zM246.09 36.39h.9v.9h-.9zM253.32 49.47h.9v.9h-.9zM295.51 61.35h.9v.9h-.9zM280.14 91.47h.9v.9h-.9zM250.89 45.45h.9v.9h-.9zM273.54 44.15h.9v.9h-.9zM224.42 104.48h.9v.9h-.9zM258.89 49.35h.9v.9h-.9zM293.53 61.09h.9v.9h-.9zM241.72 47.19h.9v.9h-.9zM246.96 112.46h.9v.9h-.9zM260.4 48.88h.9v.9h-.9zM294.52 47.55h.9v.9h-.9zM289.85 49.84h.9v.9h-.9zM278.88 91.94h.9v.9h-.9zM259.65 35.11h.9v.9h-.9zM277.43 45.05h.9v.9h-.9zM251.22 111.35h.9v.9h-.9zM294.25 88.44h.9v.9h-.9zM227.55 44.87h.9v.9h-.9zM260.68 46.92h.9v.9h-.9zM245.24 108.54h.9v.9h-.9zM294.43 74.3h.9v.9h-.9zM278.77 46.67h.9v.9h-.9zM283.48 105.51h.9v.9h-.9zM225.35 46.41h.9v.9h-.9zM273.81 43.97h.9v.9h-.9zM250.67 42.53h.9v.9h-.9zM276.34 86.26h.9v.9h-.9zM275.44 33.84h.9v.9h-.9zM252.2 47.9h.9v.9h-.9zM275.42 42.75h.9v.9h-.9zM286.9 48.79h.9v.9h-.9zM293.31 58.95h.9v.9h-.9zM270.77 98.6h.9v.9h-.9zM269.6 46.53h.9v.9h-.9zM286.67 44.24h.9v.9h-.9zM240.71 44.54h.9v.9h-.9zM271.57 90h.9v.9h-.9zM293.35 76.26h.9v.9h-.9zM227.44 50.18h.9v.9h-.9zM293.77 45.93h.9v.9h-.9zM247.77 108.53h.9v.9h-.9zM289.02 42.64h.9v.9h-.9zM287.38 108.82h.9v.9h-.9zM274.46 103.28h.9v.9h-.9zM254.15 109.11h.9v.9h-.9zM286.43 93.31h.9v.9h-.9zM277.53 46.86h.9v.9h-.9zM224.61 97.53h.9v.9h-.9zM287.6 40.62h.9v.9h-.9zM282.27 45.13h.9v.9h-.9zM275.8 108.38h.9v.9h-.9zM245.87 48.21h.9v.9h-.9zM299.18 68.55h.9v.9h-.9zM247.77 41.17h.9v.9h-.9zM269.92 107.71h.9v.9h-.9zM237.84 113.49h.9v.9h-.9zM257.16 45.62h.9v.9h-.9zM251.04 109.71h.9v.9h-.9zM268.73 42.02h.9v.9h-.9zM273.41 43.65h.9v.9h-.9zM288.59 42.81h.9v.9h-.9zM283.94 46.9h.9v.9h-.9zM296.33 68.3h.9v.9h-.9zM301.39 66.95h.9v.9h-.9zM294.88 58.08h.9v.9h-.9zM244.06 58.69h.9v.9h-.9zM252.23 101.4h.9v.9h-.9zM275.92 56.11h.9v.9h-.9zM244.92 76.11h.9v.9h-.9zM278.72 92.35h.9v.9h-.9zM266.5 70.06h.9v.9h-.9zM283.84 60.02h.9v.9h-.9zM259.7 60.73h.9v.9h-.9zM241.38 71.15h.9v.9h-.9zM293.03 100.73h.9v.9h-.9zM235.76 107.16h.9v.9h-.9zM244.93 96.31h.9v.9h-.9zM233.77 104.95h.9v.9h-.9zM234.62 91.14h.9v.9h-.9zM274.64 83.33h.9v.9h-.9zM285.79 89.31h.9v.9h-.9zM286.95 65.01h.9v.9h-.9zM255.9 103.01h.9v.9h-.9zM263.07 104.67h.9v.9h-.9zM283.1 59.36h.9v.9h-.9zM272.1 94.87h.9v.9h-.9zM230.51 96.59h.9v.9h-.9zM286.18 85.26h.9v.9h-.9zM275.56 64.82h.9v.9h-.9zM249.59 90.77h.9v.9h-.9zM291.19 94.41h.9v.9h-.9zM268.27 74.67h.9v.9h-.9zM279.17 86.75h.9v.9h-.9zM236.67 101.62h.9v.9h-.9zM240.49 102.15h.9v.9h-.9zM289.62 69.12h.9v.9h-.9zM276.83 63.73h.9v.9h-.9zM262.47 60.45h.9v.9h-.9zM240.29 106.92h.9v.9h-.9zM232.59 61.09h.9v.9h-.9zM294.03 63.92h.9v.9h-.9zM291.55 58.34h.9v.9h-.9zM265.27 105.33h.9v.9h-.9zM228.57 93.8h.9v.9h-.9zM236.01 89.03h.9v.9h-.9zM252.79 88.89h.9v.9h-.9zM257.33 103.94h.9v.9h-.9zM289.85 56.13h.9v.9h-.9zM233.16 63.84h.9v.9h-.9zM254.86 53.09h.9v.9h-.9zM268.15 69.01h.9v.9h-.9zM240.68 83.5h.9v.9h-.9zM245.93 105.23h.9v.9h-.9zM246.01 58.13h.9v.9h-.9zM257.71 79.68h.9v.9h-.9zM263.69 66.49h.9v.9h-.9zM248.73 102.72h.9v.9h-.9zM236.63 81.85h.9v.9h-.9zM275.35 59.1h.9v.9h-.9zM284.46 98.85h.9v.9h-.9zM251.73 90.04h.9v.9h-.9zM271.08 74.14h.9v.9h-.9zM281.66 100.54h.9v.9h-.9zM243.86 76.77h.9v.9h-.9zM257.36 56.18h.9v.9h-.9zM250.16 74.41h.9v.9h-.9zM293.57 60.16h.9v.9h-.9zM232.55 91.05h.9v.9h-.9zM237.6 94.73h.9v.9h-.9zM249.33 94.4h.9v.9h-.9zM290.33 90.16h.9v.9h-.9zM273.33 105.57h.9v.9h-.9zM244.65 89.8h.9v.9h-.9zM271.08 53.97h.9v.9h-.9zM253.98 90.25h.9v.9h-.9zM294.93 77.36h.9v.9h-.9zM264.52 100.79h.9v.9h-.9zM232.2 56.27h.9v.9h-.9zM252.33 54.72h.9v.9h-.9zM231.64 92.64h.9v.9h-.9zM273.11 71.45h.9v.9h-.9zM280.71 106.66h.9v.9h-.9zM252.92 101.7h.9v.9h-.9zM254.9 66.03h.9v.9h-.9zM241.69 61.22h.9v.9h-.9z" fill="#4858ff" fill-opacity=".6"/></g>
<path d="M227.3 49.4H297V71.9H227.3ZM253.6 49.4V108.7M273.7 49.4V71.9M227.3 71.9V108.7H253.6M273.7 71.9V107.1H297V71.9" stroke="#111" stroke-width="1.6" fill="none"/>
<rect x="41.5" y="118.6" width="87" height="87.2" fill="#fff" stroke="#b4b4b4" stroke-width="1.1"/>
<g filter="url(#soft)"><path d="M58.5 145.6h1v1h-1zM66.5 145.6h1v1h-1zM55.5 146.6h1v1h-1zM64.5 146.6h1v1h-1zM52.5 148.6h1v1h-1zM61.5 148.6h1v1h-1zM63.5 148.6h1v1h-1zM49.5 149.6h1v1h-1zM58.5 149.6h1v1h-1zM62.5 149.6h1v1h-1zM70.5 149.6h1v1h-1zM50.5 150.6h1v1h-1zM51.5 150.6h1v1h-1zM53.5 150.6h1v1h-1zM66.5 150.6h1v1h-1zM70.5 150.6h1v1h-1zM99.5 150.6h1v1h-1zM101.5 150.6h1v1h-1zM68.5 151.6h1v1h-1zM113.5 151.6h1v1h-1zM98.5 152.6h1v1h-1zM110.5 152.6h1v1h-1zM50.5 153.6h1v1h-1zM108.5 153.6h1v1h-1zM71.5 154.6h1v1h-1zM94.5 154.6h1v1h-1zM71.5 155.6h1v1h-1zM108.5 155.6h1v1h-1zM48.5 156.6h1v1h-1zM72.5 156.6h1v1h-1zM106.5 156.6h1v1h-1zM48.5 157.6h1v1h-1zM49.5 157.6h1v1h-1zM69.5 157.6h1v1h-1zM71.5 157.6h1v1h-1zM72.5 157.6h1v1h-1zM100.5 157.6h1v1h-1zM102.5 157.6h1v1h-1zM105.5 157.6h1v1h-1zM45.5 159.6h1v1h-1zM52.5 159.6h1v1h-1zM69.5 159.6h1v1h-1zM70.5 159.6h1v1h-1zM70.5 160.6h1v1h-1zM50.5 161.6h1v1h-1zM69.5 163.6h1v1h-1zM52.5 164.6h1v1h-1zM69.5 164.6h1v1h-1zM47.5 165.6h1v1h-1zM53.5 165.6h1v1h-1zM70.5 166.6h1v1h-1zM68.5 167.6h1v1h-1zM53.5 168.6h1v1h-1zM53.5 172.6h1v1h-1zM68.5 172.6h1v1h-1zM52.5 173.6h1v1h-1zM50.5 174.6h1v1h-1zM68.5 174.6h1v1h-1zM75.5 174.6h1v1h-1zM67.5 175.6h1v1h-1zM68.5 175.6h1v1h-1zM69.5 175.6h1v1h-1zM70.5 175.6h1v1h-1zM48.5 179.6h1v1h-1zM49.5 180.6h1v1h-1zM50.5 180.6h1v1h-1zM66.5 181.6h1v1h-1zM66.5 182.6h1v1h-1zM65.5 183.6h1v1h-1zM66.5 183.6h1v1h-1zM51.5 184.6h1v1h-1zM66.5 184.6h1v1h-1zM68.5 184.6h1v1h-1zM50.5 185.6h1v1h-1zM65.5 185.6h1v1h-1zM66.5 187.6h1v1h-1zM68.5 187.6h1v1h-1zM48.5 188.6h1v1h-1zM51.5 188.6h1v1h-1zM47.5 189.6h1v1h-1zM51.5 189.6h1v1h-1zM66.5 189.6h1v1h-1zM65.5 190.6h1v1h-1zM71.5 190.6h1v1h-1zM47.5 191.6h1v1h-1zM64.5 191.6h1v1h-1zM66.5 191.6h1v1h-1zM54.5 192.6h1v1h-1zM68.5 192.6h1v1h-1zM44.5 193.6h1v1h-1zM50.5 193.6h1v1h-1zM51.5 193.6h1v1h-1zM53.5 193.6h1v1h-1zM60.5 193.6h1v1h-1zM65.5 193.6h1v1h-1zM51.5 194.6h1v1h-1zM53.5 194.6h1v1h-1zM58.5 194.6h1v1h-1zM50.5 195.6h1v1h-1zM55.5 195.6h1v1h-1zM57.5 197.6h1v1h-1zM64.5 197.6h1v1h-1zM52.5 201.6h1v1h-1z" fill="#2030ff"/><path d="M70.5 144.6h1v1h-1zM101.5 146.6h1v1h-1zM63.5 147.6h1v1h-1zM59.5 148.6h1v1h-1zM60.5 148.6h1v1h-1zM66.5 148.6h1v1h-1zM72.5 148.6h1v1h-1zM102.5 148.6h1v1h-1zM50.5 149.6h1v1h-1zM52.5 149.6h1v1h-1zM57.5 149.6h1v1h-1zM59.5 149.6h1v1h-1zM61.5 149.6h1v1h-1zM64.5 149.6h1v1h-1zM107.5 149.6h1v1h-1zM54.5 150.6h1v1h-1zM55.5 150.6h1v1h-1zM98.5 150.6h1v1h-1zM111.5 150.6h1v1h-1zM45.5 151.6h1v1h-1zM50.5 151.6h1v1h-1zM53.5 151.6h1v1h-1zM95.5 151.6h1v1h-1zM108.5 151.6h1v1h-1zM69.5 152.6h1v1h-1zM76.5 152.6h1v1h-1zM93.5 152.6h1v1h-1zM46.5 153.6h1v1h-1zM51.5 154.6h1v1h-1zM97.5 154.6h1v1h-1zM46.5 155.6h1v1h-1zM51.5 155.6h1v1h-1zM69.5 155.6h1v1h-1zM97.5 155.6h1v1h-1zM109.5 155.6h1v1h-1zM110.5 155.6h1v1h-1zM49.5 156.6h1v1h-1zM51.5 156.6h1v1h-1zM74.5 156.6h1v1h-1zM107.5 156.6h1v1h-1zM49.5 158.6h1v1h-1zM51.5 158.6h1v1h-1zM74.5 158.6h1v1h-1zM100.5 158.6h1v1h-1zM104.5 158.6h1v1h-1zM48.5 159.6h1v1h-1zM49.5 159.6h1v1h-1zM104.5 159.6h1v1h-1zM49.5 160.6h1v1h-1zM48.5 161.6h1v1h-1zM75.5 161.6h1v1h-1zM68.5 162.6h1v1h-1zM69.5 162.6h1v1h-1zM52.5 163.6h1v1h-1zM68.5 163.6h1v1h-1zM70.5 163.6h1v1h-1zM53.5 164.6h1v1h-1zM71.5 164.6h1v1h-1zM49.5 165.6h1v1h-1zM69.5 165.6h1v1h-1zM51.5 166.6h1v1h-1zM53.5 166.6h1v1h-1zM68.5 166.6h1v1h-1zM69.5 166.6h1v1h-1zM54.5 168.6h1v1h-1zM48.5 169.6h1v1h-1zM52.5 169.6h1v1h-1zM68.5 169.6h1v1h-1zM46.5 170.6h1v1h-1zM70.5 170.6h1v1h-1zM53.5 171.6h1v1h-1zM69.5 171.6h1v1h-1zM71.5 171.6h1v1h-1zM73.5 171.6h1v1h-1zM51.5 175.6h1v1h-1zM53.5 176.6h1v1h-1zM72.5 176.6h1v1h-1zM67.5 177.6h1v1h-1zM68.5 177.6h1v1h-1zM46.5 178.6h1v1h-1zM52.5 178.6h1v1h-1zM51.5 179.6h1v1h-1zM71.5 179.6h1v1h-1zM65.5 181.6h1v1h-1zM69.5 181.6h1v1h-1zM50.5 182.6h1v1h-1zM67.5 182.6h1v1h-1zM47.5 183.6h1v1h-1zM50.5 183.6h1v1h-1zM49.5 184.6h1v1h-1zM65.5 184.6h1v1h-1zM46.5 186.6h1v1h-1zM66.5 186.6h1v1h-1zM48.5 187.6h1v1h-1zM51.5 187.6h1v1h-1zM50.5 188.6h1v1h-1zM64.5 188.6h1v1h-1zM68.5 188.6h1v1h-1zM64.5 190.6h1v1h-1zM69.5 190.6h1v1h-1zM48.5 191.6h1v1h-1zM50.5 191.6h1v1h-1zM53.5 191.6h1v1h-1zM69.5 191.6h1v1h-1zM49.5 192.6h1v1h-1zM56.5 193.6h1v1h-1zM63.5 193.6h1v1h-1zM64.5 193.6h1v1h-1zM50.5 194.6h1v1h-1zM56.5 194.6h1v1h-1zM57.5 194.6h1v1h-1zM59.5 194.6h1v1h-1zM58.5 196.6h1v1h-1zM54.5 198.6h1v1h-1zM56.5 198.6h1v1h-1zM60.5 199.6h1v1h-1zM52.5 200.6h1v1h-1z" fill="#3848ff"/><path d="M50.5 148.6h1v1h-1zM58.5 148.6h1v1h-1zM62.5 148.6h1v1h-1zM67.5 149.6h1v1h-1zM106.5 149.6h1v1h-1zM65.5 150.6h1v1h-1zM96.5 150.6h1v1h-1zM108.5 150.6h1v1h-1zM97.5 151.6h1v1h-1zM99.5 151.6h1v1h-1zM109.5 151.6h1v1h-1zM73.5 152.6h1v1h-1zM49.5 153.6h1v1h-1zM52.5 153.6h1v1h-1zM68.5 153.6h1v1h-1zM70.5 153.6h1v1h-1zM71.5 153.6h1v1h-1zM97.5 153.6h1v1h-1zM109.5 153.6h1v1h-1zM69.5 154.6h1v1h-1zM73.5 154.6h1v1h-1zM96.5 154.6h1v1h-1zM108.5 154.6h1v1h-1zM78.5 155.6h1v1h-1zM98.5 155.6h1v1h-1zM98.5 156.6h1v1h-1zM50.5 157.6h1v1h-1zM73.5 157.6h1v1h-1zM101.5 157.6h1v1h-1zM72.5 158.6h1v1h-1zM103.5 158.6h1v1h-1zM50.5 159.6h1v1h-1zM48.5 160.6h1v1h-1zM52.5 160.6h1v1h-1zM52.5 161.6h1v1h-1zM69.5 161.6h1v1h-1zM52.5 162.6h1v1h-1zM71.5 162.6h1v1h-1zM73.5 162.6h1v1h-1zM48.5 164.6h1v1h-1zM52.5 166.6h1v1h-1zM51.5 167.6h1v1h-1zM52.5 167.6h1v1h-1zM54.5 167.6h1v1h-1zM70.5 167.6h1v1h-1zM47.5 168.6h1v1h-1zM49.5 168.6h1v1h-1zM68.5 168.6h1v1h-1zM45.5 169.6h1v1h-1zM70.5 169.6h1v1h-1zM50.5 170.6h1v1h-1zM69.5 170.6h1v1h-1zM51.5 171.6h1v1h-1zM70.5 171.6h1v1h-1zM49.5 172.6h1v1h-1zM69.5 172.6h1v1h-1zM69.5 173.6h1v1h-1zM70.5 176.6h1v1h-1zM50.5 177.6h1v1h-1zM52.5 177.6h1v1h-1zM53.5 177.6h1v1h-1zM52.5 179.6h1v1h-1zM47.5 180.6h1v1h-1zM51.5 180.6h1v1h-1zM52.5 180.6h1v1h-1zM48.5 181.6h1v1h-1zM49.5 181.6h1v1h-1zM50.5 181.6h1v1h-1zM72.5 181.6h1v1h-1zM45.5 182.6h1v1h-1zM49.5 182.6h1v1h-1zM65.5 182.6h1v1h-1zM51.5 183.6h1v1h-1zM51.5 185.6h1v1h-1zM47.5 186.6h1v1h-1zM65.5 186.6h1v1h-1zM71.5 186.6h1v1h-1zM47.5 187.6h1v1h-1zM65.5 187.6h1v1h-1zM67.5 187.6h1v1h-1zM69.5 187.6h1v1h-1zM70.5 188.6h1v1h-1zM45.5 189.6h1v1h-1zM64.5 189.6h1v1h-1zM67.5 189.6h1v1h-1zM69.5 189.6h1v1h-1zM45.5 190.6h1v1h-1zM48.5 190.6h1v1h-1zM50.5 190.6h1v1h-1zM51.5 190.6h1v1h-1zM52.5 190.6h1v1h-1zM44.5 191.6h1v1h-1zM52.5 192.6h1v1h-1zM64.5 192.6h1v1h-1zM66.5 192.6h1v1h-1zM48.5 193.6h1v1h-1zM52.5 193.6h1v1h-1zM54.5 193.6h1v1h-1zM61.5 193.6h1v1h-1zM61.5 194.6h1v1h-1zM54.5 195.6h1v1h-1zM57.5 195.6h1v1h-1zM59.5 195.6h1v1h-1zM60.5 195.6h1v1h-1zM61.5 196.6h1v1h-1zM54.5 197.6h1v1h-1zM49.5 198.6h1v1h-1zM62.5 198.6h1v1h-1zM61.5 199.6h1v1h-1zM64.5 199.6h1v1h-1z" fill="#5060ff"/><path d="M62.5 144.6h1v1h-1zM51.5 146.6h1v1h-1zM62.5 146.6h1v1h-1zM53.5 147.6h1v1h-1zM58.5 147.6h1v1h-1zM60.5 147.6h1v1h-1zM54.5 148.6h1v1h-1zM56.5 148.6h1v1h-1zM64.5 148.6h1v1h-1zM53.5 149.6h1v1h-1zM55.5 149.6h1v1h-1zM63.5 149.6h1v1h-1zM100.5 149.6h1v1h-1zM71.5 150.6h1v1h-1zM100.5 150.6h1v1h-1zM106.5 150.6h1v1h-1zM107.5 150.6h1v1h-1zM52.5 151.6h1v1h-1zM67.5 151.6h1v1h-1zM71.5 151.6h1v1h-1zM107.5 151.6h1v1h-1zM51.5 152.6h1v1h-1zM52.5 152.6h1v1h-1zM51.5 153.6h1v1h-1zM73.5 153.6h1v1h-1zM77.5 153.6h1v1h-1zM48.5 154.6h1v1h-1zM109.5 154.6h1v1h-1zM110.5 154.6h1v1h-1zM49.5 155.6h1v1h-1zM70.5 155.6h1v1h-1zM95.5 155.6h1v1h-1zM70.5 156.6h1v1h-1zM71.5 156.6h1v1h-1zM99.5 156.6h1v1h-1zM108.5 156.6h1v1h-1zM51.5 157.6h1v1h-1zM70.5 157.6h1v1h-1zM97.5 157.6h1v1h-1zM99.5 157.6h1v1h-1zM103.5 157.6h1v1h-1zM104.5 157.6h1v1h-1zM50.5 158.6h1v1h-1zM69.5 158.6h1v1h-1zM70.5 158.6h1v1h-1zM101.5 158.6h1v1h-1zM105.5 158.6h1v1h-1zM51.5 159.6h1v1h-1zM99.5 159.6h1v1h-1zM102.5 159.6h1v1h-1zM46.5 160.6h1v1h-1zM69.5 160.6h1v1h-1zM74.5 160.6h1v1h-1zM53.5 162.6h1v1h-1zM71.5 163.6h1v1h-1zM45.5 165.6h1v1h-1zM51.5 165.6h1v1h-1zM52.5 165.6h1v1h-1zM68.5 165.6h1v1h-1zM50.5 166.6h1v1h-1zM69.5 168.6h1v1h-1zM53.5 169.6h1v1h-1zM73.5 169.6h1v1h-1zM68.5 171.6h1v1h-1zM53.5 173.6h1v1h-1zM68.5 173.6h1v1h-1zM70.5 173.6h1v1h-1zM49.5 174.6h1v1h-1zM51.5 174.6h1v1h-1zM52.5 174.6h1v1h-1zM53.5 175.6h1v1h-1zM71.5 175.6h1v1h-1zM52.5 176.6h1v1h-1zM67.5 176.6h1v1h-1zM69.5 176.6h1v1h-1zM46.5 177.6h1v1h-1zM49.5 177.6h1v1h-1zM50.5 178.6h1v1h-1zM67.5 178.6h1v1h-1zM68.5 178.6h1v1h-1zM69.5 178.6h1v1h-1zM70.5 178.6h1v1h-1zM50.5 179.6h1v1h-1zM53.5 179.6h1v1h-1zM66.5 179.6h1v1h-1zM72.5 179.6h1v1h-1zM74.5 179.6h1v1h-1zM66.5 180.6h1v1h-1zM70.5 182.6h1v1h-1zM52.5 183.6h1v1h-1zM44.5 184.6h1v1h-1zM70.5 184.6h1v1h-1zM68.5 185.6h1v1h-1zM49.5 186.6h1v1h-1zM50.5 186.6h1v1h-1zM46.5 187.6h1v1h-1zM45.5 188.6h1v1h-1zM50.5 189.6h1v1h-1zM67.5 190.6h1v1h-1zM52.5 191.6h1v1h-1zM63.5 191.6h1v1h-1zM65.5 191.6h1v1h-1zM67.5 191.6h1v1h-1zM47.5 192.6h1v1h-1zM50.5 192.6h1v1h-1zM62.5 192.6h1v1h-1zM69.5 192.6h1v1h-1zM55.5 193.6h1v1h-1zM68.5 193.6h1v1h-1zM60.5 194.6h1v1h-1zM63.5 194.6h1v1h-1zM52.5 195.6h1v1h-1zM54.5 196.6h1v1h-1zM60.5 196.6h1v1h-1zM64.5 196.6h1v1h-1zM53.5 198.6h1v1h-1zM64.5 198.6h1v1h-1zM50.5 199.6h1v1h-1zM54.5 199.6h1v1h-1z" fill="#1848f0"/><path d="M60.5 144.6h1v1h-1zM65.5 144.6h1v1h-1zM59.5 145.6h1v1h-1zM63.5 145.6h1v1h-1zM68.5 145.6h1v1h-1zM52.5 146.6h1v1h-1zM69.5 146.6h1v1h-1zM56.5 147.6h1v1h-1zM57.5 147.6h1v1h-1zM61.5 147.6h1v1h-1zM57.5 148.6h1v1h-1zM65.5 148.6h1v1h-1zM67.5 148.6h1v1h-1zM100.5 148.6h1v1h-1zM103.5 148.6h1v1h-1zM56.5 149.6h1v1h-1zM65.5 149.6h1v1h-1zM66.5 149.6h1v1h-1zM69.5 149.6h1v1h-1zM71.5 149.6h1v1h-1zM103.5 149.6h1v1h-1zM105.5 149.6h1v1h-1zM67.5 150.6h1v1h-1zM104.5 150.6h1v1h-1zM105.5 150.6h1v1h-1zM69.5 151.6h1v1h-1zM98.5 151.6h1v1h-1zM110.5 151.6h1v1h-1zM112.5 151.6h1v1h-1zM48.5 152.6h1v1h-1zM68.5 152.6h1v1h-1zM72.5 152.6h1v1h-1zM108.5 152.6h1v1h-1zM47.5 153.6h1v1h-1zM69.5 153.6h1v1h-1zM110.5 153.6h1v1h-1zM111.5 153.6h1v1h-1zM46.5 154.6h1v1h-1zM70.5 154.6h1v1h-1zM75.5 154.6h1v1h-1zM69.5 156.6h1v1h-1zM98.5 157.6h1v1h-1zM46.5 158.6h1v1h-1zM46.5 159.6h1v1h-1zM105.5 159.6h1v1h-1zM71.5 160.6h1v1h-1zM68.5 161.6h1v1h-1zM70.5 161.6h1v1h-1zM49.5 162.6h1v1h-1zM51.5 162.6h1v1h-1zM51.5 163.6h1v1h-1zM53.5 163.6h1v1h-1zM51.5 164.6h1v1h-1zM68.5 164.6h1v1h-1zM70.5 164.6h1v1h-1zM49.5 166.6h1v1h-1zM73.5 166.6h1v1h-1zM48.5 167.6h1v1h-1zM69.5 167.6h1v1h-1zM49.5 170.6h1v1h-1zM53.5 170.6h1v1h-1zM68.5 170.6h1v1h-1zM50.5 171.6h1v1h-1zM52.5 171.6h1v1h-1zM52.5 172.6h1v1h-1zM70.5 172.6h1v1h-1zM72.5 173.6h1v1h-1zM53.5 174.6h1v1h-1zM50.5 175.6h1v1h-1zM48.5 176.6h1v1h-1zM68.5 176.6h1v1h-1zM73.5 176.6h1v1h-1zM51.5 177.6h1v1h-1zM53.5 178.6h1v1h-1zM71.5 178.6h1v1h-1zM67.5 179.6h1v1h-1zM44.5 181.6h1v1h-1zM52.5 181.6h1v1h-1zM67.5 181.6h1v1h-1zM48.5 182.6h1v1h-1zM52.5 182.6h1v1h-1zM67.5 183.6h1v1h-1zM50.5 184.6h1v1h-1zM67.5 184.6h1v1h-1zM51.5 186.6h1v1h-1zM67.5 186.6h1v1h-1zM42.5 188.6h1v1h-1zM65.5 188.6h1v1h-1zM66.5 188.6h1v1h-1zM65.5 189.6h1v1h-1zM44.5 190.6h1v1h-1zM49.5 191.6h1v1h-1zM51.5 191.6h1v1h-1zM44.5 192.6h1v1h-1zM53.5 192.6h1v1h-1zM63.5 192.6h1v1h-1zM62.5 193.6h1v1h-1zM48.5 194.6h1v1h-1zM54.5 194.6h1v1h-1zM55.5 194.6h1v1h-1zM44.5 195.6h1v1h-1zM56.5 195.6h1v1h-1zM58.5 195.6h1v1h-1zM62.5 195.6h1v1h-1zM67.5 195.6h1v1h-1zM56.5 196.6h1v1h-1zM45.5 197.6h1v1h-1zM51.5 197.6h1v1h-1zM56.5 197.6h1v1h-1zM58.5 197.6h1v1h-1zM58.5 202.6h1v1h-1z" fill="#7080ff"/><path d="M99.67 152.1L98.67 153.43L98.67 155.43L100 157.1L101.33 157.77L105 158.1L107.33 157.1L108.67 155.77L108.67 153.43L106.67 151.43L103.33 150.77L100.67 151.43ZM61.33 149.43L58.33 149.77L55 151.1L52.67 153.43L52 154.77L52 158.77L54.33 165.1L54 178.77L52 185.77L52 189.77L53 192.1L55 194.1L57.67 195.1L59.67 195.1L61.67 194.43L64.33 192.1L65.33 190.1L65.67 186.77L66 186.43L66 183.43L68.33 177.1L68.33 175.43L68.67 175.1L68.67 165.43L70.33 157.77L70 154.77L69.33 153.43L67 151.1L63.67 149.77L61.67 149.77Z" fill="#2a3cff" fill-rule="evenodd"/><path d="M100.33 153.1L100 155.43L102.33 157.1L105 157.1L106 156.77L107.33 155.43L107.33 153.43L105.67 152.1L103 151.77L101.67 152.1ZM62.67 151.77L59.33 151.77L56.33 153.1L55.33 154.1L54.33 156.43L54.67 159.77L56.67 164.77L56.67 171.77L56.33 172.1L56.33 175.1L56 175.43L56 181.1L54.67 185.1L54.67 188.77L55.33 190.1L58 192.1L60.33 191.77L62.33 190.1L63.33 187.43L63.67 182.77L65.67 178.77L66.67 175.1L66.67 163.77L67.67 160.1L67.67 156.1L67.33 155.1L65.67 153.1Z" fill="#1c88ff" fill-rule="evenodd"/><path d="M62 153.43L60 153.43L57.33 154.77L56.33 156.43L56.33 159.1L58.67 164.77L58.67 170.77L58 173.1L58 178.43L58.67 181.77L57.33 184.77L57.33 187.77L58.33 188.77L59.33 188.77L60.33 188.1L61 186.43L61 182.1L63.67 178.77L65 175.43L64.67 164.77L66 159.43L66 157.1L65.33 155.43L64.33 154.43ZM101 153.77L101 155.1L102 156.1L103 156.43L104.67 156.43L106.33 155.1L106.33 153.77L105 152.77L103.67 152.43L102.33 152.77Z" fill="#12d0e8" fill-rule="evenodd"/><path d="M62 172.1L61.33 172.1L60.33 173.43L60.33 176.43L60.67 176.77L61.67 176.77L62.67 175.43L62.67 173.43ZM60.33 155.43L58.67 156.43L58.33 159.1L59.67 161.77L61 163.1L62 163.1L63.67 160.77L64 157.43L62.67 155.77ZM102 154.43L102.67 155.43L104.67 155.43L105.33 154.77L105.33 154.1L104.33 153.43L103 153.43Z" fill="#3ae054" fill-rule="evenodd"/><path d="M84.4 145h.9v.9h-.9zM67.19 145.58h.9v.9h-.9zM106.37 147.25h.9v.9h-.9zM51.46 146.13h.9v.9h-.9zM92.54 149.56h.9v.9h-.9zM82.22 166.38h.9v.9h-.9zM43.58 166.2h.9v.9h-.9zM76.72 148.63h.9v.9h-.9zM69.95 138.62h.9v.9h-.9zM69.71 146.57h.9v.9h-.9zM81.58 151.6h.9v.9h-.9zM48.44 198.03h.9v.9h-.9zM80.79 181.56h.9v.9h-.9zM61.54 202.85h.9v.9h-.9zM83.63 151.09h.9v.9h-.9zM107.99 162.42h.9v.9h-.9zM74.48 146.92h.9v.9h-.9zM57.45 144.88h.9v.9h-.9zM65.45 139.99h.9v.9h-.9zM55.2 144.22h.9v.9h-.9zM79.59 156.7h.9v.9h-.9zM43.74 152.87h.9v.9h-.9zM92.59 154.12h.9v.9h-.9zM44.91 164.24h.9v.9h-.9zM49.43 201.53h.9v.9h-.9zM44.89 177.72h.9v.9h-.9zM117.15 163.36h.9v.9h-.9zM44.45 200.38h.9v.9h-.9zM74.08 148.4h.9v.9h-.9zM63.71 127.46h.9v.9h-.9zM102.96 145.25h.9v.9h-.9zM50.52 146.02h.9v.9h-.9zM112.73 155.56h.9v.9h-.9zM67 144.64h.9v.9h-.9zM64.44 141.9h.9v.9h-.9zM45.97 184.49h.9v.9h-.9zM75.09 170.3h.9v.9h-.9zM114.3 153.96h.9v.9h-.9zM77.96 157.03h.9v.9h-.9zM43.68 174.83h.9v.9h-.9zM72.72 145.29h.9v.9h-.9zM45.97 149.53h.9v.9h-.9zM76.28 167.21h.9v.9h-.9zM99.91 161.43h.9v.9h-.9zM94.94 164.32h.9v.9h-.9zM47.98 167.47h.9v.9h-.9zM106.72 148.32h.9v.9h-.9zM44.03 146h.9v.9h-.9zM71.87 190.28h.9v.9h-.9zM46.69 180.43h.9v.9h-.9zM57.01 140.75h.9v.9h-.9zM106.46 146.16h.9v.9h-.9zM49.41 145.15h.9v.9h-.9zM94.24 177.39h.9v.9h-.9zM54.66 202.76h.9v.9h-.9zM47.1 149.99h.9v.9h-.9zM77.23 195.76h.9v.9h-.9zM125.82 144.73h.9v.9h-.9zM49.99 133.6h.9v.9h-.9zM70.39 145.15h.9v.9h-.9zM93.99 151.5h.9v.9h-.9zM50.72 146.44h.9v.9h-.9zM45.1 169.26h.9v.9h-.9zM72.55 132.05h.9v.9h-.9zM82.51 166.05h.9v.9h-.9zM111.54 158.8h.9v.9h-.9zM51.87 145.98h.9v.9h-.9zM77.24 178.06h.9v.9h-.9zM46.45 198.6h.9v.9h-.9zM103.96 145.92h.9v.9h-.9zM99.47 173.21h.9v.9h-.9zM80.49 151.11h.9v.9h-.9zM75.43 175.47h.9v.9h-.9zM87 160.72h.9v.9h-.9zM77.6 164.5h.9v.9h-.9zM74.34 171.6h.9v.9h-.9zM103.44 144.42h.9v.9h-.9zM75.96 139.78h.9v.9h-.9zM44.49 147.51h.9v.9h-.9zM52.93 143.28h.9v.9h-.9zM78.96 163.17h.9v.9h-.9zM82.5 164h.9v.9h-.9zM46.69 178.5h.9v.9h-.9zM111.75 160.03h.9v.9h-.9zM85.62 156.87h.9v.9h-.9zM74.54 170.67h.9v.9h-.9zM114.13 149.62h.9v.9h-.9zM56.24 145.02h.9v.9h-.9zM91.69 147.51h.9v.9h-.9zM79.04 145.7h.9v.9h-.9zM91.84 161.56h.9v.9h-.9zM95.86 161.72h.9v.9h-.9zM44.64 179.87h.9v.9h-.9zM77.66 153.57h.9v.9h-.9zM68.15 144.79h.9v.9h-.9zM64.6 144h.9v.9h-.9zM87.22 152.5h.9v.9h-.9zM79.34 146.88h.9v.9h-.9zM44.57 195.76h.9v.9h-.9zM54.21 139.21h.9v.9h-.9zM64.08 143.59h.9v.9h-.9zM81.84 161.95h.9v.9h-.9zM94.1 154.2h.9v.9h-.9zM46.1 171.11h.9v.9h-.9zM80.04 193.26h.9v.9h-.9zM78.29 182.05h.9v.9h-.9zM46.17 122.02h.9v.9h-.9zM112.4 148.53h.9v.9h-.9zM72.28 144.16h.9v.9h-.9zM78.33 151.99h.9v.9h-.9zM80.92 179.97h.9v.9h-.9zM79.47 171.63h.9v.9h-.9zM89.34 137.78h.9v.9h-.9zM76.64 140.1h.9v.9h-.9zM57.13 144.56h.9v.9h-.9zM69.88 144.19h.9v.9h-.9zM99.33 161.87h.9v.9h-.9zM108.76 163.4h.9v.9h-.9zM61.49 139.88h.9v.9h-.9zM76 160.36h.9v.9h-.9zM63.01 142.56h.9v.9h-.9zM66.49 201.32h.9v.9h-.9zM83.21 160.21h.9v.9h-.9zM93.87 162.19h.9v.9h-.9zM66.25 144.05h.9v.9h-.9zM76.03 125.03h.9v.9h-.9zM111.35 144.44h.9v.9h-.9zM78.58 183.9h.9v.9h-.9zM43.62 162.65h.9v.9h-.9zM82.99 178.21h.9v.9h-.9zM46.09 194.7h.9v.9h-.9zM47.88 173.3h.9v.9h-.9zM47.09 202.02h.9v.9h-.9zM94.37 158.69h.9v.9h-.9zM73.86 174.35h.9v.9h-.9zM75.61 150.18h.9v.9h-.9zM52.49 140.77h.9v.9h-.9zM75.22 195.84h.9v.9h-.9zM81.77 140.19h.9v.9h-.9zM116.96 144.49h.9v.9h-.9zM68.81 199.98h.9v.9h-.9zM115.07 150.43h.9v.9h-.9zM63.91 137.26h.9v.9h-.9zM77.41 168.82h.9v.9h-.9zM48.62 138.23h.9v.9h-.9zM62.9 142.99h.9v.9h-.9zM60.49 138.89h.9v.9h-.9zM45.84 198.18h.9v.9h-.9zM55.39 143.94h.9v.9h-.9zM84.44 171.19h.9v.9h-.9zM44.35 145.25h.9v.9h-.9zM78.58 175.51h.9v.9h-.9zM103.67 160.91h.9v.9h-.9zM84.14 147.09h.9v.9h-.9zM79.14 155.56h.9v.9h-.9zM100.99 165.25h.9v.9h-.9zM66.23 138.29h.9v.9h-.9zM99.99 161.02h.9v.9h-.9zM70.27 134.48h.9v.9h-.9zM46.27 179.03h.9v.9h-.9zM106.32 162.73h.9v.9h-.9zM51.06 146.35h.9v.9h-.9zM78.51 200.81h.9v.9h-.9zM73.66 180.81h.9v.9h-.9zM68.54 201.55h.9v.9h-.9zM74.34 174.27h.9v.9h-.9zM47.2 177.46h.9v.9h-.9zM46.44 144.25h.9v.9h-.9zM104.73 162h.9v.9h-.9zM78.35 153.84h.9v.9h-.9zM99.7 161.14h.9v.9h-.9zM98.22 178.97h.9v.9h-.9zM71.83 195.62h.9v.9h-.9zM80.67 155.45h.9v.9h-.9zM45.83 143.64h.9v.9h-.9zM101.98 140.97h.9v.9h-.9zM74.67 186.65h.9v.9h-.9zM74.02 187.97h.9v.9h-.9zM94.73 156.74h.9v.9h-.9zM107.24 162.35h.9v.9h-.9zM89.62 165.54h.9v.9h-.9zM47.02 179.87h.9v.9h-.9zM98.08 165.97h.9v.9h-.9zM43.71 163.41h.9v.9h-.9zM75.01 164.06h.9v.9h-.9zM55.8 142.47h.9v.9h-.9zM44.15 156.4h.9v.9h-.9zM77.04 144.13h.9v.9h-.9zM55.56 203.3h.9v.9h-.9zM60.77 201.69h.9v.9h-.9zM64.13 203.02h.9v.9h-.9zM66.09 202.75h.9v.9h-.9zM61.62 201.47h.9v.9h-.9zM90.01 158.18h.9v.9h-.9zM74.68 164.77h.9v.9h-.9zM71.58 192.79h.9v.9h-.9zM107.08 163.38h.9v.9h-.9zM43.59 192.87h.9v.9h-.9zM118.03 157.56h.9v.9h-.9zM66.29 135.65h.9v.9h-.9zM96.4 158.34h.9v.9h-.9zM76.52 161.82h.9v.9h-.9zM50.99 145.14h.9v.9h-.9zM71.79 191.1h.9v.9h-.9zM77.01 155.1h.9v.9h-.9zM79.91 199.49h.9v.9h-.9zM47.33 177.9h.9v.9h-.9zM59.31 203.47h.9v.9h-.9zM80.49 177.96h.9v.9h-.9zM107.52 160.81h.9v.9h-.9zM73.99 184.77h.9v.9h-.9zM94.2 196.42h.9v.9h-.9zM73.92 188.06h.9v.9h-.9zM54.16 139.27h.9v.9h-.9zM74.07 194.89h.9v.9h-.9zM46.29 141.48h.9v.9h-.9zM83.44 174.11h.9v.9h-.9zM80.04 178.95h.9v.9h-.9zM66.69 137.77h.9v.9h-.9zM48.35 146.5h.9v.9h-.9zM81.66 176.53h.9v.9h-.9zM83.41 192.34h.9v.9h-.9zM71.99 144.21h.9v.9h-.9zM114.25 154.11h.9v.9h-.9zM47.48 143.19h.9v.9h-.9zM44.13 189.42h.9v.9h-.9zM45.15 173.95h.9v.9h-.9zM88.43 154.59h.9v.9h-.9zM97.92 159.51h.9v.9h-.9zM70.5 143.31h.9v.9h-.9zM61.38 144.48h.9v.9h-.9zM83.69 153.26h.9v.9h-.9zM50.97 138.7h.9v.9h-.9zM73.13 191.65h.9v.9h-.9zM102.28 164.57h.9v.9h-.9zM94.03 156.4h.9v.9h-.9zM69.24 130.52h.9v.9h-.9zM126.29 147.58h.9v.9h-.9zM76.13 174.64h.9v.9h-.9zM108.28 159.96h.9v.9h-.9zM74.16 176.82h.9v.9h-.9zM106.55 160.36h.9v.9h-.9zM72.78 183.47h.9v.9h-.9zM79.93 155.16h.9v.9h-.9zM75.39 187.97h.9v.9h-.9zM103.59 161.88h.9v.9h-.9zM94.35 166.41h.9v.9h-.9zM98.74 147.7h.9v.9h-.9zM106.38 161.85h.9v.9h-.9zM45.4 150.48h.9v.9h-.9zM85.05 171.84h.9v.9h-.9zM81.49 171.09h.9v.9h-.9zM85.84 164h.9v.9h-.9zM88.49 140.07h.9v.9h-.9zM86.11 141.22h.9v.9h-.9zM85.96 154.71h.9v.9h-.9zM84.45 148.77h.9v.9h-.9zM80.74 161.26h.9v.9h-.9zM79.18 168.37h.9v.9h-.9zM74.07 169.2h.9v.9h-.9zM79.08 153.19h.9v.9h-.9zM87.94 166.98h.9v.9h-.9zM84.18 151.97h.9v.9h-.9zM91.4 146.01h.9v.9h-.9zM88.77 148.31h.9v.9h-.9zM78.68 161.33h.9v.9h-.9zM82.22 157.27h.9v.9h-.9zM81.15 152.78h.9v.9h-.9zM85.96 165.19h.9v.9h-.9zM80.13 157.79h.9v.9h-.9zM81.48 155.27h.9v.9h-.9zM79.26 151.17h.9v.9h-.9zM89.23 159.74h.9v.9h-.9zM88.14 173.99h.9v.9h-.9zM87.49 156.77h.9v.9h-.9zM83.47 167.53h.9v.9h-.9zM89.89 152.56h.9v.9h-.9zM85.88 176h.9v.9h-.9zM74.66 149.31h.9v.9h-.9zM83.4 154.93h.9v.9h-.9zM68.7 185.49h.9v.9h-.9zM49.79 196.88h.9v.9h-.9zM48.54 153.43h.9v.9h-.9zM48 167.49h.9v.9h-.9zM70.68 184.05h.9v.9h-.9zM67.94 171.29h.9v.9h-.9zM64.24 174.83h.9v.9h-.9zM69.86 145.75h.9v.9h-.9zM48.47 164.27h.9v.9h-.9zM60.98 193.23h.9v.9h-.9zM71.45 182.03h.9v.9h-.9zM70.45 151h.9v.9h-.9zM57.01 148.6h.9v.9h-.9zM71.63 159.53h.9v.9h-.9zM51.59 178.49h.9v.9h-.9zM56.87 160.24h.9v.9h-.9zM70.23 154.2h.9v.9h-.9zM54.82 161.93h.9v.9h-.9zM54.46 194.73h.9v.9h-.9zM66.97 173.49h.9v.9h-.9zM61.06 163.95h.9v.9h-.9zM62.14 192.49h.9v.9h-.9zM62.73 149.73h.9v.9h-.9zM70.89 166.78h.9v.9h-.9zM48.57 169.82h.9v.9h-.9zM60.5 171.83h.9v.9h-.9zM52.39 177.72h.9v.9h-.9zM52.4 193.29h.9v.9h-.9zM52.21 186.41h.9v.9h-.9zM57.27 169.62h.9v.9h-.9z" fill="#4858ff" fill-opacity=".6"/></g>
<path d="M40.2 127h2.6M40.2 144.7h2.6M40.2 164.9h2.6M40.2 184.1h2.6M40.2 193.1h2.6M40.9 122.6h1.4M40.9 126.1h1.4M40.9 129.6h1.4M40.9 133.1h1.4M40.9 136.6h1.4M40.9 140.1h1.4M40.9 143.6h1.4M40.9 147.1h1.4M40.9 150.6h1.4M40.9 154.1h1.4M40.9 157.6h1.4M40.9 161.1h1.4M40.9 164.6h1.4M40.9 168.1h1.4M40.9 171.6h1.4M40.9 175.1h1.4M40.9 178.6h1.4M40.9 182.1h1.4M40.9 185.6h1.4M40.9 189.1h1.4M40.9 192.6h1.4M40.9 196.1h1.4M40.9 199.6h1.4M40.9 203.1h1.4" stroke="#888" stroke-width=".5" fill="none"/>
<text transform="translate(38.5 128.5) rotate(-45)" font-size="4.6" text-anchor="end" fill="#777">10⁵</text>
<text transform="translate(38.5 146.2) rotate(-45)" font-size="4.6" text-anchor="end" fill="#777">10⁴</text>
<text transform="translate(38.5 166.4) rotate(-45)" font-size="4.6" text-anchor="end" fill="#777">10³</text>
<text transform="translate(38.5 185.6) rotate(-45)" font-size="4.6" text-anchor="end" fill="#777">10²</text>
<text x="36" y="194.7" font-size="4.6" fill="#777">0</text>
<path d="M46.9 139.5H117V162H46.9ZM73.3 139.5V198.8M93.5 139.5V162M46.9 162V198.8H73.3M93.5 162V197.2H117V162" stroke="#111" stroke-width="1.6" fill="none"/>
<path d="M54.4 205.3v2M62.7 205.3v2M82.9 205.3v2M102 205.3v2M120.4 205.3v2M45.5 205.6v1.2M49 205.6v1.2M52.5 205.6v1.2M56 205.6v1.2M59.5 205.6v1.2M63 205.6v1.2M66.5 205.6v1.2M70 205.6v1.2M73.5 205.6v1.2M77 205.6v1.2M80.5 205.6v1.2M84 205.6v1.2M87.5 205.6v1.2M91 205.6v1.2M94.5 205.6v1.2M98 205.6v1.2M101.5 205.6v1.2M105 205.6v1.2M108.5 205.6v1.2M112 205.6v1.2M115.5 205.6v1.2M119 205.6v1.2M122.5 205.6v1.2M126 205.6v1.2" stroke="#888" stroke-width=".5" fill="none"/>
<text x="54.4" y="214.2" font-size="5.6" text-anchor="middle" fill="#444">0</text>
<text x="62.7" y="214.2" font-size="5.6" text-anchor="middle" fill="#444">10²</text>
<text x="82.9" y="214.2" font-size="5.6" text-anchor="middle" fill="#444">10³</text>
<text x="102" y="214.2" font-size="5.6" text-anchor="middle" fill="#444">10⁴</text>
<text x="120.4" y="214.2" font-size="5.6" text-anchor="middle" fill="#444">10⁵</text>
<rect x="130.8" y="118.6" width="87.5" height="87.2" fill="#fff" stroke="#b4b4b4" stroke-width="1.1"/>
<g filter="url(#soft)"><path d="M147.8 145.6h1v1h-1zM161.8 145.6h1v1h-1zM141.8 146.6h1v1h-1zM152.8 146.6h1v1h-1zM159.8 146.6h1v1h-1zM168.8 146.6h1v1h-1zM170.8 146.6h1v1h-1zM152.8 147.6h1v1h-1zM158.8 147.6h1v1h-1zM159.8 147.6h1v1h-1zM161.8 147.6h1v1h-1zM165.8 147.6h1v1h-1zM169.8 147.6h1v1h-1zM137.8 148.6h1v1h-1zM139.8 148.6h1v1h-1zM145.8 148.6h1v1h-1zM148.8 148.6h1v1h-1zM151.8 148.6h1v1h-1zM156.8 148.6h1v1h-1zM177.8 148.6h1v1h-1zM181.8 148.6h1v1h-1zM188.8 148.6h1v1h-1zM170.8 149.6h1v1h-1zM179.8 149.6h1v1h-1zM180.8 149.6h1v1h-1zM182.8 149.6h1v1h-1zM186.8 150.6h1v1h-1zM189.8 150.6h1v1h-1zM194.8 151.6h1v1h-1zM133.8 152.6h1v1h-1zM195.8 152.6h1v1h-1zM134.8 154.6h1v1h-1zM198.8 154.6h1v1h-1zM135.8 155.6h1v1h-1zM200.8 156.6h1v1h-1zM133.8 157.6h1v1h-1zM198.8 158.6h1v1h-1zM131.8 159.6h1v1h-1zM133.8 160.6h1v1h-1zM136.8 160.6h1v1h-1zM137.8 160.6h1v1h-1zM131.8 161.6h1v1h-1zM137.8 161.6h1v1h-1zM138.8 162.6h1v1h-1zM164.8 162.6h1v1h-1zM174.8 162.6h1v1h-1zM177.8 162.6h1v1h-1zM184.8 162.6h1v1h-1zM200.8 162.6h1v1h-1zM135.8 163.6h1v1h-1zM176.8 163.6h1v1h-1zM185.8 163.6h1v1h-1zM192.8 163.6h1v1h-1zM174.8 164.6h1v1h-1zM189.8 164.6h1v1h-1zM195.8 164.6h1v1h-1zM137.8 165.6h1v1h-1zM139.8 165.6h1v1h-1zM159.8 165.6h1v1h-1zM162.8 165.6h1v1h-1zM169.8 165.6h1v1h-1zM171.8 165.6h1v1h-1zM186.8 165.6h1v1h-1zM136.8 166.6h1v1h-1zM140.8 166.6h1v1h-1zM165.8 166.6h1v1h-1zM193.8 166.6h1v1h-1zM194.8 166.6h1v1h-1zM138.8 167.6h1v1h-1zM183.8 167.6h1v1h-1zM188.8 167.6h1v1h-1zM195.8 167.6h1v1h-1zM132.8 168.6h1v1h-1zM140.8 168.6h1v1h-1zM158.8 168.6h1v1h-1zM161.8 168.6h1v1h-1zM189.8 168.6h1v1h-1zM195.8 168.6h1v1h-1zM196.8 168.6h1v1h-1zM135.8 169.6h1v1h-1zM140.8 169.6h1v1h-1zM164.8 169.6h1v1h-1zM188.8 169.6h1v1h-1zM191.8 169.6h1v1h-1zM140.8 170.6h1v1h-1zM159.8 170.6h1v1h-1zM160.8 170.6h1v1h-1zM162.8 170.6h1v1h-1zM185.8 170.6h1v1h-1zM186.8 170.6h1v1h-1zM140.8 171.6h1v1h-1zM141.8 171.6h1v1h-1zM187.8 171.6h1v1h-1zM159.8 172.6h1v1h-1zM165.8 172.6h1v1h-1zM193.8 172.6h1v1h-1zM140.8 173.6h1v1h-1zM163.8 173.6h1v1h-1zM139.8 174.6h1v1h-1zM158.8 175.6h1v1h-1zM160.8 175.6h1v1h-1zM161.8 176.6h1v1h-1zM141.8 177.6h1v1h-1zM159.8 177.6h1v1h-1zM137.8 178.6h1v1h-1zM138.8 181.6h1v1h-1zM162.8 181.6h1v1h-1zM159.8 182.6h1v1h-1zM136.8 183.6h1v1h-1zM158.8 183.6h1v1h-1zM139.8 184.6h1v1h-1zM135.8 185.6h1v1h-1zM138.8 186.6h1v1h-1zM156.8 187.6h1v1h-1zM160.8 187.6h1v1h-1zM140.8 188.6h1v1h-1zM137.8 190.6h1v1h-1zM134.8 191.6h1v1h-1zM136.8 191.6h1v1h-1zM138.8 191.6h1v1h-1zM140.8 191.6h1v1h-1zM164.8 191.6h1v1h-1zM155.8 192.6h1v1h-1zM156.8 192.6h1v1h-1zM158.8 192.6h1v1h-1zM154.8 193.6h1v1h-1zM158.8 193.6h1v1h-1zM144.8 194.6h1v1h-1zM154.8 194.6h1v1h-1zM157.8 194.6h1v1h-1zM160.8 194.6h1v1h-1zM138.8 195.6h1v1h-1zM142.8 195.6h1v1h-1zM143.8 195.6h1v1h-1zM154.8 195.6h1v1h-1zM155.8 195.6h1v1h-1zM141.8 196.6h1v1h-1zM149.8 196.6h1v1h-1zM152.8 196.6h1v1h-1zM157.8 196.6h1v1h-1zM140.8 197.6h1v1h-1zM144.8 197.6h1v1h-1zM150.8 197.6h1v1h-1zM154.8 197.6h1v1h-1zM140.8 198.6h1v1h-1zM145.8 199.6h1v1h-1zM150.8 199.6h1v1h-1zM151.8 199.6h1v1h-1zM147.8 200.6h1v1h-1zM145.8 201.6h1v1h-1zM147.8 201.6h1v1h-1z" fill="#2030ff"/><path d="M169.8 146.6h1v1h-1zM144.8 147.6h1v1h-1zM154.8 147.6h1v1h-1zM134.8 148.6h1v1h-1zM155.8 148.6h1v1h-1zM165.8 148.6h1v1h-1zM169.8 148.6h1v1h-1zM170.8 148.6h1v1h-1zM172.8 148.6h1v1h-1zM176.8 148.6h1v1h-1zM179.8 148.6h1v1h-1zM190.8 148.6h1v1h-1zM192.8 148.6h1v1h-1zM140.8 149.6h1v1h-1zM141.8 149.6h1v1h-1zM181.8 149.6h1v1h-1zM183.8 149.6h1v1h-1zM185.8 149.6h1v1h-1zM186.8 149.6h1v1h-1zM192.8 149.6h1v1h-1zM136.8 150.6h1v1h-1zM191.8 150.6h1v1h-1zM192.8 150.6h1v1h-1zM196.8 150.6h1v1h-1zM133.8 151.6h1v1h-1zM134.8 151.6h1v1h-1zM191.8 151.6h1v1h-1zM192.8 151.6h1v1h-1zM195.8 151.6h1v1h-1zM200.8 151.6h1v1h-1zM132.8 152.6h1v1h-1zM136.8 152.6h1v1h-1zM196.8 152.6h1v1h-1zM196.8 153.6h1v1h-1zM198.8 153.6h1v1h-1zM136.8 154.6h1v1h-1zM200.8 154.6h1v1h-1zM134.8 155.6h1v1h-1zM199.8 155.6h1v1h-1zM198.8 156.6h1v1h-1zM131.8 158.6h1v1h-1zM135.8 158.6h1v1h-1zM199.8 160.6h1v1h-1zM133.8 161.6h1v1h-1zM177.8 161.6h1v1h-1zM180.8 161.6h1v1h-1zM182.8 161.6h1v1h-1zM196.8 161.6h1v1h-1zM198.8 161.6h1v1h-1zM199.8 161.6h1v1h-1zM169.8 162.6h1v1h-1zM173.8 162.6h1v1h-1zM179.8 162.6h1v1h-1zM181.8 162.6h1v1h-1zM182.8 162.6h1v1h-1zM183.8 162.6h1v1h-1zM185.8 162.6h1v1h-1zM186.8 162.6h1v1h-1zM187.8 162.6h1v1h-1zM164.8 163.6h1v1h-1zM167.8 163.6h1v1h-1zM180.8 163.6h1v1h-1zM184.8 163.6h1v1h-1zM189.8 163.6h1v1h-1zM195.8 163.6h1v1h-1zM136.8 164.6h1v1h-1zM161.8 164.6h1v1h-1zM162.8 164.6h1v1h-1zM163.8 164.6h1v1h-1zM184.8 164.6h1v1h-1zM135.8 165.6h1v1h-1zM167.8 165.6h1v1h-1zM181.8 165.6h1v1h-1zM188.8 165.6h1v1h-1zM192.8 165.6h1v1h-1zM160.8 166.6h1v1h-1zM188.8 166.6h1v1h-1zM134.8 167.6h1v1h-1zM140.8 167.6h1v1h-1zM167.8 167.6h1v1h-1zM159.8 168.6h1v1h-1zM188.8 168.6h1v1h-1zM159.8 169.6h1v1h-1zM163.8 169.6h1v1h-1zM186.8 169.6h1v1h-1zM161.8 170.6h1v1h-1zM192.8 170.6h1v1h-1zM160.8 171.6h1v1h-1zM161.8 171.6h1v1h-1zM189.8 171.6h1v1h-1zM192.8 171.6h1v1h-1zM140.8 172.6h1v1h-1zM133.8 173.6h1v1h-1zM138.8 173.6h1v1h-1zM158.8 173.6h1v1h-1zM141.8 174.6h1v1h-1zM158.8 174.6h1v1h-1zM189.8 174.6h1v1h-1zM141.8 175.6h1v1h-1zM159.8 176.6h1v1h-1zM160.8 177.6h1v1h-1zM161.8 178.6h1v1h-1zM138.8 179.6h1v1h-1zM140.8 179.6h1v1h-1zM141.8 180.6h1v1h-1zM157.8 181.6h1v1h-1zM141.8 182.6h1v1h-1zM157.8 182.6h1v1h-1zM133.8 183.6h1v1h-1zM138.8 183.6h1v1h-1zM141.8 183.6h1v1h-1zM160.8 183.6h1v1h-1zM163.8 183.6h1v1h-1zM161.8 184.6h1v1h-1zM137.8 185.6h1v1h-1zM140.8 185.6h1v1h-1zM139.8 186.6h1v1h-1zM141.8 189.6h1v1h-1zM142.8 189.6h1v1h-1zM156.8 189.6h1v1h-1zM157.8 190.6h1v1h-1zM157.8 191.6h1v1h-1zM140.8 192.6h1v1h-1zM143.8 192.6h1v1h-1zM140.8 193.6h1v1h-1zM141.8 193.6h1v1h-1zM156.8 193.6h1v1h-1zM136.8 194.6h1v1h-1zM139.8 194.6h1v1h-1zM141.8 194.6h1v1h-1zM158.8 194.6h1v1h-1zM140.8 195.6h1v1h-1zM150.8 196.6h1v1h-1zM151.8 196.6h1v1h-1zM154.8 196.6h1v1h-1zM145.8 197.6h1v1h-1zM161.8 197.6h1v1h-1zM148.8 198.6h1v1h-1zM152.8 198.6h1v1h-1zM146.8 199.6h1v1h-1zM149.8 199.6h1v1h-1zM153.8 199.6h1v1h-1zM149.8 200.6h1v1h-1zM153.8 201.6h1v1h-1zM155.8 201.6h1v1h-1zM143.8 202.6h1v1h-1z" fill="#3848ff"/><path d="M153.8 144.6h1v1h-1zM145.8 146.6h1v1h-1zM147.8 146.6h1v1h-1zM149.8 146.6h1v1h-1zM150.8 146.6h1v1h-1zM143.8 147.6h1v1h-1zM150.8 147.6h1v1h-1zM156.8 147.6h1v1h-1zM160.8 147.6h1v1h-1zM164.8 147.6h1v1h-1zM166.8 147.6h1v1h-1zM174.8 147.6h1v1h-1zM193.8 147.6h1v1h-1zM143.8 148.6h1v1h-1zM144.8 148.6h1v1h-1zM152.8 148.6h1v1h-1zM159.8 148.6h1v1h-1zM162.8 148.6h1v1h-1zM183.8 148.6h1v1h-1zM139.8 149.6h1v1h-1zM142.8 149.6h1v1h-1zM174.8 149.6h1v1h-1zM175.8 149.6h1v1h-1zM177.8 149.6h1v1h-1zM184.8 149.6h1v1h-1zM132.8 150.6h1v1h-1zM138.8 150.6h1v1h-1zM140.8 150.6h1v1h-1zM190.8 150.6h1v1h-1zM135.8 151.6h1v1h-1zM134.8 153.6h1v1h-1zM135.8 153.6h1v1h-1zM197.8 153.6h1v1h-1zM134.8 156.6h1v1h-1zM135.8 157.6h1v1h-1zM198.8 157.6h1v1h-1zM199.8 157.6h1v1h-1zM201.8 157.6h1v1h-1zM199.8 158.6h1v1h-1zM200.8 158.6h1v1h-1zM136.8 159.6h1v1h-1zM198.8 159.6h1v1h-1zM169.8 161.6h1v1h-1zM172.8 161.6h1v1h-1zM175.8 161.6h1v1h-1zM179.8 161.6h1v1h-1zM181.8 161.6h1v1h-1zM197.8 161.6h1v1h-1zM137.8 162.6h1v1h-1zM165.8 162.6h1v1h-1zM166.8 162.6h1v1h-1zM172.8 162.6h1v1h-1zM160.8 163.6h1v1h-1zM162.8 163.6h1v1h-1zM165.8 163.6h1v1h-1zM168.8 163.6h1v1h-1zM175.8 163.6h1v1h-1zM183.8 163.6h1v1h-1zM135.8 164.6h1v1h-1zM137.8 164.6h1v1h-1zM138.8 164.6h1v1h-1zM139.8 164.6h1v1h-1zM187.8 164.6h1v1h-1zM191.8 164.6h1v1h-1zM193.8 164.6h1v1h-1zM160.8 165.6h1v1h-1zM193.8 165.6h1v1h-1zM194.8 165.6h1v1h-1zM133.8 166.6h1v1h-1zM137.8 166.6h1v1h-1zM191.8 166.6h1v1h-1zM160.8 167.6h1v1h-1zM190.8 167.6h1v1h-1zM191.8 167.6h1v1h-1zM192.8 167.6h1v1h-1zM138.8 168.6h1v1h-1zM193.8 168.6h1v1h-1zM194.8 168.6h1v1h-1zM139.8 169.6h1v1h-1zM158.8 169.6h1v1h-1zM160.8 169.6h1v1h-1zM193.8 169.6h1v1h-1zM137.8 170.6h1v1h-1zM138.8 171.6h1v1h-1zM158.8 171.6h1v1h-1zM159.8 171.6h1v1h-1zM134.8 172.6h1v1h-1zM138.8 172.6h1v1h-1zM139.8 172.6h1v1h-1zM141.8 172.6h1v1h-1zM160.8 172.6h1v1h-1zM162.8 172.6h1v1h-1zM189.8 172.6h1v1h-1zM191.8 172.6h1v1h-1zM141.8 173.6h1v1h-1zM160.8 173.6h1v1h-1zM195.8 173.6h1v1h-1zM195.8 174.6h1v1h-1zM159.8 175.6h1v1h-1zM162.8 175.6h1v1h-1zM136.8 176.6h1v1h-1zM139.8 177.6h1v1h-1zM139.8 178.6h1v1h-1zM158.8 178.6h1v1h-1zM158.8 179.6h1v1h-1zM159.8 179.6h1v1h-1zM160.8 179.6h1v1h-1zM158.8 180.6h1v1h-1zM159.8 180.6h1v1h-1zM160.8 180.6h1v1h-1zM140.8 182.6h1v1h-1zM158.8 182.6h1v1h-1zM140.8 183.6h1v1h-1zM157.8 183.6h1v1h-1zM138.8 184.6h1v1h-1zM141.8 184.6h1v1h-1zM157.8 184.6h1v1h-1zM162.8 184.6h1v1h-1zM161.8 185.6h1v1h-1zM141.8 186.6h1v1h-1zM133.8 187.6h1v1h-1zM142.8 187.6h1v1h-1zM161.8 187.6h1v1h-1zM142.8 188.6h1v1h-1zM156.8 188.6h1v1h-1zM140.8 189.6h1v1h-1zM159.8 189.6h1v1h-1zM160.8 189.6h1v1h-1zM162.8 189.6h1v1h-1zM142.8 191.6h1v1h-1zM157.8 192.6h1v1h-1zM161.8 192.6h1v1h-1zM142.8 193.6h1v1h-1zM143.8 193.6h1v1h-1zM138.8 194.6h1v1h-1zM140.8 194.6h1v1h-1zM142.8 194.6h1v1h-1zM143.8 194.6h1v1h-1zM159.8 194.6h1v1h-1zM140.8 196.6h1v1h-1zM142.8 196.6h1v1h-1zM146.8 196.6h1v1h-1zM147.8 196.6h1v1h-1zM155.8 196.6h1v1h-1zM147.8 197.6h1v1h-1zM152.8 197.6h1v1h-1zM153.8 197.6h1v1h-1zM155.8 197.6h1v1h-1zM144.8 198.6h1v1h-1zM153.8 198.6h1v1h-1zM148.8 199.6h1v1h-1zM148.8 200.6h1v1h-1zM158.8 200.6h1v1h-1zM148.8 201.6h1v1h-1zM156.8 203.6h1v1h-1z" fill="#5060ff"/><path d="M159.8 144.6h1v1h-1zM160.8 144.6h1v1h-1zM145.8 145.6h1v1h-1zM184.8 145.6h1v1h-1zM151.8 146.6h1v1h-1zM166.8 146.6h1v1h-1zM135.8 147.6h1v1h-1zM145.8 147.6h1v1h-1zM155.8 147.6h1v1h-1zM168.8 147.6h1v1h-1zM170.8 147.6h1v1h-1zM182.8 147.6h1v1h-1zM135.8 148.6h1v1h-1zM147.8 148.6h1v1h-1zM149.8 148.6h1v1h-1zM150.8 148.6h1v1h-1zM154.8 148.6h1v1h-1zM160.8 148.6h1v1h-1zM166.8 148.6h1v1h-1zM167.8 148.6h1v1h-1zM173.8 148.6h1v1h-1zM180.8 148.6h1v1h-1zM185.8 148.6h1v1h-1zM135.8 149.6h1v1h-1zM171.8 149.6h1v1h-1zM173.8 149.6h1v1h-1zM178.8 149.6h1v1h-1zM189.8 149.6h1v1h-1zM190.8 149.6h1v1h-1zM139.8 150.6h1v1h-1zM187.8 150.6h1v1h-1zM194.8 150.6h1v1h-1zM137.8 151.6h1v1h-1zM193.8 151.6h1v1h-1zM134.8 152.6h1v1h-1zM197.8 152.6h1v1h-1zM199.8 152.6h1v1h-1zM199.8 153.6h1v1h-1zM135.8 154.6h1v1h-1zM197.8 154.6h1v1h-1zM133.8 155.6h1v1h-1zM133.8 156.6h1v1h-1zM135.8 156.6h1v1h-1zM134.8 158.6h1v1h-1zM136.8 158.6h1v1h-1zM135.8 159.6h1v1h-1zM197.8 160.6h1v1h-1zM136.8 161.6h1v1h-1zM168.8 161.6h1v1h-1zM170.8 161.6h1v1h-1zM173.8 161.6h1v1h-1zM184.8 161.6h1v1h-1zM185.8 161.6h1v1h-1zM162.8 162.6h1v1h-1zM171.8 162.6h1v1h-1zM176.8 162.6h1v1h-1zM180.8 162.6h1v1h-1zM195.8 162.6h1v1h-1zM134.8 163.6h1v1h-1zM138.8 163.6h1v1h-1zM161.8 163.6h1v1h-1zM166.8 163.6h1v1h-1zM169.8 163.6h1v1h-1zM187.8 163.6h1v1h-1zM188.8 163.6h1v1h-1zM193.8 163.6h1v1h-1zM194.8 163.6h1v1h-1zM134.8 164.6h1v1h-1zM160.8 164.6h1v1h-1zM188.8 164.6h1v1h-1zM190.8 164.6h1v1h-1zM194.8 164.6h1v1h-1zM168.8 165.6h1v1h-1zM170.8 165.6h1v1h-1zM184.8 165.6h1v1h-1zM190.8 165.6h1v1h-1zM191.8 165.6h1v1h-1zM196.8 165.6h1v1h-1zM138.8 166.6h1v1h-1zM139.8 166.6h1v1h-1zM159.8 167.6h1v1h-1zM189.8 167.6h1v1h-1zM190.8 169.6h1v1h-1zM189.8 170.6h1v1h-1zM162.8 171.6h1v1h-1zM191.8 171.6h1v1h-1zM161.8 172.6h1v1h-1zM163.8 172.6h1v1h-1zM185.8 172.6h1v1h-1zM159.8 173.6h1v1h-1zM137.8 174.6h1v1h-1zM159.8 174.6h1v1h-1zM161.8 174.6h1v1h-1zM194.8 174.6h1v1h-1zM138.8 175.6h1v1h-1zM139.8 175.6h1v1h-1zM138.8 176.6h1v1h-1zM140.8 176.6h1v1h-1zM158.8 176.6h1v1h-1zM140.8 177.6h1v1h-1zM158.8 177.6h1v1h-1zM138.8 178.6h1v1h-1zM140.8 178.6h1v1h-1zM141.8 178.6h1v1h-1zM159.8 178.6h1v1h-1zM137.8 179.6h1v1h-1zM163.8 179.6h1v1h-1zM140.8 180.6h1v1h-1zM161.8 180.6h1v1h-1zM139.8 181.6h1v1h-1zM158.8 181.6h1v1h-1zM160.8 184.6h1v1h-1zM137.8 186.6h1v1h-1zM157.8 186.6h1v1h-1zM158.8 186.6h1v1h-1zM140.8 187.6h1v1h-1zM157.8 187.6h1v1h-1zM158.8 187.6h1v1h-1zM139.8 188.6h1v1h-1zM160.8 188.6h1v1h-1zM155.8 189.6h1v1h-1zM158.8 189.6h1v1h-1zM139.8 190.6h1v1h-1zM140.8 190.6h1v1h-1zM142.8 190.6h1v1h-1zM156.8 190.6h1v1h-1zM159.8 190.6h1v1h-1zM139.8 191.6h1v1h-1zM156.8 191.6h1v1h-1zM158.8 191.6h1v1h-1zM136.8 192.6h1v1h-1zM139.8 192.6h1v1h-1zM141.8 192.6h1v1h-1zM159.8 192.6h1v1h-1zM163.8 194.6h1v1h-1zM144.8 195.6h1v1h-1zM145.8 195.6h1v1h-1zM139.8 196.6h1v1h-1zM143.8 196.6h1v1h-1zM144.8 196.6h1v1h-1zM145.8 196.6h1v1h-1zM153.8 196.6h1v1h-1zM158.8 196.6h1v1h-1zM142.8 197.6h1v1h-1zM146.8 197.6h1v1h-1zM148.8 197.6h1v1h-1zM142.8 198.6h1v1h-1zM142.8 199.6h1v1h-1zM147.8 199.6h1v1h-1zM158.8 199.6h1v1h-1zM151.8 200.6h1v1h-1zM153.8 200.6h1v1h-1zM141.8 202.6h1v1h-1zM144.8 202.6h1v1h-1zM154.8 202.6h1v1h-1zM152.8 203.6h1v1h-1z" fill="#1848f0"/><path d="M150.8 144.6h1v1h-1zM138.8 146.6h1v1h-1zM139.8 146.6h1v1h-1zM143.8 146.6h1v1h-1zM167.8 146.6h1v1h-1zM149.8 147.6h1v1h-1zM151.8 147.6h1v1h-1zM162.8 147.6h1v1h-1zM167.8 147.6h1v1h-1zM177.8 147.6h1v1h-1zM178.8 147.6h1v1h-1zM180.8 147.6h1v1h-1zM136.8 148.6h1v1h-1zM138.8 148.6h1v1h-1zM140.8 148.6h1v1h-1zM141.8 148.6h1v1h-1zM142.8 148.6h1v1h-1zM146.8 148.6h1v1h-1zM153.8 148.6h1v1h-1zM158.8 148.6h1v1h-1zM161.8 148.6h1v1h-1zM163.8 148.6h1v1h-1zM168.8 148.6h1v1h-1zM178.8 148.6h1v1h-1zM184.8 148.6h1v1h-1zM137.8 149.6h1v1h-1zM143.8 149.6h1v1h-1zM169.8 149.6h1v1h-1zM172.8 149.6h1v1h-1zM176.8 149.6h1v1h-1zM137.8 150.6h1v1h-1zM188.8 150.6h1v1h-1zM138.8 151.6h1v1h-1zM196.8 151.6h1v1h-1zM135.8 152.6h1v1h-1zM137.8 152.6h1v1h-1zM136.8 153.6h1v1h-1zM131.8 154.6h1v1h-1zM198.8 155.6h1v1h-1zM200.8 157.6h1v1h-1zM133.8 158.6h1v1h-1zM132.8 159.6h1v1h-1zM199.8 159.6h1v1h-1zM201.8 159.6h1v1h-1zM135.8 160.6h1v1h-1zM132.8 161.6h1v1h-1zM135.8 161.6h1v1h-1zM171.8 161.6h1v1h-1zM174.8 161.6h1v1h-1zM176.8 161.6h1v1h-1zM178.8 161.6h1v1h-1zM183.8 161.6h1v1h-1zM161.8 162.6h1v1h-1zM163.8 162.6h1v1h-1zM167.8 162.6h1v1h-1zM168.8 162.6h1v1h-1zM139.8 163.6h1v1h-1zM173.8 163.6h1v1h-1zM174.8 163.6h1v1h-1zM182.8 163.6h1v1h-1zM190.8 163.6h1v1h-1zM159.8 164.6h1v1h-1zM172.8 164.6h1v1h-1zM192.8 164.6h1v1h-1zM196.8 164.6h1v1h-1zM140.8 165.6h1v1h-1zM161.8 165.6h1v1h-1zM182.8 165.6h1v1h-1zM189.8 165.6h1v1h-1zM159.8 166.6h1v1h-1zM163.8 166.6h1v1h-1zM190.8 166.6h1v1h-1zM196.8 166.6h1v1h-1zM163.8 167.6h1v1h-1zM135.8 168.6h1v1h-1zM139.8 168.6h1v1h-1zM160.8 168.6h1v1h-1zM163.8 168.6h1v1h-1zM190.8 168.6h1v1h-1zM192.8 168.6h1v1h-1zM189.8 169.6h1v1h-1zM195.8 169.6h1v1h-1zM135.8 170.6h1v1h-1zM138.8 170.6h1v1h-1zM141.8 170.6h1v1h-1zM158.8 170.6h1v1h-1zM163.8 170.6h1v1h-1zM137.8 171.6h1v1h-1zM139.8 171.6h1v1h-1zM193.8 171.6h1v1h-1zM195.8 171.6h1v1h-1zM137.8 172.6h1v1h-1zM158.8 172.6h1v1h-1zM161.8 173.6h1v1h-1zM162.8 173.6h1v1h-1zM140.8 175.6h1v1h-1zM163.8 175.6h1v1h-1zM141.8 176.6h1v1h-1zM162.8 177.6h1v1h-1zM160.8 178.6h1v1h-1zM132.8 179.6h1v1h-1zM141.8 179.6h1v1h-1zM135.8 180.6h1v1h-1zM138.8 180.6h1v1h-1zM140.8 181.6h1v1h-1zM141.8 181.6h1v1h-1zM136.8 182.6h1v1h-1zM137.8 182.6h1v1h-1zM160.8 182.6h1v1h-1zM158.8 184.6h1v1h-1zM159.8 184.6h1v1h-1zM138.8 185.6h1v1h-1zM141.8 185.6h1v1h-1zM157.8 185.6h1v1h-1zM158.8 185.6h1v1h-1zM164.8 185.6h1v1h-1zM136.8 186.6h1v1h-1zM140.8 186.6h1v1h-1zM156.8 186.6h1v1h-1zM159.8 186.6h1v1h-1zM160.8 186.6h1v1h-1zM164.8 186.6h1v1h-1zM141.8 187.6h1v1h-1zM138.8 188.6h1v1h-1zM141.8 188.6h1v1h-1zM157.8 188.6h1v1h-1zM158.8 188.6h1v1h-1zM138.8 189.6h1v1h-1zM157.8 189.6h1v1h-1zM141.8 190.6h1v1h-1zM155.8 190.6h1v1h-1zM160.8 190.6h1v1h-1zM133.8 191.6h1v1h-1zM155.8 191.6h1v1h-1zM133.8 192.6h1v1h-1zM142.8 192.6h1v1h-1zM163.8 192.6h1v1h-1zM134.8 193.6h1v1h-1zM139.8 193.6h1v1h-1zM155.8 193.6h1v1h-1zM157.8 193.6h1v1h-1zM155.8 194.6h1v1h-1zM156.8 194.6h1v1h-1zM152.8 195.6h1v1h-1zM153.8 195.6h1v1h-1zM138.8 196.6h1v1h-1zM148.8 196.6h1v1h-1zM141.8 197.6h1v1h-1zM143.8 197.6h1v1h-1zM149.8 197.6h1v1h-1zM151.8 197.6h1v1h-1zM149.8 198.6h1v1h-1zM144.8 199.6h1v1h-1zM152.8 199.6h1v1h-1zM159.8 199.6h1v1h-1zM149.8 201.6h1v1h-1z" fill="#7080ff"/><path d="M144.3 195.1L145.97 196.77L147.3 197.43L151.97 197.77L154.63 196.43L155.97 194.77L156.97 192.1L157.3 189.1L158.97 182.77L160.3 166.1L160.63 165.1L161.97 163.77L163.3 163.1L166.63 162.43L174.3 162.1L174.63 161.77L183.3 161.77L183.63 162.1L186.97 162.43L191.63 165.1L192.97 165.1L196.3 163.43L198.97 160.77L199.63 159.43L199.63 156.43L198.97 155.1L196.63 153.1L192.97 151.77L186.3 150.43L183.63 150.43L183.3 150.1L159.97 149.77L159.63 149.43L150.3 149.1L149.97 149.43L144.63 149.77L139.63 151.77L136.97 154.43L136.3 157.77L137.63 161.1L140.3 164.77L141.3 167.77L141.63 171.43L141.97 171.77L141.97 185.1L142.3 185.43L142.3 187.43L142.97 189.43L143.3 192.77Z" fill="#2a3cff" fill-rule="evenodd"/><path d="M147.97 192.1L148.97 193.1L150.97 193.1L152.3 191.77L155.63 184.77L156.97 178.43L156.97 173.43L157.3 173.1L156.97 164.77L158.63 162.77L161.97 161.43L167.63 161.1L167.97 160.77L172.3 160.77L172.63 160.43L186.3 160.43L191.63 162.43L193.97 162.43L195.63 161.77L197.3 160.43L197.97 159.1L197.63 156.1L195.97 154.43L194.63 153.77L184.63 151.77L174.97 151.77L174.63 151.43L170.3 151.43L169.97 151.1L159.63 151.1L159.3 150.77L147.97 150.77L143.97 151.77L141.3 153.1L139.3 155.77L139.3 158.43L140.63 160.77L143.3 163.77L144.3 166.1L144.63 181.77L144.97 182.1L145.3 185.43Z" fill="#1c88ff" fill-rule="evenodd"/><path d="M141.3 156.43L141.3 157.43L142.3 159.43L147.63 164.43L147.63 167.43L146.97 169.77L146.97 180.43L148.3 184.1L149.3 185.1L150.3 185.43L152.63 184.1L154.63 179.43L154.97 171.1L154.63 170.77L154.63 169.1L153.3 165.77L153.3 164.1L155.3 162.1L161.97 160.1L169.63 159.77L169.97 159.43L177.3 159.1L177.63 158.77L179.3 159.1L187.3 159.1L192.97 161.1L194.63 160.77L196.63 158.77L196.63 157.43L195.97 156.1L194.63 155.1L192.3 154.43L189.63 154.43L183.97 153.1L175.3 153.1L174.97 152.77L171.97 152.77L171.63 152.43L164.97 152.43L164.63 152.1L159.63 152.1L159.3 151.77L154.63 151.77L154.3 151.43L148.63 151.77L144.97 152.77L142.3 154.43Z" fill="#12d0e8" fill-rule="evenodd"/><path d="M150.63 174.43L150.3 176.43L150.97 177.1L151.3 174.77ZM189.3 156.77L189.3 157.43L191.63 159.1L193.97 159.1L194.63 158.43L194.63 157.43L193.63 156.43L192.63 156.1L190.63 156.1ZM143.63 157.77L145.97 160.1L148.3 161.1L150.63 161.43L162.97 158.77L169.63 158.43L175.63 157.1L183.63 157.1L185.3 156.43L184.63 155.43L181.3 154.77L177.3 155.1L170.97 153.77L162.97 153.43L162.63 153.1L157.3 152.77L156.97 152.43L150.63 152.43L147.3 153.1L144.63 154.43L143.63 155.77Z" fill="#3ae054" fill-rule="evenodd"/><path d="M145.63 157.43L148.3 159.43L154.3 159.77L167.3 156.77L168.63 156.1L166.63 155.1L163.63 154.77L158.63 153.43L151.97 153.1L151.63 153.43L149.63 153.43L146.97 154.43L145.63 155.77Z" fill="#b4f014" fill-rule="evenodd"/><path d="M147.3 155.77L147.3 157.1L148.3 158.1L149.97 158.77L155.63 158.77L159.63 157.77L161.97 156.43L161.97 155.77L160.3 154.77L155.97 153.77L150.3 154.1Z" fill="#ffe400" fill-rule="evenodd"/><path d="M148.97 156.77L151.3 158.1L154.97 158.1L157.63 157.43L159.3 156.1L158.3 155.1L157.3 154.77L152.3 154.43L149.97 155.1L148.97 156.1Z" fill="#ff8c00" fill-rule="evenodd"/><path d="M150.97 156.1L151.97 157.1L155.3 157.1L156.63 156.43L156.63 155.77L155.97 155.43L151.97 155.43Z" fill="#ff2800" fill-rule="evenodd"/><path d="M171.64 189.99h.9v.9h-.9zM178.4 146.77h.9v.9h-.9zM155.99 135.97h.9v.9h-.9zM165.68 146.34h.9v.9h-.9zM135.99 145.13h.9v.9h-.9zM181.91 166.39h.9v.9h-.9zM140.99 202.78h.9v.9h-.9zM142.87 146.12h.9v.9h-.9zM207.77 145.81h.9v.9h-.9zM202.85 153.67h.9v.9h-.9zM195.49 174.94h.9v.9h-.9zM204.67 158.83h.9v.9h-.9zM184.12 142.92h.9v.9h-.9zM144.86 140.28h.9v.9h-.9zM168.54 195.87h.9v.9h-.9zM155.71 202.57h.9v.9h-.9zM205.27 153.23h.9v.9h-.9zM134.87 189.5h.9v.9h-.9zM154.29 144.2h.9v.9h-.9zM199.19 179.08h.9v.9h-.9zM184 145.16h.9v.9h-.9zM139.26 142.54h.9v.9h-.9zM139.5 139.75h.9v.9h-.9zM136.62 143.91h.9v.9h-.9zM166.42 171.94h.9v.9h-.9zM135.54 148.66h.9v.9h-.9zM200.11 182.6h.9v.9h-.9zM176.94 169.23h.9v.9h-.9zM203.14 167.74h.9v.9h-.9zM160.62 145.88h.9v.9h-.9zM169.05 179.14h.9v.9h-.9zM186.01 171.04h.9v.9h-.9zM135.99 147.24h.9v.9h-.9zM199.21 170.57h.9v.9h-.9zM174.56 168.42h.9v.9h-.9zM168.07 175.35h.9v.9h-.9zM151.81 142.77h.9v.9h-.9zM155.72 141.65h.9v.9h-.9zM168.3 167.86h.9v.9h-.9zM174.25 175.19h.9v.9h-.9zM199.8 167.28h.9v.9h-.9zM134.57 148.94h.9v.9h-.9zM172.54 184.76h.9v.9h-.9zM168.95 178.61h.9v.9h-.9zM163.16 145.81h.9v.9h-.9zM151.96 143.69h.9v.9h-.9zM168.05 168.21h.9v.9h-.9zM173.58 173.99h.9v.9h-.9zM179.64 140.44h.9v.9h-.9zM145.53 138.24h.9v.9h-.9zM173.26 165.28h.9v.9h-.9zM191.66 178.44h.9v.9h-.9zM180.68 167.66h.9v.9h-.9zM198.95 149.24h.9v.9h-.9zM195.42 147.05h.9v.9h-.9zM136.62 142.66h.9v.9h-.9zM146.2 142.08h.9v.9h-.9zM170.75 145.35h.9v.9h-.9zM146.61 144.19h.9v.9h-.9zM172.57 144.55h.9v.9h-.9zM167.92 141.67h.9v.9h-.9zM206.51 155.22h.9v.9h-.9zM190.83 137.61h.9v.9h-.9zM169.71 198h.9v.9h-.9zM136.64 198.55h.9v.9h-.9zM205.86 170.42h.9v.9h-.9zM204 159.03h.9v.9h-.9zM204.59 161.68h.9v.9h-.9zM173.61 174.13h.9v.9h-.9zM168.57 195.14h.9v.9h-.9zM208.18 156.42h.9v.9h-.9zM173.1 168.86h.9v.9h-.9zM187.48 173.17h.9v.9h-.9zM165.63 175.54h.9v.9h-.9zM182.08 169.53h.9v.9h-.9zM182.23 146.78h.9v.9h-.9zM134.19 173.98h.9v.9h-.9zM174.77 167.08h.9v.9h-.9zM139.73 200.46h.9v.9h-.9zM198.22 173.56h.9v.9h-.9zM177.62 185.42h.9v.9h-.9zM166.36 175.87h.9v.9h-.9zM142.67 145.85h.9v.9h-.9zM178.93 165.74h.9v.9h-.9zM204.25 160.33h.9v.9h-.9zM179.37 188.57h.9v.9h-.9zM161.85 198.47h.9v.9h-.9zM165.52 196.48h.9v.9h-.9zM168.06 180.19h.9v.9h-.9zM193.46 177.79h.9v.9h-.9zM171.26 142.87h.9v.9h-.9zM160.02 137.81h.9v.9h-.9zM201.21 167.91h.9v.9h-.9zM170.97 142.49h.9v.9h-.9zM167.81 144.52h.9v.9h-.9zM196.85 149.28h.9v.9h-.9zM134.18 181.25h.9v.9h-.9zM200.37 151.03h.9v.9h-.9zM204.13 154.95h.9v.9h-.9zM151.9 145.36h.9v.9h-.9zM165.56 143.42h.9v.9h-.9zM197.89 135.18h.9v.9h-.9zM202.77 153.36h.9v.9h-.9zM135.18 183.6h.9v.9h-.9zM167.5 167.88h.9v.9h-.9zM133.74 200.68h.9v.9h-.9zM167.57 184.56h.9v.9h-.9zM185.66 147.03h.9v.9h-.9zM166.49 201h.9v.9h-.9zM215.97 147.26h.9v.9h-.9zM164.06 140.73h.9v.9h-.9zM156.37 144.24h.9v.9h-.9zM186.38 136.9h.9v.9h-.9zM137.02 198.88h.9v.9h-.9zM168.81 168.09h.9v.9h-.9zM175.4 173.74h.9v.9h-.9zM162.08 203.71h.9v.9h-.9zM181.71 175h.9v.9h-.9zM168.81 167.9h.9v.9h-.9zM167.26 171.41h.9v.9h-.9zM178.92 144.18h.9v.9h-.9zM166.98 145.3h.9v.9h-.9zM173.9 143.85h.9v.9h-.9zM189.97 179.52h.9v.9h-.9zM158.41 143.26h.9v.9h-.9zM171.35 140.72h.9v.9h-.9zM163.8 142.71h.9v.9h-.9zM134.52 180.19h.9v.9h-.9zM168.31 168.8h.9v.9h-.9zM189.4 182.77h.9v.9h-.9zM189 146.27h.9v.9h-.9zM174.7 139.5h.9v.9h-.9zM172.04 173.87h.9v.9h-.9zM166.69 197.14h.9v.9h-.9zM196.95 149.4h.9v.9h-.9zM183.13 168h.9v.9h-.9zM177.36 145.28h.9v.9h-.9zM167.92 170.82h.9v.9h-.9zM155.33 144.79h.9v.9h-.9zM183.53 145.47h.9v.9h-.9zM178.95 146.83h.9v.9h-.9zM170.34 146.11h.9v.9h-.9zM170.73 172.55h.9v.9h-.9zM175.17 167.14h.9v.9h-.9zM133.21 187.13h.9v.9h-.9zM204.53 154.28h.9v.9h-.9zM180.64 146.78h.9v.9h-.9zM201.8 147.55h.9v.9h-.9zM168.81 167.51h.9v.9h-.9zM189.35 180.99h.9v.9h-.9zM193.98 145.23h.9v.9h-.9zM181.58 144.32h.9v.9h-.9zM135.43 177.53h.9v.9h-.9zM203.95 151.64h.9v.9h-.9zM202.33 164.61h.9v.9h-.9zM155.54 202.52h.9v.9h-.9zM133.59 189.42h.9v.9h-.9zM183.23 145.81h.9v.9h-.9zM159.62 203.31h.9v.9h-.9zM140.6 146.35h.9v.9h-.9zM141.74 203.73h.9v.9h-.9zM133 164.71h.9v.9h-.9zM168.58 183.81h.9v.9h-.9zM177.85 170.8h.9v.9h-.9zM166.75 191.22h.9v.9h-.9zM168.12 146.44h.9v.9h-.9zM198.99 174.69h.9v.9h-.9zM173.97 175.08h.9v.9h-.9zM189.93 146.83h.9v.9h-.9zM158.31 144.01h.9v.9h-.9zM202.24 164h.9v.9h-.9zM214.08 161.81h.9v.9h-.9zM205.57 148.59h.9v.9h-.9zM201.64 163.46h.9v.9h-.9zM169.5 175.07h.9v.9h-.9zM185.09 145.83h.9v.9h-.9zM154.81 141.21h.9v.9h-.9zM166.68 179.34h.9v.9h-.9zM133.75 187.18h.9v.9h-.9zM167.03 182.78h.9v.9h-.9zM191.11 185.4h.9v.9h-.9zM190.33 179.7h.9v.9h-.9zM145.16 143.32h.9v.9h-.9zM182.94 166.65h.9v.9h-.9zM151.51 140.5h.9v.9h-.9zM133.6 171.66h.9v.9h-.9zM133.15 171.57h.9v.9h-.9zM154.78 144.51h.9v.9h-.9zM205.5 156.46h.9v.9h-.9zM181.35 168.63h.9v.9h-.9zM197.04 149h.9v.9h-.9zM168 145.14h.9v.9h-.9zM167.43 172.86h.9v.9h-.9zM170.27 166.09h.9v.9h-.9zM165.45 143.24h.9v.9h-.9zM181.71 134.78h.9v.9h-.9zM177.25 165.91h.9v.9h-.9zM167.08 142.87h.9v.9h-.9zM177.06 194.88h.9v.9h-.9zM136.55 195.55h.9v.9h-.9zM165.01 181.53h.9v.9h-.9zM172.38 166.05h.9v.9h-.9zM177.75 202.97h.9v.9h-.9zM134.17 186.27h.9v.9h-.9zM169.34 167.1h.9v.9h-.9zM173.33 139.27h.9v.9h-.9zM174.2 167.15h.9v.9h-.9zM136.68 146.18h.9v.9h-.9zM174.28 175.83h.9v.9h-.9zM137.26 143.82h.9v.9h-.9zM183.96 171.66h.9v.9h-.9zM173.91 191.46h.9v.9h-.9zM163.93 198.14h.9v.9h-.9zM134.54 169.14h.9v.9h-.9zM136.32 193.1h.9v.9h-.9zM145.5 203.17h.9v.9h-.9zM167.73 170.62h.9v.9h-.9zM186.32 172.86h.9v.9h-.9zM166.3 188.82h.9v.9h-.9zM181.74 168.99h.9v.9h-.9zM215.82 157.49h.9v.9h-.9zM134.24 192.81h.9v.9h-.9zM173.89 166.58h.9v.9h-.9zM200.54 152.02h.9v.9h-.9zM132.98 168.78h.9v.9h-.9zM162.21 203.63h.9v.9h-.9zM180.71 146.62h.9v.9h-.9zM148.36 145.24h.9v.9h-.9zM175.47 173.07h.9v.9h-.9zM137.62 140.18h.9v.9h-.9zM168.71 183.11h.9v.9h-.9zM134.22 200.8h.9v.9h-.9zM136.03 148.23h.9v.9h-.9zM178.3 173.77h.9v.9h-.9zM204.08 142.83h.9v.9h-.9zM156.24 142.83h.9v.9h-.9zM183.99 145.39h.9v.9h-.9zM202.15 162.92h.9v.9h-.9zM169.03 181.55h.9v.9h-.9zM185.8 145.59h.9v.9h-.9zM197.84 144.25h.9v.9h-.9zM206.12 156.19h.9v.9h-.9zM171.26 189.1h.9v.9h-.9zM173.07 172.33h.9v.9h-.9zM170.59 143.1h.9v.9h-.9zM182.46 165.94h.9v.9h-.9zM173.78 168.3h.9v.9h-.9zM135 178.68h.9v.9h-.9zM165.49 186.82h.9v.9h-.9zM189.78 185.31h.9v.9h-.9zM165.71 174.42h.9v.9h-.9zM179.66 171.13h.9v.9h-.9zM166.45 189.78h.9v.9h-.9zM165.24 171.98h.9v.9h-.9zM179.03 183.65h.9v.9h-.9zM182.32 166.03h.9v.9h-.9zM175.51 163.02h.9v.9h-.9zM166.04 189.27h.9v.9h-.9zM172.52 168.26h.9v.9h-.9zM165.28 194.27h.9v.9h-.9zM170.28 173.89h.9v.9h-.9zM165.89 185.58h.9v.9h-.9zM176.32 191.64h.9v.9h-.9zM181.95 194.92h.9v.9h-.9zM177.78 185.38h.9v.9h-.9zM180.68 170.27h.9v.9h-.9zM175.16 192.67h.9v.9h-.9zM170.27 191.26h.9v.9h-.9zM172.03 172.42h.9v.9h-.9zM170.94 180.61h.9v.9h-.9zM181.45 178.72h.9v.9h-.9zM176.12 190.02h.9v.9h-.9zM170.59 184.27h.9v.9h-.9zM180.91 181.39h.9v.9h-.9zM165.46 170.24h.9v.9h-.9zM171.28 165.69h.9v.9h-.9zM178.01 181.55h.9v.9h-.9zM167.62 169.98h.9v.9h-.9zM171.94 192.97h.9v.9h-.9zM176.54 180.97h.9v.9h-.9zM176.91 154.7h.9v.9h-.9zM167.95 168.75h.9v.9h-.9zM176.14 194.95h.9v.9h-.9zM153.99 152.52h.9v.9h-.9zM177.6 177.9h.9v.9h-.9zM163.24 193.38h.9v.9h-.9zM155.16 164.64h.9v.9h-.9zM151.54 149.74h.9v.9h-.9zM138.66 179.81h.9v.9h-.9zM145.45 191.11h.9v.9h-.9zM170.19 188.43h.9v.9h-.9zM142.85 178.35h.9v.9h-.9zM138.41 174.26h.9v.9h-.9zM159.74 191.62h.9v.9h-.9zM139.3 189.62h.9v.9h-.9zM158.37 172.95h.9v.9h-.9zM177.27 176.53h.9v.9h-.9zM166.41 176.89h.9v.9h-.9zM164.44 194.57h.9v.9h-.9zM159.03 154.42h.9v.9h-.9zM171.01 187.23h.9v.9h-.9zM170.5 195.57h.9v.9h-.9zM148.53 164.84h.9v.9h-.9zM152.02 167.42h.9v.9h-.9zM148.44 154.17h.9v.9h-.9zM151.26 195.09h.9v.9h-.9zM175.42 150.31h.9v.9h-.9zM148.19 179.54h.9v.9h-.9zM187.69 179.59h.9v.9h-.9zM192.38 155.92h.9v.9h-.9z" fill="#4858ff" fill-opacity=".6"/></g>
<path d="M136.5 139.5H206.8V162H136.5ZM163.5 139.5V198.8M183.3 139.5V162M136.5 162V198.8H163.5M183.3 162V197.2H206.8V162" stroke="#111" stroke-width="1.6" fill="none"/>
<path d="M143.7 205.3v2M152 205.3v2M172.2 205.3v2M191.3 205.3v2M209.7 205.3v2M134.8 205.6v1.2M138.3 205.6v1.2M141.8 205.6v1.2M145.3 205.6v1.2M148.8 205.6v1.2M152.3 205.6v1.2M155.8 205.6v1.2M159.3 205.6v1.2M162.8 205.6v1.2M166.3 205.6v1.2M169.8 205.6v1.2M173.3 205.6v1.2M176.8 205.6v1.2M180.3 205.6v1.2M183.8 205.6v1.2M187.3 205.6v1.2M190.8 205.6v1.2M194.3 205.6v1.2M197.8 205.6v1.2M201.3 205.6v1.2M204.8 205.6v1.2M208.3 205.6v1.2M211.8 205.6v1.2M215.3 205.6v1.2" stroke="#888" stroke-width=".5" fill="none"/>
<text x="143.7" y="214.2" font-size="5.6" text-anchor="middle" fill="#444">0</text>
<text x="152" y="214.2" font-size="5.6" text-anchor="middle" fill="#444">10²</text>
<text x="172.2" y="214.2" font-size="5.6" text-anchor="middle" fill="#444">10³</text>
<text x="191.3" y="214.2" font-size="5.6" text-anchor="middle" fill="#444">10⁴</text>
<text x="209.7" y="214.2" font-size="5.6" text-anchor="middle" fill="#444">10⁵</text>
<rect x="221.5" y="118.6" width="87" height="87.2" fill="#fff" stroke="#b4b4b4" stroke-width="1.1"/>
<g filter="url(#soft)"><path d="M232.5 142.6h1v1h-1zM252.5 143.6h1v1h-1zM224.5 144.6h1v1h-1zM230.5 144.6h1v1h-1zM244.5 144.6h1v1h-1zM254.5 144.6h1v1h-1zM233.5 145.6h1v1h-1zM237.5 145.6h1v1h-1zM243.5 145.6h1v1h-1zM253.5 145.6h1v1h-1zM268.5 145.6h1v1h-1zM234.5 146.6h1v1h-1zM240.5 146.6h1v1h-1zM244.5 146.6h1v1h-1zM247.5 146.6h1v1h-1zM249.5 146.6h1v1h-1zM225.5 147.6h1v1h-1zM232.5 147.6h1v1h-1zM236.5 147.6h1v1h-1zM237.5 147.6h1v1h-1zM268.5 147.6h1v1h-1zM230.5 148.6h1v1h-1zM232.5 148.6h1v1h-1zM277.5 148.6h1v1h-1zM227.5 149.6h1v1h-1zM230.5 149.6h1v1h-1zM231.5 149.6h1v1h-1zM272.5 149.6h1v1h-1zM274.5 149.6h1v1h-1zM284.5 149.6h1v1h-1zM229.5 150.6h1v1h-1zM276.5 150.6h1v1h-1zM279.5 151.6h1v1h-1zM282.5 151.6h1v1h-1zM225.5 152.6h1v1h-1zM280.5 152.6h1v1h-1zM281.5 152.6h1v1h-1zM225.5 153.6h1v1h-1zM285.5 153.6h1v1h-1zM286.5 153.6h1v1h-1zM223.5 154.6h1v1h-1zM224.5 154.6h1v1h-1zM282.5 154.6h1v1h-1zM223.5 155.6h1v1h-1zM283.5 155.6h1v1h-1zM285.5 155.6h1v1h-1zM225.5 157.6h1v1h-1zM223.5 158.6h1v1h-1zM285.5 158.6h1v1h-1zM286.5 158.6h1v1h-1zM290.5 158.6h1v1h-1zM226.5 160.6h1v1h-1zM228.5 160.6h1v1h-1zM228.5 161.6h1v1h-1zM222.5 162.6h1v1h-1zM228.5 162.6h1v1h-1zM287.5 162.6h1v1h-1zM254.5 163.6h1v1h-1zM263.5 163.6h1v1h-1zM265.5 163.6h1v1h-1zM291.5 163.6h1v1h-1zM224.5 164.6h1v1h-1zM230.5 164.6h1v1h-1zM249.5 164.6h1v1h-1zM261.5 164.6h1v1h-1zM225.5 165.6h1v1h-1zM230.5 165.6h1v1h-1zM232.5 165.6h1v1h-1zM246.5 165.6h1v1h-1zM250.5 165.6h1v1h-1zM251.5 165.6h1v1h-1zM260.5 165.6h1v1h-1zM264.5 165.6h1v1h-1zM269.5 165.6h1v1h-1zM229.5 166.6h1v1h-1zM235.5 166.6h1v1h-1zM239.5 166.6h1v1h-1zM243.5 166.6h1v1h-1zM248.5 166.6h1v1h-1zM261.5 166.6h1v1h-1zM231.5 167.6h1v1h-1zM232.5 167.6h1v1h-1zM238.5 167.6h1v1h-1zM234.5 168.6h1v1h-1zM238.5 168.6h1v1h-1zM245.5 168.6h1v1h-1zM256.5 168.6h1v1h-1zM270.5 168.6h1v1h-1zM249.5 169.6h1v1h-1zM252.5 169.6h1v1h-1zM289.5 169.6h1v1h-1zM240.5 170.6h1v1h-1zM286.5 170.6h1v1h-1zM222.5 171.6h1v1h-1zM231.5 171.6h1v1h-1zM235.5 171.6h1v1h-1zM274.5 171.6h1v1h-1zM277.5 171.6h1v1h-1zM242.5 172.6h1v1h-1zM252.5 172.6h1v1h-1zM278.5 172.6h1v1h-1zM288.5 172.6h1v1h-1zM236.5 173.6h1v1h-1zM250.5 173.6h1v1h-1zM277.5 173.6h1v1h-1zM237.5 174.6h1v1h-1zM247.5 174.6h1v1h-1zM278.5 174.6h1v1h-1zM238.5 175.6h1v1h-1zM242.5 175.6h1v1h-1zM250.5 175.6h1v1h-1zM237.5 176.6h1v1h-1zM238.5 176.6h1v1h-1zM289.5 176.6h1v1h-1zM231.5 177.6h1v1h-1zM240.5 177.6h1v1h-1zM246.5 177.6h1v1h-1zM247.5 177.6h1v1h-1zM277.5 177.6h1v1h-1zM280.5 177.6h1v1h-1zM286.5 177.6h1v1h-1zM288.5 177.6h1v1h-1zM226.5 178.6h1v1h-1zM230.5 178.6h1v1h-1zM232.5 178.6h1v1h-1zM241.5 178.6h1v1h-1zM248.5 178.6h1v1h-1zM252.5 178.6h1v1h-1zM281.5 178.6h1v1h-1zM286.5 178.6h1v1h-1zM288.5 178.6h1v1h-1zM228.5 179.6h1v1h-1zM236.5 179.6h1v1h-1zM243.5 179.6h1v1h-1zM244.5 179.6h1v1h-1zM283.5 179.6h1v1h-1zM285.5 179.6h1v1h-1zM287.5 179.6h1v1h-1zM229.5 180.6h1v1h-1zM248.5 180.6h1v1h-1zM281.5 180.6h1v1h-1zM284.5 180.6h1v1h-1zM285.5 180.6h1v1h-1zM287.5 180.6h1v1h-1zM289.5 180.6h1v1h-1zM226.5 181.6h1v1h-1zM230.5 181.6h1v1h-1zM237.5 181.6h1v1h-1zM248.5 181.6h1v1h-1zM279.5 181.6h1v1h-1zM226.5 182.6h1v1h-1zM228.5 182.6h1v1h-1zM230.5 182.6h1v1h-1zM242.5 182.6h1v1h-1zM287.5 182.6h1v1h-1zM228.5 183.6h1v1h-1zM230.5 183.6h1v1h-1zM238.5 183.6h1v1h-1zM241.5 183.6h1v1h-1zM251.5 183.6h1v1h-1zM225.5 184.6h1v1h-1zM235.5 184.6h1v1h-1zM236.5 184.6h1v1h-1zM240.5 184.6h1v1h-1zM241.5 184.6h1v1h-1zM242.5 184.6h1v1h-1zM227.5 185.6h1v1h-1zM229.5 185.6h1v1h-1zM235.5 185.6h1v1h-1zM238.5 185.6h1v1h-1zM240.5 185.6h1v1h-1zM281.5 185.6h1v1h-1zM227.5 186.6h1v1h-1zM232.5 186.6h1v1h-1zM237.5 186.6h1v1h-1zM241.5 186.6h1v1h-1zM243.5 186.6h1v1h-1zM248.5 186.6h1v1h-1zM252.5 186.6h1v1h-1zM227.5 187.6h1v1h-1zM233.5 187.6h1v1h-1zM234.5 187.6h1v1h-1zM237.5 187.6h1v1h-1zM243.5 187.6h1v1h-1zM244.5 187.6h1v1h-1zM235.5 188.6h1v1h-1zM236.5 188.6h1v1h-1zM241.5 188.6h1v1h-1zM244.5 188.6h1v1h-1zM245.5 188.6h1v1h-1zM250.5 188.6h1v1h-1zM235.5 189.6h1v1h-1zM242.5 189.6h1v1h-1zM223.5 190.6h1v1h-1zM224.5 190.6h1v1h-1zM230.5 190.6h1v1h-1zM232.5 190.6h1v1h-1zM238.5 190.6h1v1h-1zM241.5 190.6h1v1h-1zM251.5 190.6h1v1h-1zM247.5 191.6h1v1h-1zM226.5 192.6h1v1h-1zM237.5 192.6h1v1h-1zM238.5 192.6h1v1h-1zM256.5 192.6h1v1h-1zM238.5 193.6h1v1h-1zM230.5 194.6h1v1h-1zM239.5 194.6h1v1h-1zM241.5 194.6h1v1h-1zM239.5 195.6h1v1h-1zM243.5 195.6h1v1h-1zM237.5 196.6h1v1h-1zM242.5 196.6h1v1h-1zM227.5 197.6h1v1h-1zM251.5 197.6h1v1h-1zM244.5 199.6h1v1h-1zM244.5 201.6h1v1h-1z" fill="#2030ff"/><path d="M258.5 141.6h1v1h-1zM240.5 142.6h1v1h-1zM232.5 143.6h1v1h-1zM254.5 143.6h1v1h-1zM226.5 144.6h1v1h-1zM249.5 144.6h1v1h-1zM250.5 144.6h1v1h-1zM253.5 144.6h1v1h-1zM267.5 144.6h1v1h-1zM231.5 145.6h1v1h-1zM239.5 145.6h1v1h-1zM241.5 145.6h1v1h-1zM249.5 145.6h1v1h-1zM224.5 146.6h1v1h-1zM237.5 146.6h1v1h-1zM239.5 146.6h1v1h-1zM245.5 146.6h1v1h-1zM252.5 146.6h1v1h-1zM254.5 146.6h1v1h-1zM258.5 146.6h1v1h-1zM263.5 146.6h1v1h-1zM265.5 146.6h1v1h-1zM235.5 147.6h1v1h-1zM264.5 147.6h1v1h-1zM267.5 147.6h1v1h-1zM228.5 149.6h1v1h-1zM279.5 149.6h1v1h-1zM227.5 150.6h1v1h-1zM282.5 150.6h1v1h-1zM225.5 151.6h1v1h-1zM277.5 151.6h1v1h-1zM228.5 152.6h1v1h-1zM283.5 152.6h1v1h-1zM222.5 153.6h1v1h-1zM227.5 154.6h1v1h-1zM286.5 157.6h1v1h-1zM225.5 158.6h1v1h-1zM227.5 158.6h1v1h-1zM225.5 159.6h1v1h-1zM227.5 159.6h1v1h-1zM287.5 159.6h1v1h-1zM289.5 159.6h1v1h-1zM222.5 160.6h1v1h-1zM286.5 160.6h1v1h-1zM287.5 160.6h1v1h-1zM224.5 161.6h1v1h-1zM287.5 161.6h1v1h-1zM228.5 163.6h1v1h-1zM230.5 163.6h1v1h-1zM253.5 163.6h1v1h-1zM255.5 163.6h1v1h-1zM261.5 163.6h1v1h-1zM289.5 163.6h1v1h-1zM229.5 164.6h1v1h-1zM232.5 164.6h1v1h-1zM252.5 164.6h1v1h-1zM263.5 164.6h1v1h-1zM267.5 164.6h1v1h-1zM233.5 165.6h1v1h-1zM245.5 165.6h1v1h-1zM253.5 165.6h1v1h-1zM268.5 165.6h1v1h-1zM226.5 166.6h1v1h-1zM228.5 166.6h1v1h-1zM232.5 166.6h1v1h-1zM272.5 166.6h1v1h-1zM228.5 167.6h1v1h-1zM233.5 167.6h1v1h-1zM245.5 167.6h1v1h-1zM267.5 167.6h1v1h-1zM268.5 167.6h1v1h-1zM274.5 167.6h1v1h-1zM288.5 167.6h1v1h-1zM227.5 168.6h1v1h-1zM228.5 168.6h1v1h-1zM239.5 168.6h1v1h-1zM240.5 168.6h1v1h-1zM241.5 168.6h1v1h-1zM250.5 168.6h1v1h-1zM264.5 168.6h1v1h-1zM272.5 168.6h1v1h-1zM275.5 168.6h1v1h-1zM238.5 169.6h1v1h-1zM241.5 169.6h1v1h-1zM244.5 169.6h1v1h-1zM274.5 169.6h1v1h-1zM229.5 170.6h1v1h-1zM235.5 170.6h1v1h-1zM236.5 170.6h1v1h-1zM238.5 170.6h1v1h-1zM241.5 170.6h1v1h-1zM228.5 171.6h1v1h-1zM237.5 171.6h1v1h-1zM242.5 171.6h1v1h-1zM231.5 172.6h1v1h-1zM241.5 172.6h1v1h-1zM257.5 172.6h1v1h-1zM238.5 173.6h1v1h-1zM239.5 173.6h1v1h-1zM240.5 173.6h1v1h-1zM244.5 173.6h1v1h-1zM238.5 174.6h1v1h-1zM240.5 174.6h1v1h-1zM255.5 174.6h1v1h-1zM286.5 174.6h1v1h-1zM233.5 175.6h1v1h-1zM235.5 175.6h1v1h-1zM243.5 175.6h1v1h-1zM246.5 175.6h1v1h-1zM285.5 175.6h1v1h-1zM287.5 175.6h1v1h-1zM230.5 176.6h1v1h-1zM256.5 176.6h1v1h-1zM279.5 176.6h1v1h-1zM287.5 176.6h1v1h-1zM237.5 177.6h1v1h-1zM239.5 177.6h1v1h-1zM243.5 177.6h1v1h-1zM244.5 177.6h1v1h-1zM252.5 177.6h1v1h-1zM279.5 177.6h1v1h-1zM237.5 178.6h1v1h-1zM238.5 178.6h1v1h-1zM240.5 178.6h1v1h-1zM247.5 178.6h1v1h-1zM254.5 178.6h1v1h-1zM242.5 179.6h1v1h-1zM245.5 179.6h1v1h-1zM248.5 179.6h1v1h-1zM281.5 179.6h1v1h-1zM234.5 180.6h1v1h-1zM236.5 180.6h1v1h-1zM237.5 180.6h1v1h-1zM283.5 180.6h1v1h-1zM286.5 180.6h1v1h-1zM227.5 181.6h1v1h-1zM239.5 181.6h1v1h-1zM242.5 181.6h1v1h-1zM249.5 181.6h1v1h-1zM252.5 181.6h1v1h-1zM232.5 182.6h1v1h-1zM240.5 182.6h1v1h-1zM246.5 182.6h1v1h-1zM248.5 182.6h1v1h-1zM251.5 182.6h1v1h-1zM237.5 183.6h1v1h-1zM249.5 183.6h1v1h-1zM229.5 184.6h1v1h-1zM231.5 184.6h1v1h-1zM232.5 184.6h1v1h-1zM237.5 184.6h1v1h-1zM248.5 184.6h1v1h-1zM232.5 185.6h1v1h-1zM234.5 185.6h1v1h-1zM236.5 185.6h1v1h-1zM247.5 185.6h1v1h-1zM231.5 186.6h1v1h-1zM233.5 186.6h1v1h-1zM251.5 186.6h1v1h-1zM226.5 187.6h1v1h-1zM231.5 187.6h1v1h-1zM238.5 187.6h1v1h-1zM248.5 187.6h1v1h-1zM283.5 187.6h1v1h-1zM234.5 188.6h1v1h-1zM237.5 188.6h1v1h-1zM243.5 188.6h1v1h-1zM247.5 188.6h1v1h-1zM253.5 188.6h1v1h-1zM229.5 189.6h1v1h-1zM237.5 189.6h1v1h-1zM239.5 189.6h1v1h-1zM252.5 189.6h1v1h-1zM255.5 189.6h1v1h-1zM234.5 190.6h1v1h-1zM242.5 190.6h1v1h-1zM243.5 190.6h1v1h-1zM246.5 190.6h1v1h-1zM229.5 191.6h1v1h-1zM236.5 191.6h1v1h-1zM239.5 191.6h1v1h-1zM234.5 192.6h1v1h-1zM248.5 192.6h1v1h-1zM239.5 193.6h1v1h-1zM245.5 193.6h1v1h-1zM243.5 194.6h1v1h-1zM246.5 194.6h1v1h-1zM250.5 194.6h1v1h-1zM228.5 195.6h1v1h-1zM235.5 195.6h1v1h-1zM226.5 196.6h1v1h-1zM243.5 196.6h1v1h-1zM231.5 197.6h1v1h-1zM245.5 197.6h1v1h-1zM235.5 198.6h1v1h-1zM254.5 198.6h1v1h-1zM234.5 199.6h1v1h-1zM242.5 199.6h1v1h-1zM246.5 199.6h1v1h-1zM238.5 200.6h1v1h-1zM229.5 201.6h1v1h-1zM246.5 202.6h1v1h-1z" fill="#3848ff"/><path d="M236.5 141.6h1v1h-1zM250.5 142.6h1v1h-1zM256.5 142.6h1v1h-1zM247.5 144.6h1v1h-1zM259.5 144.6h1v1h-1zM260.5 144.6h1v1h-1zM273.5 144.6h1v1h-1zM232.5 145.6h1v1h-1zM234.5 145.6h1v1h-1zM244.5 145.6h1v1h-1zM245.5 145.6h1v1h-1zM246.5 145.6h1v1h-1zM248.5 145.6h1v1h-1zM250.5 145.6h1v1h-1zM254.5 145.6h1v1h-1zM256.5 145.6h1v1h-1zM266.5 145.6h1v1h-1zM233.5 146.6h1v1h-1zM235.5 146.6h1v1h-1zM236.5 146.6h1v1h-1zM251.5 146.6h1v1h-1zM255.5 146.6h1v1h-1zM256.5 146.6h1v1h-1zM259.5 146.6h1v1h-1zM261.5 146.6h1v1h-1zM228.5 147.6h1v1h-1zM238.5 147.6h1v1h-1zM275.5 147.6h1v1h-1zM229.5 148.6h1v1h-1zM234.5 148.6h1v1h-1zM276.5 149.6h1v1h-1zM278.5 150.6h1v1h-1zM226.5 151.6h1v1h-1zM227.5 151.6h1v1h-1zM228.5 151.6h1v1h-1zM227.5 152.6h1v1h-1zM224.5 153.6h1v1h-1zM281.5 153.6h1v1h-1zM283.5 153.6h1v1h-1zM225.5 154.6h1v1h-1zM288.5 154.6h1v1h-1zM227.5 155.6h1v1h-1zM284.5 155.6h1v1h-1zM224.5 156.6h1v1h-1zM227.5 157.6h1v1h-1zM288.5 161.6h1v1h-1zM226.5 162.6h1v1h-1zM229.5 162.6h1v1h-1zM229.5 163.6h1v1h-1zM262.5 163.6h1v1h-1zM251.5 164.6h1v1h-1zM253.5 164.6h1v1h-1zM255.5 164.6h1v1h-1zM257.5 164.6h1v1h-1zM265.5 164.6h1v1h-1zM287.5 164.6h1v1h-1zM223.5 165.6h1v1h-1zM234.5 165.6h1v1h-1zM249.5 165.6h1v1h-1zM252.5 165.6h1v1h-1zM255.5 165.6h1v1h-1zM261.5 165.6h1v1h-1zM262.5 165.6h1v1h-1zM266.5 165.6h1v1h-1zM267.5 165.6h1v1h-1zM270.5 165.6h1v1h-1zM225.5 166.6h1v1h-1zM230.5 166.6h1v1h-1zM236.5 166.6h1v1h-1zM240.5 166.6h1v1h-1zM269.5 166.6h1v1h-1zM224.5 167.6h1v1h-1zM229.5 167.6h1v1h-1zM241.5 167.6h1v1h-1zM244.5 167.6h1v1h-1zM250.5 167.6h1v1h-1zM255.5 167.6h1v1h-1zM272.5 167.6h1v1h-1zM289.5 167.6h1v1h-1zM237.5 168.6h1v1h-1zM244.5 168.6h1v1h-1zM246.5 168.6h1v1h-1zM225.5 169.6h1v1h-1zM236.5 169.6h1v1h-1zM239.5 169.6h1v1h-1zM240.5 169.6h1v1h-1zM243.5 169.6h1v1h-1zM286.5 169.6h1v1h-1zM243.5 170.6h1v1h-1zM244.5 170.6h1v1h-1zM246.5 170.6h1v1h-1zM254.5 170.6h1v1h-1zM256.5 170.6h1v1h-1zM271.5 170.6h1v1h-1zM239.5 171.6h1v1h-1zM247.5 171.6h1v1h-1zM252.5 171.6h1v1h-1zM286.5 171.6h1v1h-1zM288.5 171.6h1v1h-1zM289.5 171.6h1v1h-1zM237.5 172.6h1v1h-1zM245.5 172.6h1v1h-1zM246.5 172.6h1v1h-1zM274.5 172.6h1v1h-1zM276.5 172.6h1v1h-1zM226.5 173.6h1v1h-1zM227.5 173.6h1v1h-1zM231.5 173.6h1v1h-1zM227.5 174.6h1v1h-1zM231.5 174.6h1v1h-1zM276.5 174.6h1v1h-1zM226.5 175.6h1v1h-1zM231.5 175.6h1v1h-1zM237.5 175.6h1v1h-1zM241.5 175.6h1v1h-1zM244.5 175.6h1v1h-1zM279.5 175.6h1v1h-1zM280.5 175.6h1v1h-1zM223.5 176.6h1v1h-1zM286.5 176.6h1v1h-1zM281.5 177.6h1v1h-1zM287.5 177.6h1v1h-1zM239.5 178.6h1v1h-1zM282.5 178.6h1v1h-1zM223.5 179.6h1v1h-1zM225.5 179.6h1v1h-1zM231.5 179.6h1v1h-1zM237.5 179.6h1v1h-1zM238.5 179.6h1v1h-1zM241.5 179.6h1v1h-1zM247.5 179.6h1v1h-1zM288.5 179.6h1v1h-1zM227.5 180.6h1v1h-1zM233.5 180.6h1v1h-1zM238.5 180.6h1v1h-1zM239.5 180.6h1v1h-1zM242.5 180.6h1v1h-1zM244.5 180.6h1v1h-1zM245.5 180.6h1v1h-1zM249.5 180.6h1v1h-1zM234.5 181.6h1v1h-1zM235.5 181.6h1v1h-1zM240.5 181.6h1v1h-1zM241.5 181.6h1v1h-1zM281.5 181.6h1v1h-1zM282.5 181.6h1v1h-1zM227.5 182.6h1v1h-1zM231.5 182.6h1v1h-1zM233.5 182.6h1v1h-1zM235.5 182.6h1v1h-1zM237.5 182.6h1v1h-1zM241.5 182.6h1v1h-1zM243.5 182.6h1v1h-1zM245.5 182.6h1v1h-1zM286.5 182.6h1v1h-1zM225.5 183.6h1v1h-1zM232.5 183.6h1v1h-1zM233.5 183.6h1v1h-1zM236.5 183.6h1v1h-1zM243.5 183.6h1v1h-1zM247.5 183.6h1v1h-1zM279.5 183.6h1v1h-1zM281.5 183.6h1v1h-1zM233.5 184.6h1v1h-1zM238.5 184.6h1v1h-1zM247.5 184.6h1v1h-1zM237.5 185.6h1v1h-1zM249.5 185.6h1v1h-1zM283.5 185.6h1v1h-1zM236.5 186.6h1v1h-1zM239.5 186.6h1v1h-1zM240.5 186.6h1v1h-1zM242.5 186.6h1v1h-1zM230.5 187.6h1v1h-1zM232.5 187.6h1v1h-1zM236.5 187.6h1v1h-1zM239.5 187.6h1v1h-1zM240.5 187.6h1v1h-1zM241.5 187.6h1v1h-1zM247.5 187.6h1v1h-1zM227.5 188.6h1v1h-1zM244.5 189.6h1v1h-1zM256.5 189.6h1v1h-1zM229.5 190.6h1v1h-1zM236.5 190.6h1v1h-1zM237.5 190.6h1v1h-1zM245.5 190.6h1v1h-1zM248.5 190.6h1v1h-1zM224.5 191.6h1v1h-1zM240.5 191.6h1v1h-1zM243.5 191.6h1v1h-1zM245.5 191.6h1v1h-1zM229.5 192.6h1v1h-1zM246.5 192.6h1v1h-1zM254.5 192.6h1v1h-1zM228.5 193.6h1v1h-1zM231.5 193.6h1v1h-1zM235.5 193.6h1v1h-1zM229.5 194.6h1v1h-1zM242.5 194.6h1v1h-1zM230.5 195.6h1v1h-1zM231.5 195.6h1v1h-1zM234.5 195.6h1v1h-1zM240.5 195.6h1v1h-1zM234.5 197.6h1v1h-1zM235.5 197.6h1v1h-1zM240.5 197.6h1v1h-1zM248.5 197.6h1v1h-1zM229.5 198.6h1v1h-1zM232.5 198.6h1v1h-1zM226.5 199.6h1v1h-1zM237.5 199.6h1v1h-1zM243.5 199.6h1v1h-1zM250.5 199.6h1v1h-1zM229.5 200.6h1v1h-1zM240.5 200.6h1v1h-1zM235.5 201.6h1v1h-1zM241.5 201.6h1v1h-1zM247.5 201.6h1v1h-1zM249.5 201.6h1v1h-1zM228.5 203.6h1v1h-1z" fill="#5060ff"/><path d="M255.5 141.6h1v1h-1zM234.5 143.6h1v1h-1zM236.5 143.6h1v1h-1zM264.5 143.6h1v1h-1zM239.5 144.6h1v1h-1zM243.5 144.6h1v1h-1zM256.5 144.6h1v1h-1zM235.5 145.6h1v1h-1zM240.5 145.6h1v1h-1zM255.5 145.6h1v1h-1zM259.5 145.6h1v1h-1zM260.5 145.6h1v1h-1zM271.5 145.6h1v1h-1zM227.5 146.6h1v1h-1zM230.5 146.6h1v1h-1zM231.5 146.6h1v1h-1zM232.5 146.6h1v1h-1zM238.5 146.6h1v1h-1zM241.5 146.6h1v1h-1zM246.5 146.6h1v1h-1zM253.5 146.6h1v1h-1zM257.5 146.6h1v1h-1zM266.5 146.6h1v1h-1zM233.5 147.6h1v1h-1zM234.5 147.6h1v1h-1zM263.5 147.6h1v1h-1zM265.5 147.6h1v1h-1zM266.5 147.6h1v1h-1zM222.5 148.6h1v1h-1zM231.5 148.6h1v1h-1zM233.5 148.6h1v1h-1zM269.5 148.6h1v1h-1zM270.5 148.6h1v1h-1zM275.5 148.6h1v1h-1zM275.5 149.6h1v1h-1zM228.5 150.6h1v1h-1zM230.5 150.6h1v1h-1zM281.5 151.6h1v1h-1zM223.5 152.6h1v1h-1zM282.5 152.6h1v1h-1zM226.5 154.6h1v1h-1zM284.5 154.6h1v1h-1zM285.5 154.6h1v1h-1zM287.5 155.6h1v1h-1zM284.5 156.6h1v1h-1zM288.5 156.6h1v1h-1zM223.5 157.6h1v1h-1zM226.5 157.6h1v1h-1zM285.5 157.6h1v1h-1zM222.5 159.6h1v1h-1zM286.5 159.6h1v1h-1zM226.5 161.6h1v1h-1zM288.5 162.6h1v1h-1zM227.5 163.6h1v1h-1zM256.5 163.6h1v1h-1zM257.5 163.6h1v1h-1zM258.5 163.6h1v1h-1zM259.5 163.6h1v1h-1zM226.5 164.6h1v1h-1zM227.5 164.6h1v1h-1zM231.5 164.6h1v1h-1zM250.5 164.6h1v1h-1zM254.5 164.6h1v1h-1zM256.5 164.6h1v1h-1zM258.5 164.6h1v1h-1zM264.5 164.6h1v1h-1zM266.5 164.6h1v1h-1zM231.5 165.6h1v1h-1zM254.5 165.6h1v1h-1zM256.5 165.6h1v1h-1zM259.5 165.6h1v1h-1zM263.5 165.6h1v1h-1zM233.5 166.6h1v1h-1zM238.5 166.6h1v1h-1zM253.5 166.6h1v1h-1zM235.5 167.6h1v1h-1zM236.5 167.6h1v1h-1zM237.5 167.6h1v1h-1zM239.5 167.6h1v1h-1zM242.5 167.6h1v1h-1zM243.5 167.6h1v1h-1zM247.5 167.6h1v1h-1zM248.5 167.6h1v1h-1zM254.5 167.6h1v1h-1zM273.5 167.6h1v1h-1zM242.5 168.6h1v1h-1zM248.5 168.6h1v1h-1zM231.5 169.6h1v1h-1zM233.5 169.6h1v1h-1zM242.5 169.6h1v1h-1zM276.5 169.6h1v1h-1zM237.5 170.6h1v1h-1zM239.5 170.6h1v1h-1zM273.5 170.6h1v1h-1zM276.5 170.6h1v1h-1zM229.5 171.6h1v1h-1zM232.5 171.6h1v1h-1zM240.5 171.6h1v1h-1zM241.5 171.6h1v1h-1zM235.5 172.6h1v1h-1zM244.5 172.6h1v1h-1zM286.5 172.6h1v1h-1zM287.5 172.6h1v1h-1zM289.5 172.6h1v1h-1zM242.5 173.6h1v1h-1zM278.5 173.6h1v1h-1zM230.5 174.6h1v1h-1zM233.5 174.6h1v1h-1zM236.5 174.6h1v1h-1zM229.5 175.6h1v1h-1zM236.5 175.6h1v1h-1zM239.5 175.6h1v1h-1zM249.5 175.6h1v1h-1zM278.5 175.6h1v1h-1zM233.5 176.6h1v1h-1zM234.5 176.6h1v1h-1zM240.5 176.6h1v1h-1zM242.5 176.6h1v1h-1zM245.5 176.6h1v1h-1zM248.5 176.6h1v1h-1zM251.5 176.6h1v1h-1zM280.5 176.6h1v1h-1zM236.5 177.6h1v1h-1zM241.5 177.6h1v1h-1zM245.5 177.6h1v1h-1zM285.5 177.6h1v1h-1zM225.5 178.6h1v1h-1zM234.5 178.6h1v1h-1zM236.5 178.6h1v1h-1zM232.5 179.6h1v1h-1zM234.5 179.6h1v1h-1zM252.5 179.6h1v1h-1zM282.5 179.6h1v1h-1zM289.5 179.6h1v1h-1zM240.5 180.6h1v1h-1zM243.5 180.6h1v1h-1zM246.5 180.6h1v1h-1zM250.5 180.6h1v1h-1zM254.5 180.6h1v1h-1zM280.5 180.6h1v1h-1zM232.5 181.6h1v1h-1zM236.5 181.6h1v1h-1zM243.5 181.6h1v1h-1zM257.5 181.6h1v1h-1zM277.5 181.6h1v1h-1zM224.5 182.6h1v1h-1zM234.5 182.6h1v1h-1zM238.5 182.6h1v1h-1zM239.5 182.6h1v1h-1zM250.5 182.6h1v1h-1zM282.5 182.6h1v1h-1zM224.5 183.6h1v1h-1zM235.5 183.6h1v1h-1zM239.5 184.6h1v1h-1zM243.5 184.6h1v1h-1zM245.5 184.6h1v1h-1zM251.5 184.6h1v1h-1zM239.5 185.6h1v1h-1zM243.5 185.6h1v1h-1zM244.5 185.6h1v1h-1zM245.5 185.6h1v1h-1zM246.5 185.6h1v1h-1zM248.5 185.6h1v1h-1zM224.5 186.6h1v1h-1zM235.5 186.6h1v1h-1zM238.5 186.6h1v1h-1zM244.5 186.6h1v1h-1zM285.5 186.6h1v1h-1zM245.5 187.6h1v1h-1zM253.5 187.6h1v1h-1zM228.5 188.6h1v1h-1zM232.5 188.6h1v1h-1zM238.5 188.6h1v1h-1zM239.5 188.6h1v1h-1zM242.5 188.6h1v1h-1zM224.5 189.6h1v1h-1zM227.5 189.6h1v1h-1zM233.5 189.6h1v1h-1zM234.5 189.6h1v1h-1zM240.5 189.6h1v1h-1zM239.5 190.6h1v1h-1zM240.5 190.6h1v1h-1zM256.5 190.6h1v1h-1zM222.5 191.6h1v1h-1zM225.5 191.6h1v1h-1zM235.5 191.6h1v1h-1zM237.5 191.6h1v1h-1zM238.5 191.6h1v1h-1zM242.5 191.6h1v1h-1zM249.5 191.6h1v1h-1zM227.5 192.6h1v1h-1zM231.5 192.6h1v1h-1zM235.5 192.6h1v1h-1zM236.5 192.6h1v1h-1zM239.5 192.6h1v1h-1zM242.5 192.6h1v1h-1zM223.5 193.6h1v1h-1zM225.5 193.6h1v1h-1zM232.5 193.6h1v1h-1zM234.5 193.6h1v1h-1zM237.5 193.6h1v1h-1zM243.5 193.6h1v1h-1zM244.5 193.6h1v1h-1zM252.5 194.6h1v1h-1zM254.5 194.6h1v1h-1zM227.5 195.6h1v1h-1zM237.5 195.6h1v1h-1zM229.5 196.6h1v1h-1zM235.5 196.6h1v1h-1zM239.5 196.6h1v1h-1zM233.5 197.6h1v1h-1zM237.5 197.6h1v1h-1zM244.5 197.6h1v1h-1zM231.5 198.6h1v1h-1zM239.5 198.6h1v1h-1zM230.5 199.6h1v1h-1zM239.5 199.6h1v1h-1zM241.5 200.6h1v1h-1zM236.5 202.6h1v1h-1zM236.5 203.6h1v1h-1z" fill="#1848f0"/><path d="M243.5 140.6h1v1h-1zM244.5 140.6h1v1h-1zM251.5 141.6h1v1h-1zM231.5 143.6h1v1h-1zM239.5 143.6h1v1h-1zM240.5 143.6h1v1h-1zM242.5 143.6h1v1h-1zM247.5 143.6h1v1h-1zM259.5 143.6h1v1h-1zM240.5 144.6h1v1h-1zM245.5 144.6h1v1h-1zM248.5 144.6h1v1h-1zM255.5 144.6h1v1h-1zM261.5 144.6h1v1h-1zM242.5 145.6h1v1h-1zM247.5 145.6h1v1h-1zM267.5 145.6h1v1h-1zM273.5 145.6h1v1h-1zM276.5 145.6h1v1h-1zM242.5 146.6h1v1h-1zM243.5 146.6h1v1h-1zM248.5 146.6h1v1h-1zM250.5 146.6h1v1h-1zM260.5 146.6h1v1h-1zM264.5 146.6h1v1h-1zM267.5 146.6h1v1h-1zM271.5 146.6h1v1h-1zM278.5 146.6h1v1h-1zM227.5 147.6h1v1h-1zM269.5 147.6h1v1h-1zM273.5 147.6h1v1h-1zM277.5 147.6h1v1h-1zM223.5 148.6h1v1h-1zM227.5 148.6h1v1h-1zM271.5 148.6h1v1h-1zM279.5 148.6h1v1h-1zM232.5 149.6h1v1h-1zM273.5 149.6h1v1h-1zM225.5 150.6h1v1h-1zM226.5 150.6h1v1h-1zM275.5 150.6h1v1h-1zM277.5 150.6h1v1h-1zM280.5 150.6h1v1h-1zM284.5 150.6h1v1h-1zM229.5 151.6h1v1h-1zM278.5 151.6h1v1h-1zM226.5 152.6h1v1h-1zM279.5 152.6h1v1h-1zM226.5 153.6h1v1h-1zM227.5 153.6h1v1h-1zM282.5 153.6h1v1h-1zM284.5 153.6h1v1h-1zM283.5 154.6h1v1h-1zM224.5 155.6h1v1h-1zM225.5 155.6h1v1h-1zM226.5 155.6h1v1h-1zM222.5 156.6h1v1h-1zM226.5 156.6h1v1h-1zM227.5 156.6h1v1h-1zM287.5 157.6h1v1h-1zM226.5 158.6h1v1h-1zM223.5 159.6h1v1h-1zM226.5 159.6h1v1h-1zM225.5 160.6h1v1h-1zM227.5 160.6h1v1h-1zM289.5 160.6h1v1h-1zM227.5 161.6h1v1h-1zM286.5 161.6h1v1h-1zM223.5 162.6h1v1h-1zM227.5 162.6h1v1h-1zM286.5 162.6h1v1h-1zM226.5 163.6h1v1h-1zM260.5 163.6h1v1h-1zM264.5 163.6h1v1h-1zM225.5 164.6h1v1h-1zM259.5 164.6h1v1h-1zM262.5 164.6h1v1h-1zM268.5 164.6h1v1h-1zM288.5 164.6h1v1h-1zM289.5 164.6h1v1h-1zM247.5 165.6h1v1h-1zM248.5 165.6h1v1h-1zM265.5 165.6h1v1h-1zM224.5 166.6h1v1h-1zM227.5 166.6h1v1h-1zM231.5 166.6h1v1h-1zM234.5 166.6h1v1h-1zM237.5 166.6h1v1h-1zM241.5 166.6h1v1h-1zM242.5 166.6h1v1h-1zM244.5 166.6h1v1h-1zM245.5 166.6h1v1h-1zM246.5 166.6h1v1h-1zM247.5 166.6h1v1h-1zM249.5 166.6h1v1h-1zM252.5 166.6h1v1h-1zM255.5 166.6h1v1h-1zM257.5 166.6h1v1h-1zM266.5 166.6h1v1h-1zM270.5 166.6h1v1h-1zM287.5 166.6h1v1h-1zM240.5 167.6h1v1h-1zM251.5 167.6h1v1h-1zM269.5 167.6h1v1h-1zM271.5 167.6h1v1h-1zM229.5 168.6h1v1h-1zM231.5 168.6h1v1h-1zM233.5 168.6h1v1h-1zM235.5 168.6h1v1h-1zM236.5 168.6h1v1h-1zM243.5 168.6h1v1h-1zM232.5 169.6h1v1h-1zM237.5 169.6h1v1h-1zM275.5 169.6h1v1h-1zM287.5 169.6h1v1h-1zM232.5 170.6h1v1h-1zM233.5 170.6h1v1h-1zM234.5 170.6h1v1h-1zM242.5 170.6h1v1h-1zM247.5 170.6h1v1h-1zM274.5 170.6h1v1h-1zM287.5 170.6h1v1h-1zM233.5 171.6h1v1h-1zM236.5 171.6h1v1h-1zM255.5 171.6h1v1h-1zM229.5 172.6h1v1h-1zM236.5 172.6h1v1h-1zM238.5 172.6h1v1h-1zM239.5 172.6h1v1h-1zM247.5 172.6h1v1h-1zM249.5 172.6h1v1h-1zM250.5 172.6h1v1h-1zM253.5 172.6h1v1h-1zM241.5 173.6h1v1h-1zM243.5 173.6h1v1h-1zM245.5 173.6h1v1h-1zM246.5 173.6h1v1h-1zM279.5 173.6h1v1h-1zM286.5 173.6h1v1h-1zM241.5 174.6h1v1h-1zM242.5 174.6h1v1h-1zM243.5 174.6h1v1h-1zM252.5 174.6h1v1h-1zM279.5 174.6h1v1h-1zM289.5 174.6h1v1h-1zM224.5 175.6h1v1h-1zM240.5 175.6h1v1h-1zM247.5 175.6h1v1h-1zM286.5 175.6h1v1h-1zM227.5 176.6h1v1h-1zM239.5 176.6h1v1h-1zM275.5 176.6h1v1h-1zM285.5 176.6h1v1h-1zM288.5 176.6h1v1h-1zM228.5 177.6h1v1h-1zM233.5 177.6h1v1h-1zM234.5 177.6h1v1h-1zM235.5 177.6h1v1h-1zM238.5 177.6h1v1h-1zM253.5 177.6h1v1h-1zM235.5 178.6h1v1h-1zM242.5 178.6h1v1h-1zM244.5 178.6h1v1h-1zM279.5 178.6h1v1h-1zM280.5 178.6h1v1h-1zM284.5 178.6h1v1h-1zM285.5 178.6h1v1h-1zM227.5 179.6h1v1h-1zM235.5 179.6h1v1h-1zM240.5 179.6h1v1h-1zM280.5 179.6h1v1h-1zM284.5 179.6h1v1h-1zM286.5 179.6h1v1h-1zM232.5 180.6h1v1h-1zM241.5 180.6h1v1h-1zM282.5 180.6h1v1h-1zM229.5 181.6h1v1h-1zM244.5 181.6h1v1h-1zM245.5 181.6h1v1h-1zM283.5 181.6h1v1h-1zM285.5 181.6h1v1h-1zM236.5 182.6h1v1h-1zM244.5 182.6h1v1h-1zM249.5 182.6h1v1h-1zM226.5 183.6h1v1h-1zM234.5 183.6h1v1h-1zM240.5 183.6h1v1h-1zM242.5 183.6h1v1h-1zM245.5 183.6h1v1h-1zM246.5 183.6h1v1h-1zM250.5 183.6h1v1h-1zM249.5 184.6h1v1h-1zM252.5 184.6h1v1h-1zM242.5 185.6h1v1h-1zM251.5 185.6h1v1h-1zM255.5 185.6h1v1h-1zM229.5 186.6h1v1h-1zM234.5 186.6h1v1h-1zM249.5 186.6h1v1h-1zM235.5 187.6h1v1h-1zM242.5 187.6h1v1h-1zM249.5 187.6h1v1h-1zM230.5 188.6h1v1h-1zM233.5 188.6h1v1h-1zM240.5 188.6h1v1h-1zM246.5 188.6h1v1h-1zM226.5 189.6h1v1h-1zM230.5 189.6h1v1h-1zM231.5 189.6h1v1h-1zM236.5 189.6h1v1h-1zM238.5 189.6h1v1h-1zM249.5 189.6h1v1h-1zM244.5 190.6h1v1h-1zM254.5 190.6h1v1h-1zM231.5 191.6h1v1h-1zM232.5 191.6h1v1h-1zM241.5 191.6h1v1h-1zM250.5 191.6h1v1h-1zM253.5 191.6h1v1h-1zM230.5 192.6h1v1h-1zM232.5 192.6h1v1h-1zM233.5 192.6h1v1h-1zM240.5 192.6h1v1h-1zM241.5 192.6h1v1h-1zM243.5 192.6h1v1h-1zM251.5 192.6h1v1h-1zM241.5 193.6h1v1h-1zM247.5 193.6h1v1h-1zM249.5 193.6h1v1h-1zM250.5 193.6h1v1h-1zM237.5 194.6h1v1h-1zM244.5 194.6h1v1h-1zM245.5 194.6h1v1h-1zM229.5 195.6h1v1h-1zM238.5 195.6h1v1h-1zM242.5 195.6h1v1h-1zM232.5 196.6h1v1h-1zM234.5 196.6h1v1h-1zM244.5 196.6h1v1h-1zM245.5 196.6h1v1h-1zM232.5 197.6h1v1h-1zM236.5 197.6h1v1h-1zM239.5 197.6h1v1h-1zM253.5 197.6h1v1h-1zM233.5 198.6h1v1h-1zM236.5 198.6h1v1h-1zM241.5 198.6h1v1h-1zM242.5 198.6h1v1h-1zM245.5 198.6h1v1h-1zM248.5 198.6h1v1h-1zM228.5 199.6h1v1h-1zM235.5 199.6h1v1h-1zM240.5 199.6h1v1h-1zM232.5 200.6h1v1h-1zM236.5 200.6h1v1h-1zM237.5 200.6h1v1h-1zM231.5 201.6h1v1h-1zM240.5 201.6h1v1h-1zM242.5 201.6h1v1h-1zM227.5 202.6h1v1h-1zM237.5 202.6h1v1h-1zM248.5 202.6h1v1h-1zM235.5 203.6h1v1h-1zM238.5 203.6h1v1h-1z" fill="#7080ff"/><path d="M227.33 155.1L227 158.1L227.67 160.43L228.67 162.1L231.67 165.1L236.67 167.77L241.67 168.1L252.33 164.77L257.67 163.77L265.67 164.1L269.33 165.43L274.67 168.1L277 170.43L280 174.43L282.33 179.43L283.67 180.43L285 180.1L286 178.43L286.67 175.43L287 170.43L287.33 170.1L287.33 163.1L286.67 160.43L284.67 156.43L282 153.77L276.67 151.1L270 148.77L265 147.77L256.33 147.43L256 147.1L252.67 147.1L252.33 146.77L244 146.77L243.67 147.1L237.67 147.77L234.33 148.77L230.67 150.77L228.33 153.1Z" fill="#2a3cff" fill-rule="evenodd"/><path d="M231 155.43L230.67 158.1L231.67 160.43L233.33 162.1L236.33 163.77L239.33 164.43L243.33 164.43L243.67 164.1L246.33 164.1L256.33 162.1L265 162.1L269.33 163.43L275.67 166.77L278 169.1L279 170.77L283 174.43L283.67 174.43L284.33 173.77L285.67 170.43L286 164.1L285 160.43L283 156.77L280.67 154.77L278 153.43L272.33 151.77L269.33 150.43L264.67 149.43L255.67 149.1L255.33 148.77L251.33 148.77L251 148.43L243.67 148.77L239 149.77L235.33 151.1L233.67 152.1L231.67 154.1Z" fill="#1c88ff" fill-rule="evenodd"/><path d="M234 156.1L234 158.1L234.67 159.43L238.33 161.77L244 162.43L244.33 162.1L248.33 162.1L248.67 161.77L253 161.43L255.33 160.77L260 160.77L260.33 160.43L261.33 160.77L266 160.77L267.67 161.1L272.67 164.1L276.33 165.77L278.33 167.43L280.67 170.43L282 171.1L283 171.1L284.67 168.77L284.67 163.77L284 161.1L282.33 157.77L280.67 156.1L278.33 154.77L273.67 153.77L267.67 151.43L264.33 150.77L261 150.77L260.67 150.43L245 150.1L240.67 151.1L237 152.77L234.67 154.77Z" fill="#12d0e8" fill-rule="evenodd"/><path d="M237.67 156.1L237.67 157.43L239 159.1L243 160.43L249.67 160.43L250 160.1L257 159.43L257.33 159.1L266 159.1L266.33 159.43L268 159.43L270.33 160.77L273 163.1L278.67 165.77L281.33 168.43L282.33 168.43L283.33 167.1L283.33 163.77L282 159.1L280 156.77L277 155.43L271.33 154.77L265.33 152.43L254 151.77L253.67 151.43L246.33 151.43L242.33 152.43L239.67 153.77Z" fill="#3ae054" fill-rule="evenodd"/><path d="M270.67 157.43L270.67 158.43L271.67 160.43L273.67 162.43L280 164.77L281.33 164.43L281.67 163.43L281.33 160.1L280.67 158.77L279 157.1L277.33 156.43L272.67 156.43ZM242 156.77L243.33 158.1L245.67 158.77L250.33 158.77L257 157.43L264.33 157.43L267 156.77L267.33 156.1L266 154.77L262.67 153.77L258 153.77L257.67 153.43L254.67 153.43L251.33 152.77L248.33 152.77L243.67 154.1L242 155.77Z" fill="#b4f014" fill-rule="evenodd"/><path d="M272.67 158.43L273 160.43L274.67 162.1L277 163.1L279.67 163.1L280.33 162.43L280.67 161.43L280.33 159.77L278.67 157.77L277 157.1L274.67 157.1L273.67 157.43ZM247 155.43L247 156.1L248 156.77L250.33 156.77L252.67 155.77L252.67 155.43L251 154.77L248.33 154.77Z" fill="#ffe400" fill-rule="evenodd"/><path d="M274.33 158.43L274 160.1L275 161.43L276.33 162.1L278.67 162.1L279.33 161.43L279.33 159.77L278.33 158.43L277.67 158.1Z" fill="#ff8c00" fill-rule="evenodd"/><path d="M275.33 159.43L275.67 160.77L276.33 161.1L278 161.1L278.33 160.43L277.67 159.1L276.33 158.77Z" fill="#ff2800" fill-rule="evenodd"/><path d="M291.5 160.29h.9v.9h-.9zM295.82 158.17h.9v.9h-.9zM281.68 139.33h.9v.9h-.9zM273.75 174.11h.9v.9h-.9zM259.55 181.54h.9v.9h-.9zM275.32 140.48h.9v.9h-.9zM260.28 189.55h.9v.9h-.9zM259.73 170.47h.9v.9h-.9zM263.64 169.37h.9v.9h-.9zM276.19 144.39h.9v.9h-.9zM241.45 139.99h.9v.9h-.9zM260.62 173.49h.9v.9h-.9zM298.37 152.93h.9v.9h-.9zM274.08 177.23h.9v.9h-.9zM259.84 182.1h.9v.9h-.9zM263.9 173h.9v.9h-.9zM247.58 140.41h.9v.9h-.9zM256.67 172.38h.9v.9h-.9zM287.04 185.8h.9v.9h-.9zM271.58 173.36h.9v.9h-.9zM259.76 187.98h.9v.9h-.9zM269.17 171.82h.9v.9h-.9zM278.3 147.34h.9v.9h-.9zM273.55 177.36h.9v.9h-.9zM291.22 170.75h.9v.9h-.9zM248.09 141.56h.9v.9h-.9zM246.31 141.63h.9v.9h-.9zM259 142.17h.9v.9h-.9zM257.27 199.45h.9v.9h-.9zM251.63 141.26h.9v.9h-.9zM295.19 150.99h.9v.9h-.9zM253.04 142.33h.9v.9h-.9zM275.56 179.77h.9v.9h-.9zM263.33 179.93h.9v.9h-.9zM257.58 190.89h.9v.9h-.9zM270.11 170.28h.9v.9h-.9zM251.45 141.03h.9v.9h-.9zM270.73 137.1h.9v.9h-.9zM272.12 139.29h.9v.9h-.9zM288.85 150.07h.9v.9h-.9zM240.3 139.05h.9v.9h-.9zM295.87 164.38h.9v.9h-.9zM245.7 136.39h.9v.9h-.9zM303.54 170.76h.9v.9h-.9zM259.49 143.19h.9v.9h-.9zM261.79 167.97h.9v.9h-.9zM276.27 142.33h.9v.9h-.9zM263.06 134.86h.9v.9h-.9zM263.33 199.2h.9v.9h-.9zM249.07 139.68h.9v.9h-.9zM259.24 179.7h.9v.9h-.9zM248.78 142.53h.9v.9h-.9zM231.88 142.33h.9v.9h-.9zM226.46 125.68h.9v.9h-.9zM265.64 179.5h.9v.9h-.9zM263.8 170.92h.9v.9h-.9zM281.83 186.87h.9v.9h-.9zM283.12 144.26h.9v.9h-.9zM262.18 184.01h.9v.9h-.9zM289.59 181.05h.9v.9h-.9zM245.11 140.94h.9v.9h-.9zM272.85 142.46h.9v.9h-.9zM226.53 197.88h.9v.9h-.9zM263.17 170.16h.9v.9h-.9zM224.4 140.78h.9v.9h-.9zM236.91 140.79h.9v.9h-.9zM270.84 172.32h.9v.9h-.9zM266.2 143.68h.9v.9h-.9zM285.43 146.37h.9v.9h-.9zM261.61 169.07h.9v.9h-.9zM231.93 132.34h.9v.9h-.9zM251.87 137.61h.9v.9h-.9zM228.91 140.76h.9v.9h-.9zM259.44 168.3h.9v.9h-.9zM262.22 173.26h.9v.9h-.9zM289.54 154.47h.9v.9h-.9zM236.08 134.9h.9v.9h-.9zM234.71 141.32h.9v.9h-.9zM270.08 180.05h.9v.9h-.9zM262.73 176.95h.9v.9h-.9zM260.9 143.84h.9v.9h-.9zM290.43 176.35h.9v.9h-.9zM266.7 143.34h.9v.9h-.9zM277 182.87h.9v.9h-.9zM224.02 171.55h.9v.9h-.9zM270.8 141.09h.9v.9h-.9zM288.99 149.9h.9v.9h-.9zM274.09 144.77h.9v.9h-.9zM293.05 176.86h.9v.9h-.9zM291.04 157.06h.9v.9h-.9zM252.59 200.43h.9v.9h-.9zM250.21 142.36h.9v.9h-.9zM266.07 171.08h.9v.9h-.9zM305.7 162.76h.9v.9h-.9zM268.85 174.58h.9v.9h-.9zM291.07 156.02h.9v.9h-.9zM281.14 142.66h.9v.9h-.9zM278.1 181.05h.9v.9h-.9zM241.1 139.62h.9v.9h-.9zM269.78 174.6h.9v.9h-.9zM228.87 142.26h.9v.9h-.9zM269.83 144.52h.9v.9h-.9zM273.79 134.6h.9v.9h-.9zM243.83 141.4h.9v.9h-.9zM269.15 170.52h.9v.9h-.9zM263.97 169.48h.9v.9h-.9zM235.25 139.42h.9v.9h-.9zM296.46 149.05h.9v.9h-.9zM264.74 143.12h.9v.9h-.9zM290.28 156.87h.9v.9h-.9zM293.38 166.3h.9v.9h-.9zM272.56 177.68h.9v.9h-.9zM290.44 181.46h.9v.9h-.9zM285.91 151.88h.9v.9h-.9zM285.72 145.8h.9v.9h-.9zM265.38 139.99h.9v.9h-.9zM275.12 187.53h.9v.9h-.9zM299.22 161.28h.9v.9h-.9zM270.8 175.65h.9v.9h-.9zM230.04 134.52h.9v.9h-.9zM228.18 144.82h.9v.9h-.9zM274.12 175.34h.9v.9h-.9zM294.79 153.16h.9v.9h-.9zM274 173.35h.9v.9h-.9zM290.38 188h.9v.9h-.9zM289.2 147.81h.9v.9h-.9zM260.71 142.94h.9v.9h-.9zM255.96 140.04h.9v.9h-.9zM241.68 139.03h.9v.9h-.9zM293.14 164.04h.9v.9h-.9zM242.79 142.5h.9v.9h-.9zM236.5 140.82h.9v.9h-.9zM270.39 142.04h.9v.9h-.9zM288.34 153.79h.9v.9h-.9zM254.22 138.19h.9v.9h-.9zM264.84 187.84h.9v.9h-.9zM292.8 173.78h.9v.9h-.9zM287.96 135.28h.9v.9h-.9zM230.7 143.76h.9v.9h-.9zM254.87 139.66h.9v.9h-.9zM261.02 168.21h.9v.9h-.9zM305.59 168.67h.9v.9h-.9zM266.07 171.3h.9v.9h-.9zM256.85 137.46h.9v.9h-.9zM289.57 155.37h.9v.9h-.9zM228.61 144.05h.9v.9h-.9zM290.15 197.34h.9v.9h-.9zM295.9 147.03h.9v.9h-.9zM254.42 136.27h.9v.9h-.9zM287.43 151.13h.9v.9h-.9zM262.55 141.91h.9v.9h-.9zM285.64 202.92h.9v.9h-.9zM290.25 153.8h.9v.9h-.9zM270.53 142.21h.9v.9h-.9zM232.5 141.97h.9v.9h-.9zM295.82 166.99h.9v.9h-.9zM265.74 170.59h.9v.9h-.9zM257.67 179.04h.9v.9h-.9zM294.71 152.03h.9v.9h-.9zM267.89 179.38h.9v.9h-.9zM275.93 176.37h.9v.9h-.9zM293.01 168.6h.9v.9h-.9zM249.22 133.72h.9v.9h-.9zM231.31 134.6h.9v.9h-.9zM254.95 177.43h.9v.9h-.9zM257.62 202.96h.9v.9h-.9zM290.69 153.84h.9v.9h-.9zM242.89 138.99h.9v.9h-.9zM256.23 139.87h.9v.9h-.9zM244.08 138.74h.9v.9h-.9zM257.3 142.14h.9v.9h-.9zM258.53 139.53h.9v.9h-.9zM293.26 139.63h.9v.9h-.9zM274.66 175.85h.9v.9h-.9zM267.93 143.44h.9v.9h-.9zM271.05 142.1h.9v.9h-.9zM235.47 142.55h.9v.9h-.9zM290.78 159.67h.9v.9h-.9zM276.56 176.53h.9v.9h-.9zM289.48 154.68h.9v.9h-.9zM265.85 143.66h.9v.9h-.9zM281.13 147.81h.9v.9h-.9zM224.64 201.6h.9v.9h-.9zM275.04 177.17h.9v.9h-.9zM267.01 170.67h.9v.9h-.9zM241.06 142.54h.9v.9h-.9zM254.32 141.73h.9v.9h-.9zM289.2 147.16h.9v.9h-.9zM290.44 170.75h.9v.9h-.9zM287.07 149.89h.9v.9h-.9zM240.77 140.7h.9v.9h-.9zM294.47 155.94h.9v.9h-.9zM299.55 167.07h.9v.9h-.9zM255.06 173.05h.9v.9h-.9zM259.7 192.66h.9v.9h-.9zM277.38 196.3h.9v.9h-.9zM255.18 176.82h.9v.9h-.9zM223.73 139.93h.9v.9h-.9zM270.08 137.8h.9v.9h-.9zM290.53 170.37h.9v.9h-.9zM235.13 142.51h.9v.9h-.9zM235.18 142.65h.9v.9h-.9zM269.08 141.1h.9v.9h-.9zM263.92 169.41h.9v.9h-.9zM272.55 173h.9v.9h-.9zM283.54 147.73h.9v.9h-.9zM291.18 159.87h.9v.9h-.9zM290.31 153.96h.9v.9h-.9zM256.88 182h.9v.9h-.9zM284.68 149.89h.9v.9h-.9zM267.79 144.27h.9v.9h-.9zM236.27 141.92h.9v.9h-.9zM224.17 146.84h.9v.9h-.9zM246.59 202.4h.9v.9h-.9zM272.26 171.9h.9v.9h-.9zM267.21 171.09h.9v.9h-.9zM243.23 137.45h.9v.9h-.9zM267.76 171.44h.9v.9h-.9zM228.97 141.82h.9v.9h-.9zM248.12 141.45h.9v.9h-.9zM279.36 191.64h.9v.9h-.9zM291.22 167.85h.9v.9h-.9zM306.26 177.73h.9v.9h-.9zM293.58 167.3h.9v.9h-.9zM244.8 141h.9v.9h-.9zM272.21 182.16h.9v.9h-.9zM275.26 142.14h.9v.9h-.9zM251.43 203.37h.9v.9h-.9zM289.38 143.48h.9v.9h-.9zM292.05 155.02h.9v.9h-.9zM291.38 168.36h.9v.9h-.9zM270.36 140.51h.9v.9h-.9zM265.71 172.24h.9v.9h-.9zM277.5 146.58h.9v.9h-.9zM278.73 143.15h.9v.9h-.9zM270.61 173.02h.9v.9h-.9zM258.61 143.23h.9v.9h-.9zM276.8 145.09h.9v.9h-.9zM239.78 141.75h.9v.9h-.9zM277.94 187.5h.9v.9h-.9zM236.64 141.67h.9v.9h-.9zM292.07 174.69h.9v.9h-.9zM255.98 142.17h.9v.9h-.9zM264.45 129.73h.9v.9h-.9zM227.05 199.83h.9v.9h-.9zM289.53 186.42h.9v.9h-.9zM269.41 171.88h.9v.9h-.9zM242.32 139.01h.9v.9h-.9zM293.76 171.66h.9v.9h-.9zM272.56 140.74h.9v.9h-.9zM254.16 179.53h.9v.9h-.9zM258.03 166.18h.9v.9h-.9zM257.04 183.64h.9v.9h-.9zM268.35 181.5h.9v.9h-.9zM263.95 179.81h.9v.9h-.9zM259.51 189.13h.9v.9h-.9zM263.08 180.27h.9v.9h-.9zM267.91 166.87h.9v.9h-.9zM259.45 185.93h.9v.9h-.9zM261.1 173.36h.9v.9h-.9zM271.29 178.62h.9v.9h-.9zM269.42 188.94h.9v.9h-.9zM264.14 163.87h.9v.9h-.9zM265.61 189.69h.9v.9h-.9zM267.53 194.73h.9v.9h-.9zM253.91 186.76h.9v.9h-.9zM256.99 176.88h.9v.9h-.9zM265.57 167.46h.9v.9h-.9zM269.91 177.53h.9v.9h-.9zM261.56 191.19h.9v.9h-.9zM254.1 173.77h.9v.9h-.9zM257.94 166.83h.9v.9h-.9zM253.98 192.38h.9v.9h-.9zM255.42 177.55h.9v.9h-.9zM261.05 169.13h.9v.9h-.9zM259.34 187.08h.9v.9h-.9zM253.62 171.1h.9v.9h-.9zM266.72 168.99h.9v.9h-.9zM268.62 173.31h.9v.9h-.9zM268.92 194.26h.9v.9h-.9zM259.53 174.54h.9v.9h-.9zM263.16 165.67h.9v.9h-.9zM262.69 190.47h.9v.9h-.9zM265.11 191.41h.9v.9h-.9zM256.37 194.07h.9v.9h-.9zM244.41 159.03h.9v.9h-.9zM290.26 171.55h.9v.9h-.9zM261.85 170.62h.9v.9h-.9zM277.08 156.23h.9v.9h-.9zM246.45 159.26h.9v.9h-.9zM279.31 197.52h.9v.9h-.9zM242.89 179.42h.9v.9h-.9zM270.5 164.94h.9v.9h-.9zM265.36 186.93h.9v.9h-.9zM286.43 186.06h.9v.9h-.9zM273.7 175.99h.9v.9h-.9zM258.16 153.96h.9v.9h-.9zM263.67 193.33h.9v.9h-.9zM246.76 193.75h.9v.9h-.9zM265.7 150.09h.9v.9h-.9zM259.43 195.43h.9v.9h-.9zM243.03 183.5h.9v.9h-.9zM284.02 191.43h.9v.9h-.9zM271.01 150.26h.9v.9h-.9zM238.24 164.56h.9v.9h-.9zM287.53 160.5h.9v.9h-.9zM253.07 155.92h.9v.9h-.9zM249.95 182.31h.9v.9h-.9zM288.88 170.1h.9v.9h-.9zM257.6 192.51h.9v.9h-.9zM265.97 155.15h.9v.9h-.9zM252.61 181.57h.9v.9h-.9zM264.2 174.38h.9v.9h-.9zM255.66 151.14h.9v.9h-.9zM247.35 189.67h.9v.9h-.9z" fill="#4858ff" fill-opacity=".6"/></g>
<path d="M227.3 139.5H297V162H227.3ZM253.6 139.5V198.8M273.7 139.5V162M227.3 162V198.8H253.6M273.7 162V197.2H297V162" stroke="#111" stroke-width="1.6" fill="none"/>
<path d="M234.4 205.3v2M242.7 205.3v2M262.9 205.3v2M282 205.3v2M300.4 205.3v2M225.5 205.6v1.2M229 205.6v1.2M232.5 205.6v1.2M236 205.6v1.2M239.5 205.6v1.2M243 205.6v1.2M246.5 205.6v1.2M250 205.6v1.2M253.5 205.6v1.2M257 205.6v1.2M260.5 205.6v1.2M264 205.6v1.2M267.5 205.6v1.2M271 205.6v1.2M274.5 205.6v1.2M278 205.6v1.2M281.5 205.6v1.2M285 205.6v1.2M288.5 205.6v1.2M292 205.6v1.2M295.5 205.6v1.2M299 205.6v1.2M302.5 205.6v1.2M306 205.6v1.2" stroke="#888" stroke-width=".5" fill="none"/>
<text x="234.4" y="214.2" font-size="5.6" text-anchor="middle" fill="#444">0</text>
<text x="242.7" y="214.2" font-size="5.6" text-anchor="middle" fill="#444">10²</text>
<text x="262.9" y="214.2" font-size="5.6" text-anchor="middle" fill="#444">10³</text>
<text x="282" y="214.2" font-size="5.6" text-anchor="middle" fill="#444">10⁴</text>
<text x="300.4" y="214.2" font-size="5.6" text-anchor="middle" fill="#444">10⁵</text>
<text x="47.8" y="47" font-size="16.8" textLength="16.2" lengthAdjust="spacingAndGlyphs">S1</text>
<text x="73.1" y="47" font-size="16.8" textLength="18" lengthAdjust="spacingAndGlyphs">S2</text>
<text x="99" y="47" font-size="16.8" textLength="18.6" lengthAdjust="spacingAndGlyphs">S3</text>
<text x="49.3" y="94" font-size="16.8" textLength="20.2" lengthAdjust="spacingAndGlyphs">S0</text>
<text x="89.6" y="94" font-size="16.8" textLength="30.6" lengthAdjust="spacingAndGlyphs">S4-5</text>
<text x="278.2" y="44.9" font-size="17" textLength="26.6" lengthAdjust="spacingAndGlyphs">WT</text>
<text x="264.6" y="134" font-size="17.5" textLength="40.4" lengthAdjust="spacingAndGlyphs">Stat5</text>
<text x="305.5" y="128.2" font-size="8.5" textLength="9" lengthAdjust="spacingAndGlyphs">-/-</text>
<text transform="translate(26.3 136) rotate(-90)" font-size="20" textLength="49.4" lengthAdjust="spacingAndGlyphs">CD71</text>
<text x="146.6" y="231.8" font-size="20.5" textLength="60.8" lengthAdjust="spacingAndGlyphs">Ter119</text>
<text x="331.8" y="18.9" font-size="17.8" font-weight="bold">B</text>
<rect x="452.3" y="10.8" width="12" height="12" fill="#1010e0" stroke="none" stroke-width="1"/>
<rect x="452.3" y="26.4" width="12" height="11.8" fill="#f03018" stroke="none" stroke-width="1"/>
<text x="468.3" y="22.4" font-size="15.8" textLength="25.8" lengthAdjust="spacingAndGlyphs">WT</text>
<text x="468.3" y="37.8" font-size="15.8" textLength="38" lengthAdjust="spacingAndGlyphs">Stat5</text>
<text x="505.6" y="31.3" font-size="8" textLength="9.6" lengthAdjust="spacingAndGlyphs">-/-</text>
<text transform="translate(357.9 184.2) rotate(-90)" font-size="20" textLength="131.2" lengthAdjust="spacingAndGlyphs">Cell frequency</text>
<text transform="translate(357.2 47.3) rotate(-90)" font-size="12" textLength="18.6" lengthAdjust="spacingAndGlyphs">(%)</text>
<text x="388.7" y="25.7" font-size="16.4" textLength="18.4" lengthAdjust="spacingAndGlyphs">S1</text>
<text x="383.6" y="111.8" font-size="12.8" text-anchor="end" textLength="7.1" lengthAdjust="spacingAndGlyphs">0</text>
<text x="383.6" y="93.2" font-size="12.8" text-anchor="end" textLength="14.2" lengthAdjust="spacingAndGlyphs">10</text>
<text x="383.6" y="74.6" font-size="12.8" text-anchor="end" textLength="14.2" lengthAdjust="spacingAndGlyphs">20</text>
<text x="383.6" y="56" font-size="12.8" text-anchor="end" textLength="14.2" lengthAdjust="spacingAndGlyphs">30</text>
<text x="383.6" y="37.4" font-size="12.8" text-anchor="end" textLength="14.2" lengthAdjust="spacingAndGlyphs">40</text>
<path d="M387.2 24.2V107.2H476M387.2 107.2h-2.5M387.2 88.6h-2.5M387.2 70h-2.5M387.2 51.4h-2.5M387.2 32.8h-2.5M409.3 107.2v2.5M431.2 107.2v2.5M453.4 107.2v2.5M475.5 107.2v2.5" stroke="#8a8a8a" stroke-width="1.1" fill="none"/>
<path d="M398.8 37.64v13.02M397.8 37.64h2M397.8 50.66h2" stroke="#7070e0" stroke-width=".8"/>
<path d="M420.7 84.69v8.18M419.7 84.69h2M419.7 92.88h2" stroke="#7070e0" stroke-width=".8"/>
<path d="M443.5 90.46v2.98M442.5 90.46h2M442.5 93.44h2" stroke="#7070e0" stroke-width=".8"/>
<path d="M465.7 92.32v2.23M464.7 92.32h2M464.7 94.55h2" stroke="#7070e0" stroke-width=".8"/>
<path d="M398.8 50.28v11.16M397.8 50.28h2M397.8 61.44h2" stroke="#e08080" stroke-width=".8"/>
<path d="M420.7 36.89v11.16M419.7 36.89h2M419.7 48.05h2" stroke="#e08080" stroke-width=".8"/>
<path d="M443.5 75.02v2.98M442.5 75.02h2M442.5 78h2" stroke="#e08080" stroke-width=".8"/>
<path d="M465.7 81.16v2.23M464.7 81.16h2M464.7 83.39h2" stroke="#e08080" stroke-width=".8"/>
<path d="M398.8 44.15C402.81 52.33 412.5 80.02 420.7 88.79C428.89 97.55 435.25 91.1 443.5 91.95C451.75 92.8 461.63 93.16 465.7 93.44" stroke="#1c1cb0" stroke-width="1.6" fill="none"/>
<path d="M398.8 55.86C402.81 53.41 412.5 38.69 420.7 42.47C428.89 46.26 435.25 69.21 443.5 76.51C451.75 83.81 461.63 81.22 465.7 82.28" stroke="#c81e1e" stroke-width="1.6" fill="none"/>
<path d="M398.8 40.25L402.7 44.15L398.8 48.05L394.9 44.15Z" fill="#1010cc" stroke="none" stroke-width="1"/>
<path d="M420.7 84.89L424.6 88.79L420.7 92.69L416.8 88.79Z" fill="#1010cc" stroke="none" stroke-width="1"/>
<path d="M443.5 88.05L447.4 91.95L443.5 95.85L439.6 91.95Z" fill="#1010cc" stroke="none" stroke-width="1"/>
<path d="M465.7 89.54L469.6 93.44L465.7 97.34L461.8 93.44Z" fill="#1010cc" stroke="none" stroke-width="1"/>
<path d="M398.8 51.96L402.7 55.86L398.8 59.76L394.9 55.86Z" fill="#e61414" stroke="none" stroke-width="1"/>
<path d="M420.7 38.57L424.6 42.47L420.7 46.37L416.8 42.47Z" fill="#e61414" stroke="none" stroke-width="1"/>
<path d="M443.5 72.61L447.4 76.51L443.5 80.41L439.6 76.51Z" fill="#e61414" stroke="none" stroke-width="1"/>
<path d="M465.7 78.38L469.6 82.28L465.7 86.18L461.8 82.28Z" fill="#e61414" stroke="none" stroke-width="1"/>
<path d="M420.7 30.4L420.7 25.9M420.7 30.4L424.98 29.01M420.7 30.4L416.42 29.01M420.7 30.4L423.35 34.04M420.7 30.4L418.05 34.04" stroke="#000" stroke-width="1.8" stroke-linecap="round" fill="none"/>
<path d="M445 66L445 61.5M445 66L449.28 64.61M445 66L440.72 64.61M445 66L447.65 69.64M445 66L442.35 69.64" stroke="#000" stroke-width="1.8" stroke-linecap="round" fill="none"/>
<path d="M465.5 72L465.5 67.5M465.5 72L469.78 70.61M465.5 72L461.22 70.61M465.5 72L468.15 75.64M465.5 72L462.85 75.64" stroke="#000" stroke-width="1.8" stroke-linecap="round" fill="none"/>
<text x="388.7" y="128.5" font-size="16.4" textLength="20" lengthAdjust="spacingAndGlyphs">S3</text>
<text x="383.6" y="200.14" font-size="12.8" text-anchor="end" textLength="14.2" lengthAdjust="spacingAndGlyphs">10</text>
<text x="383.6" y="178.82" font-size="12.8" text-anchor="end" textLength="14.2" lengthAdjust="spacingAndGlyphs">30</text>
<text x="383.6" y="157.5" font-size="12.8" text-anchor="end" textLength="14.2" lengthAdjust="spacingAndGlyphs">50</text>
<text x="383.6" y="136.18" font-size="12.8" text-anchor="end" textLength="14.2" lengthAdjust="spacingAndGlyphs">70</text>
<path d="M387.2 125.8V206.4H476M387.2 195.54h-2.5M387.2 174.22h-2.5M387.2 152.9h-2.5M387.2 131.58h-2.5M409.3 206.4v2.5M431.2 206.4v2.5M453.4 206.4v2.5M475.5 206.4v2.5" stroke="#8a8a8a" stroke-width="1.1" fill="none"/>
<path d="M420.7 136v9M419.7 136h2M419.7 145h2" stroke="#7070e0" stroke-width=".8"/>
<path d="M398.8 188.08C402.81 179.48 412.5 150.07 420.7 141.17C428.89 132.28 435.25 138.99 443.5 139.57C451.75 140.16 461.63 143.49 465.7 144.37" stroke="#1c1cb0" stroke-width="1.6" fill="none"/>
<path d="M398.8 194.47C402.81 192.91 412.5 192 420.7 185.95C428.89 179.89 435.25 167.21 443.5 161.43C451.75 155.64 461.63 155.68 465.7 154.39" stroke="#c81e1e" stroke-width="1.6" fill="none"/>
<path d="M398.8 184.18L402.7 188.08L398.8 191.98L394.9 188.08Z" fill="#1010cc" stroke="none" stroke-width="1"/>
<path d="M420.7 137.27L424.6 141.17L420.7 145.07L416.8 141.17Z" fill="#1010cc" stroke="none" stroke-width="1"/>
<path d="M443.5 135.67L447.4 139.57L443.5 143.47L439.6 139.57Z" fill="#1010cc" stroke="none" stroke-width="1"/>
<path d="M465.7 140.47L469.6 144.37L465.7 148.27L461.8 144.37Z" fill="#1010cc" stroke="none" stroke-width="1"/>
<path d="M398.8 190.57L402.7 194.47L398.8 198.37L394.9 194.47Z" fill="#e61414" stroke="none" stroke-width="1"/>
<path d="M420.7 182.05L424.6 185.95L420.7 189.85L416.8 185.95Z" fill="#e61414" stroke="none" stroke-width="1"/>
<path d="M443.5 157.53L447.4 161.43L443.5 165.33L439.6 161.43Z" fill="#e61414" stroke="none" stroke-width="1"/>
<path d="M465.7 150.49L469.6 154.39L465.7 158.29L461.8 154.39Z" fill="#e61414" stroke="none" stroke-width="1"/>
<path d="M420.7 127.3L420.7 122.8M420.7 127.3L424.98 125.91M420.7 127.3L416.42 125.91M420.7 127.3L423.35 130.94M420.7 127.3L418.05 130.94" stroke="#000" stroke-width="1.8" stroke-linecap="round" fill="none"/>
<path d="M443.5 130.3L443.5 125.8M443.5 130.3L447.78 128.91M443.5 130.3L439.22 128.91M443.5 130.3L446.15 133.94M443.5 130.3L440.85 133.94" stroke="#000" stroke-width="1.8" stroke-linecap="round" fill="none"/>
<path d="M465 134.2L465 129.7M465 134.2L469.28 132.81M465 134.2L460.72 132.81M465 134.2L467.65 137.84M465 134.2L462.35 137.84" stroke="#000" stroke-width="1.8" stroke-linecap="round" fill="none"/>
<text transform="translate(403.3 216.8) rotate(-45)" font-size="15.5" text-anchor="end" textLength="41" lengthAdjust="spacingAndGlyphs">E11.5</text>
<text transform="translate(425.9 216.8) rotate(-45)" font-size="15.5" text-anchor="end" textLength="41" lengthAdjust="spacingAndGlyphs">E12.5</text>
<text transform="translate(448.5 216.8) rotate(-45)" font-size="15.5" text-anchor="end" textLength="41" lengthAdjust="spacingAndGlyphs">E13.5</text>
<text transform="translate(471.1 216.8) rotate(-45)" font-size="15.5" text-anchor="end" textLength="41" lengthAdjust="spacingAndGlyphs">E14.5</text>
<text x="6.6" y="273.8" font-size="17.8" font-weight="bold">C</text>
<text transform="translate(31.4 456.6) rotate(-90)" font-size="20" textLength="129.5" lengthAdjust="spacingAndGlyphs">Cell frequency</text>
<text transform="translate(31 321.3) rotate(-90)" font-size="12" textLength="18.8" lengthAdjust="spacingAndGlyphs">(%)</text>
<rect x="51.2" y="270.5" width="109.2" height="104" fill="#fff" stroke="#8c8c8c" stroke-width="0.9"/>
<text x="47.2" y="376.5" font-size="5.6" text-anchor="end" fill="#444">0</text>
<text x="47.2" y="356.7" font-size="5.6" text-anchor="end" fill="#444">20</text>
<text x="47.2" y="336.9" font-size="5.6" text-anchor="end" fill="#444">40</text>
<text x="47.2" y="317.1" font-size="5.6" text-anchor="end" fill="#444">60</text>
<text x="47.2" y="297.3" font-size="5.6" text-anchor="end" fill="#444">80</text>
<text x="47.2" y="277.5" font-size="5.6" text-anchor="end" fill="#444">100</text>
<path d="M51.2 374.5h-2.4M51.2 354.7h-2.4M51.2 334.9h-2.4M51.2 315.1h-2.4M51.2 295.3h-2.4M51.2 275.5h-2.4M51.2 364.6h-1.3M51.2 344.8h-1.3M51.2 325h-1.3M51.2 305.2h-1.3M51.2 285.4h-1.3M53.2 374.5v1.3M56.8 374.5v1.3M60.4 374.5v1.3M64 374.5v1.3M67.6 374.5v1.3M71.2 374.5v1.3M74.8 374.5v1.3M78.4 374.5v1.3M82 374.5v1.3M85.6 374.5v1.3M89.2 374.5v1.3M92.8 374.5v1.3M96.4 374.5v1.3M100 374.5v1.3M103.6 374.5v1.3M107.2 374.5v1.3M110.8 374.5v1.3M114.4 374.5v1.3M118 374.5v1.3M121.6 374.5v1.3M125.2 374.5v1.3M128.8 374.5v1.3M132.4 374.5v1.3M136 374.5v1.3M139.6 374.5v1.3M143.2 374.5v1.3M146.8 374.5v1.3M150.4 374.5v1.3M154 374.5v1.3M157.6 374.5v1.3M59.5 374.5v2.4M77.5 374.5v2.4M105.5 374.5v2.4M133 374.5v2.4M156.8 374.5v2.4" stroke="#777" stroke-width=".6" fill="none"/>
<text x="59.5" y="383.9" font-size="6.4" text-anchor="middle" fill="#333">0</text>
<text x="77.5" y="383.9" font-size="6.4" text-anchor="middle" fill="#333">10²</text>
<text x="105.5" y="383.9" font-size="6.4" text-anchor="middle" fill="#333">10³</text>
<text x="133" y="383.9" font-size="6.4" text-anchor="middle" fill="#333">10⁴</text>
<text x="156.8" y="383.9" font-size="6.4" text-anchor="middle" fill="#333">10⁵</text>
<rect x="50.8" y="412" width="109.6" height="105" fill="#fff" stroke="#8c8c8c" stroke-width="0.9"/>
<text x="46.8" y="519" font-size="5.6" text-anchor="end" fill="#444">0</text>
<text x="46.8" y="499" font-size="5.6" text-anchor="end" fill="#444">20</text>
<text x="46.8" y="479" font-size="5.6" text-anchor="end" fill="#444">40</text>
<text x="46.8" y="459" font-size="5.6" text-anchor="end" fill="#444">60</text>
<text x="46.8" y="439" font-size="5.6" text-anchor="end" fill="#444">80</text>
<text x="46.8" y="419" font-size="5.6" text-anchor="end" fill="#444">100</text>
<path d="M50.8 517h-2.4M50.8 497h-2.4M50.8 477h-2.4M50.8 457h-2.4M50.8 437h-2.4M50.8 417h-2.4M50.8 507h-1.3M50.8 487h-1.3M50.8 467h-1.3M50.8 447h-1.3M50.8 427h-1.3M52.8 517v1.3M56.4 517v1.3M60 517v1.3M63.6 517v1.3M67.2 517v1.3M70.8 517v1.3M74.4 517v1.3M78 517v1.3M81.6 517v1.3M85.2 517v1.3M88.8 517v1.3M92.4 517v1.3M96 517v1.3M99.6 517v1.3M103.2 517v1.3M106.8 517v1.3M110.4 517v1.3M114 517v1.3M117.6 517v1.3M121.2 517v1.3M124.8 517v1.3M128.4 517v1.3M132 517v1.3M135.6 517v1.3M139.2 517v1.3M142.8 517v1.3M146.4 517v1.3M150 517v1.3M153.6 517v1.3M157.2 517v1.3M59.5 517v2.4M77.5 517v2.4M105.5 517v2.4M133 517v2.4M156.8 517v2.4" stroke="#777" stroke-width=".6" fill="none"/>
<text x="59.5" y="526.4" font-size="6.4" text-anchor="middle" fill="#333">0</text>
<text x="77.5" y="526.4" font-size="6.4" text-anchor="middle" fill="#333">10²</text>
<text x="105.5" y="526.4" font-size="6.4" text-anchor="middle" fill="#333">10³</text>
<text x="133" y="526.4" font-size="6.4" text-anchor="middle" fill="#333">10⁴</text>
<text x="156.8" y="526.4" font-size="6.4" text-anchor="middle" fill="#333">10⁵</text>
<path d="M80 374C81 373.67 84.5 374 86 372C87.5 370 88.08 367.5 89 362C89.92 356.5 90.75 347.83 91.5 339C92.25 330.17 92.83 318.5 93.5 309C94.17 299.5 95 287.33 95.5 282C96 276.67 96.17 276.67 96.5 277C96.83 277.33 97.08 277.83 97.5 284C97.92 290.17 98.5 304 99 314C99.5 324 100 335.67 100.5 344C101 352.33 101.42 359.33 102 364C102.58 368.67 103 370.33 104 372C105 373.67 107.33 373.67 108 374Z" fill="#dcdcdc" stroke="#9a9a9a" stroke-width=".8"/>
<path d="M51.5 373.5C59.58 373.47 90.25 373.47 100 373.3C109.75 373.13 107.5 373.05 110 372.5C112.5 371.95 113.67 371.08 115 370C116.33 368.92 117.08 368.67 118 366C118.92 363.33 119.75 360.17 120.5 354C121.25 347.83 121.83 338.17 122.5 329C123.17 319.83 123.88 307.5 124.5 299C125.12 290.5 125.75 281.83 126.2 278C126.65 274.17 126.82 275.33 127.2 276C127.58 276.67 128.03 277.33 128.5 282C128.97 286.67 129.5 295.33 130 304C130.5 312.67 131 324.83 131.5 334C132 343.17 132.42 352.83 133 359C133.58 365.17 134 368.58 135 371C136 373.42 135 373.08 139 373.5C143 373.92 155.67 373.5 159 373.5" fill="none" stroke="#e81c10" stroke-width="1.6"/>
<path d="M60 374C65 373.92 83.83 373.83 90 373.5C96.17 373.17 95.25 373.25 97 372C98.75 370.75 99.42 369.33 100.5 366C101.58 362.67 102.5 359 103.5 352C104.5 345 105.67 332.83 106.5 324C107.33 315.17 107.92 306.17 108.5 299C109.08 291.83 109.58 284.75 110 281C110.42 277.25 110.58 276.67 111 276.5C111.42 276.33 112 276.25 112.5 280C113 283.75 113.42 290.83 114 299C114.58 307.17 115.33 319.83 116 329C116.67 338.17 117.33 347.67 118 354C118.67 360.33 119.17 363.92 120 367C120.83 370.08 121.33 371.33 123 372.5C124.67 373.67 124 373.75 130 374C136 374.25 154.17 374 159 374" fill="none" stroke="#000" stroke-width="1.7"/>
<rect x="163.8" y="270.5" width="12" height="11.3" fill="#000" stroke="none" stroke-width="0.9"/>
<text x="178.6" y="281.4" font-size="16.2" textLength="17" lengthAdjust="spacingAndGlyphs">S1</text>
<rect x="163.8" y="285.9" width="12" height="11.3" fill="#f02a14" stroke="none" stroke-width="0.9"/>
<text x="178.6" y="296.8" font-size="16.2" textLength="33.2" lengthAdjust="spacingAndGlyphs">S4-5</text>
<rect x="163.8" y="301.3" width="12" height="11.3" fill="#e0e0e0" stroke="#a8a8a8" stroke-width="0.9"/>
<text x="178.6" y="312.2" font-size="16.2" textLength="24.7" lengthAdjust="spacingAndGlyphs">IgG</text>
<text x="82" y="400.4" font-size="19.5" textLength="43.5" lengthAdjust="spacingAndGlyphs">Bcl-x</text>
<text x="127.2" y="407.6" font-size="12.5" textLength="6" lengthAdjust="spacingAndGlyphs">L</text>
<path d="M51 516.5L51 513.5L53 508.5L55 506.5L57.5 499.5L60 494.5L62.5 486.5L65 483.5L67 476.5L68.5 472.5L69.5 464.5L71 461.5L72.5 452.5L74 446.5L75 431.5L76.5 428.5L78 430.5L79.5 424.5L81 418.5L82.5 422.5L84 431.5L85.5 446.5L87 461.5L88.5 481.5L89.5 501.5L91 514.5L93 516.5Z" fill="#d8d8d8" stroke="#8c8c8c" stroke-width=".8" stroke-linejoin="round"/>
<path d="M88 516.5C90 516.42 96.67 516.25 100 516C103.33 515.75 106 515.58 108 515C110 514.42 110.83 513.92 112 512.5C113.17 511.08 114.08 510.5 115 506.5C115.92 502.5 116.75 496 117.5 488.5C118.25 481 118.83 470.67 119.5 461.5C120.17 452.33 120.92 440.5 121.5 433.5C122.08 426.5 122.58 422 123 419.5C123.42 417 123.58 417.33 124 418.5C124.42 419.67 125 421 125.5 426.5C126 432 126.5 442.33 127 451.5C127.5 460.67 127.92 472.67 128.5 481.5C129.08 490.33 129.75 499 130.5 504.5C131.25 510 131.92 512.5 133 514.5C134.08 516.5 132.67 516.17 137 516.5C141.33 516.83 155.33 516.5 159 516.5" fill="none" stroke="#1a1ae0" stroke-width="1.6"/>
<path d="M51.5 516.5C57.92 516.5 82.92 516.75 90 516.5C97.08 516.25 92.92 516.33 94 515C95.08 513.67 95.75 512.42 96.5 508.5C97.25 504.58 97.83 499.33 98.5 491.5C99.17 483.67 99.92 470.67 100.5 461.5C101.08 452.33 101.58 442.67 102 436.5C102.42 430.33 102.67 427.33 103 424.5C103.33 421.67 103.67 419.17 104 419.5C104.33 419.83 104.67 426.33 105 426.5C105.33 426.67 105.67 420.83 106 420.5C106.33 420.17 106.58 420.17 107 424.5C107.42 428.83 107.92 437.83 108.5 446.5C109.08 455.17 109.83 467.33 110.5 476.5C111.17 485.67 111.75 495.33 112.5 501.5C113.25 507.67 114.08 511.08 115 513.5C115.92 515.92 110.67 515.5 118 516C125.33 516.5 152.17 516.42 159 516.5" fill="none" stroke="#e81c10" stroke-width="1.6"/>
<path d="M51.5 515.5C51.85 515.2 54.35 513.4 55 512.5C55.65 511.6 57.5 507.4 58 506.5C58.5 505.6 59.6 503.7 60 503.5C60.4 503.3 61.6 504.6 62 504.5C62.4 504.4 63.6 502.5 64 502.5C64.4 502.5 65.6 504.4 66 504.5C66.4 504.6 67.6 503.3 68 503.5C68.4 503.7 69.6 505.8 70 506.5C70.4 507.2 71.5 510.1 72 510.5C72.5 510.9 74.4 510.3 75 510.5C75.6 510.7 77.4 512.4 78 512.5C78.6 512.6 80.3 511.3 81 511.5C81.7 511.7 84.1 514.1 85 514.5C85.9 514.9 89 515.6 90 515.5C91 515.4 94.1 514.2 95 513.5C95.9 512.8 98.3 510 99 508.5C99.7 507 101.45 500.7 102 498.5C102.55 496.3 104 489.2 104.5 486.5C105 483.8 106.55 474 107 471.5C107.45 469 108.65 463.2 109 461.5C109.35 459.8 110.2 456.5 110.5 454.5C110.8 452.5 111.7 443.3 112 441.5C112.3 439.7 113.25 438.2 113.5 436.5C113.75 434.8 114.3 426.3 114.5 424.5C114.7 422.7 115.3 418.3 115.5 418.5C115.7 418.7 116.3 424.5 116.5 426.5C116.7 428.5 117.3 437.7 117.5 438.5C117.7 439.3 118.3 433.7 118.5 434.5C118.7 435.3 119.25 443.3 119.5 446.5C119.75 449.7 120.65 462.5 121 466.5C121.35 470.5 122.55 483 123 486.5C123.45 490 125 499 125.5 501.5C126 504 127.45 510.15 128 511.5C128.55 512.85 129.8 514.55 131 515C132.2 515.45 137.9 515.9 140 516C142.1 516.1 150.5 516.1 152 516C153.5 515.9 154.4 515 155 515C155.6 515 157.7 515.9 158 516" fill="none" stroke="#000" stroke-width="1.6" stroke-linejoin="round"/>
<rect x="163.8" y="411.9" width="12" height="11.5" fill="#000" stroke="none" stroke-width="0.9"/>
<text x="178" y="423.4" font-size="16.2" textLength="17.8" lengthAdjust="spacingAndGlyphs">S0</text>
<rect x="163.8" y="427.8" width="12" height="11.5" fill="#1010e8" stroke="none" stroke-width="0.9"/>
<text x="178" y="439.3" font-size="16.2" textLength="17" lengthAdjust="spacingAndGlyphs">S1</text>
<rect x="163.8" y="443.5" width="12" height="11.5" fill="#f02a14" stroke="none" stroke-width="0.9"/>
<text x="178" y="455" font-size="16.2" textLength="33.2" lengthAdjust="spacingAndGlyphs">S4-5</text>
<rect x="163.8" y="459" width="12" height="11.5" fill="#e0e0e0" stroke="#a8a8a8" stroke-width="0.9"/>
<text x="178" y="470.5" font-size="16.2" textLength="24.7" lengthAdjust="spacingAndGlyphs">IgG</text>
<text x="88.5" y="542.3" font-size="19" textLength="32.5" lengthAdjust="spacingAndGlyphs">Bim</text>
<text x="253.4" y="273.9" font-size="17.8" font-weight="bold">D</text>
<text x="305.7" y="393.2" font-size="12.4" text-anchor="end" textLength="6.9" lengthAdjust="spacingAndGlyphs">0</text>
<text x="305.7" y="366.6" font-size="12.4" text-anchor="end" textLength="6.9" lengthAdjust="spacingAndGlyphs">2</text>
<text x="305.7" y="340" font-size="12.4" text-anchor="end" textLength="6.9" lengthAdjust="spacingAndGlyphs">4</text>
<text x="305.7" y="313.4" font-size="12.4" text-anchor="end" textLength="6.9" lengthAdjust="spacingAndGlyphs">6</text>
<text x="305.7" y="286.8" font-size="12.4" text-anchor="end" textLength="6.9" lengthAdjust="spacingAndGlyphs">8</text>
<path d="M309.5 282.4V391.3M307 388.8H440.6M309.5 388.8h-2.5M309.5 362.2h-2.5M309.5 335.6h-2.5M309.5 309h-2.5M309.5 282.4h-2.5M335.5 388.8v2.5M361.7 388.8v2.5M387.9 388.8v2.5M414.3 388.8v2.5M440.5 388.8v2.5" stroke="#8a8a8a" stroke-width="1.1" fill="none"/>
<text transform="translate(285.5 395.7) rotate(-90)" font-size="18" textLength="45.5" lengthAdjust="spacingAndGlyphs">Bcl-x</text>
<text transform="translate(290.6 348.5) rotate(-90)" font-size="11" textLength="6.5" lengthAdjust="spacingAndGlyphs">L</text>
<text transform="translate(287.3 336.4) rotate(-90)" font-size="10.5" textLength="54.5" lengthAdjust="spacingAndGlyphs">(MFI x10<tspan font-size="6.51" dy="-4.41">3</tspan><tspan dy="4.41">)</tspan></text>
<path d="M366.2 310.4H369M366.2 310.4V364.4H372M381 364.4H400.8V340M407.8 334.1H426.8V316" stroke="#b4b4b4" stroke-width="1" fill="none"/>
<path d="M366.2 305.6L366.2 301.2M366.2 305.6L370.38 304.24M366.2 305.6L362.02 304.24M366.2 305.6L368.79 309.16M366.2 305.6L363.61 309.16" stroke="#adadad" stroke-width="1.76" stroke-linecap="round" fill="none"/>
<path d="M404.3 368.7L404.3 364.3M404.3 368.7L408.48 367.34M404.3 368.7L400.12 367.34M404.3 368.7L406.89 372.26M404.3 368.7L401.71 372.26" stroke="#adadad" stroke-width="1.76" stroke-linecap="round" fill="none"/>
<path d="M429.4 338.1L429.4 333.7M429.4 338.1L433.58 336.74M429.4 338.1L425.22 336.74M429.4 338.1L431.99 341.66M429.4 338.1L426.81 341.66" stroke="#adadad" stroke-width="1.76" stroke-linecap="round" fill="none"/>
<path d="M322.3 295.04V350.23M320.9 295.04h2.8M320.9 350.23h2.8" stroke="#d88" stroke-width="0.8"/>
<path d="M348.5 308.34V343.58M347.1 308.34h2.8M347.1 343.58h2.8" stroke="#d88" stroke-width="0.8"/>
<path d="M374.9 293.04V330.28M373.5 293.04h2.8M373.5 330.28h2.8" stroke="#d88" stroke-width="0.8"/>
<path d="M322.3 334.27V355.55M320.9 334.27h2.8M320.9 355.55h2.8" stroke="#88d" stroke-width="0.8"/>
<path d="M322.3 355.55V372.84M320.9 355.55h2.8M320.9 372.84h2.8" stroke="#555" stroke-width="0.8"/>
<path d="M426.5 289.05V305.01M425.1 289.05h2.8M425.1 305.01h2.8" stroke="#55d" stroke-width="0.8"/>
<path d="M322.3 322.3C327.54 323.1 337.98 328.42 348.5 326.29C359.02 324.16 369.62 314.59 374.9 311.66" stroke="#dc1a1a" stroke-width="2.3" fill="none"/>
<path d="M322.3 316.7L327.9 322.3L322.3 327.9L316.7 322.3Z" fill="#dc1a1a" stroke="none" stroke-width="1"/>
<path d="M348.5 320.69L354.1 326.29L348.5 331.89L342.9 326.29Z" fill="#dc1a1a" stroke="none" stroke-width="1"/>
<path d="M374.9 306.06L380.5 311.66L374.9 317.26L369.3 311.66Z" fill="#dc1a1a" stroke="none" stroke-width="1"/>
<path d="M322.3 321.63C327.54 328.42 337.98 349.83 348.5 355.55C359.02 361.27 364.52 359.01 374.9 350.23C385.28 341.45 395.3 319.37 400.4 311.66" stroke="#f3a21e" stroke-width="2.3" fill="none"/>
<path d="M322.3 316.03L327.9 321.63L322.3 327.24L316.7 321.63Z" fill="#f3a21e" stroke="none" stroke-width="1"/>
<path d="M348.5 349.95L354.1 355.55L348.5 361.15L342.9 355.55Z" fill="#f3a21e" stroke="none" stroke-width="1"/>
<path d="M374.9 344.63L380.5 350.23L374.9 355.83L369.3 350.23Z" fill="#f3a21e" stroke="none" stroke-width="1"/>
<path d="M400.4 306.06L406 311.66L400.4 317.26L394.8 311.66Z" fill="#f3a21e" stroke="none" stroke-width="1"/>
<path d="M322.3 344.91C327.54 347.04 337.98 353.29 348.5 355.55C359.02 357.81 364.52 362.87 374.9 356.22C385.28 349.57 390.08 333.87 400.4 322.3C410.72 310.73 421.28 303.15 426.5 298.36" stroke="#0c0cd0" stroke-width="2.3" fill="none"/>
<path d="M322.3 339.31L327.9 344.91L322.3 350.51L316.7 344.91Z" fill="#0c0cd0" stroke="none" stroke-width="1"/>
<path d="M348.5 349.95L354.1 355.55L348.5 361.15L342.9 355.55Z" fill="#0c0cd0" stroke="none" stroke-width="1"/>
<path d="M374.9 350.62L380.5 356.22L374.9 361.82L369.3 356.22Z" fill="#0c0cd0" stroke="none" stroke-width="1"/>
<path d="M400.4 316.7L406 322.3L400.4 327.9L394.8 322.3Z" fill="#0c0cd0" stroke="none" stroke-width="1"/>
<path d="M426.5 292.76L432.1 298.36L426.5 303.96L420.9 298.36Z" fill="#0c0cd0" stroke="none" stroke-width="1"/>
<path d="M322.3 364.19C327.54 364.33 337.98 364.86 348.5 364.86C359.02 364.86 364.52 370.45 374.9 364.19C385.28 357.94 390.08 344.51 400.4 333.61C410.72 322.7 421.28 314.45 426.5 309.67" stroke="#000" stroke-width="2.3" fill="none"/>
<path d="M322.3 358.59L327.9 364.19L322.3 369.8L316.7 364.19Z" fill="#000" stroke="none" stroke-width="1"/>
<path d="M348.5 359.26L354.1 364.86L348.5 370.46L342.9 364.86Z" fill="#000" stroke="none" stroke-width="1"/>
<path d="M374.9 358.59L380.5 364.19L374.9 369.8L369.3 364.19Z" fill="#000" stroke="none" stroke-width="1"/>
<path d="M400.4 328L406 333.61L400.4 339.21L394.8 333.61Z" fill="#000" stroke="none" stroke-width="1"/>
<path d="M426.5 304.06L432.1 309.67L426.5 315.27L420.9 309.67Z" fill="#000" stroke="none" stroke-width="1"/>
<rect x="443.5" y="277.4" width="12" height="11.5" fill="#dc1a1a" stroke="none" stroke-width="1"/>
<text x="457" y="288.6" font-size="16.3" textLength="41.2" lengthAdjust="spacingAndGlyphs">E11.5</text>
<rect x="443.5" y="293.8" width="12" height="11.5" fill="#f3a21e" stroke="none" stroke-width="1"/>
<text x="457" y="305" font-size="16.3" textLength="41.2" lengthAdjust="spacingAndGlyphs">E12.5</text>
<rect x="443.5" y="310.2" width="12" height="11.5" fill="#0c0cd0" stroke="none" stroke-width="1"/>
<text x="457" y="321.4" font-size="16.3" textLength="41.2" lengthAdjust="spacingAndGlyphs">E13.5</text>
<rect x="443.5" y="326.5" width="12" height="11.5" fill="#000" stroke="none" stroke-width="1"/>
<text x="457" y="337.7" font-size="16.3" textLength="41.2" lengthAdjust="spacingAndGlyphs">E14.5</text>
<text x="305.2" y="519.9" font-size="12.4" text-anchor="end" textLength="6.9" lengthAdjust="spacingAndGlyphs">0</text>
<text x="305.2" y="491" font-size="12.4" text-anchor="end" textLength="6.9" lengthAdjust="spacingAndGlyphs">2</text>
<text x="305.2" y="462.1" font-size="12.4" text-anchor="end" textLength="6.9" lengthAdjust="spacingAndGlyphs">4</text>
<text x="305.2" y="433.2" font-size="12.4" text-anchor="end" textLength="6.9" lengthAdjust="spacingAndGlyphs">6</text>
<path d="M309.4 412V515.5H440.6M309.4 515.5h-2.5M309.4 486.6h-2.5M309.4 457.7h-2.5M309.4 428.8h-2.5M335.5 515.5v2.5M361.7 515.5v2.5M387.9 515.5v2.5M414.3 515.5v2.5M440.5 515.5v2.5" stroke="#8a8a8a" stroke-width="1.1" fill="none"/>
<text transform="translate(288 516.7) rotate(-90)" font-size="20.5" textLength="34.2" lengthAdjust="spacingAndGlyphs">Bim</text>
<text transform="translate(287.6 478) rotate(-90)" font-size="10.5" textLength="58.2" lengthAdjust="spacingAndGlyphs">(MFI x10<tspan font-size="6.51" dy="-4.41">3</tspan><tspan dy="4.41">)</tspan></text>
<path d="M317.2 488V440.4H345.4M338 475.7V418.3H401V471.4" stroke="#b4b4b4" stroke-width="1" fill="none"/>
<path d="M317 436L317 431.6M317 436L321.18 434.64M317 436L312.82 434.64M317 436L319.59 439.56M317 436L314.41 439.56" stroke="#adadad" stroke-width="1.76" stroke-linecap="round" fill="none"/>
<path d="M337.2 413.2L337.2 408.8M337.2 413.2L341.38 411.84M337.2 413.2L333.02 411.84M337.2 413.2L339.79 416.76M337.2 413.2L334.61 416.76" stroke="#adadad" stroke-width="1.76" stroke-linecap="round" fill="none"/>
<path d="M401.8 413.2L401.8 408.8M401.8 413.2L405.98 411.84M401.8 413.2L397.62 411.84M401.8 413.2L404.39 416.76M401.8 413.2L399.21 416.76" stroke="#adadad" stroke-width="1.76" stroke-linecap="round" fill="none"/>
<path d="M375.4 436.02V450.48M374 436.02h2.8M374 450.48h2.8" stroke="#e8b060" stroke-width="0.8"/>
<path d="M348.5 467.81V480.82M347.1 467.81h2.8M347.1 480.82h2.8" stroke="#d66" stroke-width="0.8"/>
<path d="M322.9 501.05C328.02 494.84 338 474.9 348.5 469.98C359 465.07 364.9 471.37 375.4 476.49C385.9 481.6 390.66 490.07 401 495.56C411.34 501.05 421.88 502.26 427.1 503.94" stroke="#000" stroke-width="2.3" fill="none"/>
<path d="M322.9 495.45L328.5 501.05L322.9 506.65L317.3 501.05Z" fill="#000" stroke="none" stroke-width="1"/>
<path d="M348.5 464.38L354.1 469.98L348.5 475.58L342.9 469.98Z" fill="#000" stroke="none" stroke-width="1"/>
<path d="M375.4 470.88L381 476.49L375.4 482.09L369.8 476.49Z" fill="#000" stroke="none" stroke-width="1"/>
<path d="M401 489.96L406.6 495.56L401 501.16L395.4 495.56Z" fill="#000" stroke="none" stroke-width="1"/>
<path d="M427.1 498.34L432.7 503.94L427.1 509.54L421.5 503.94Z" fill="#000" stroke="none" stroke-width="1"/>
<path d="M322.9 501.05C328.02 495.56 338 477.79 348.5 473.6C359 469.4 370.02 478.8 375.4 480.1" stroke="#dc1a1a" stroke-width="2.3" fill="none"/>
<path d="M322.9 495.45L328.5 501.05L322.9 506.65L317.3 501.05Z" fill="#dc1a1a" stroke="none" stroke-width="1"/>
<path d="M348.5 468L354.1 473.6L348.5 479.2L342.9 473.6Z" fill="#dc1a1a" stroke="none" stroke-width="1"/>
<path d="M375.4 474.5L381 480.1L375.4 485.7L369.8 480.1Z" fill="#dc1a1a" stroke="none" stroke-width="1"/>
<path d="M322.9 489.49C328.02 480.68 338 450.62 348.5 445.42C359 440.22 364.9 455.16 375.4 463.48C385.9 471.8 390.66 479.81 401 487.03C411.34 494.26 421.88 497.09 427.1 499.61" stroke="#0c0cd0" stroke-width="2.3" fill="none"/>
<path d="M322.9 483.89L328.5 489.49L322.9 495.09L317.3 489.49Z" fill="#0c0cd0" stroke="none" stroke-width="1"/>
<path d="M348.5 439.82L354.1 445.42L348.5 451.02L342.9 445.42Z" fill="#0c0cd0" stroke="none" stroke-width="1"/>
<path d="M375.4 457.88L381 463.48L375.4 469.08L369.8 463.48Z" fill="#0c0cd0" stroke="none" stroke-width="1"/>
<path d="M401 481.43L406.6 487.03L401 492.63L395.4 487.03Z" fill="#0c0cd0" stroke="none" stroke-width="1"/>
<path d="M427.1 494L432.7 499.61L427.1 505.21L421.5 499.61Z" fill="#0c0cd0" stroke="none" stroke-width="1"/>
<path d="M322.9 453.8C328.02 447.21 338 422.96 348.5 420.85C359 418.74 364.9 432.27 375.4 443.25C385.9 454.23 395.88 469.26 401 475.76" stroke="#f3a21e" stroke-width="2.3" fill="none"/>
<path d="M322.9 448.2L328.5 453.8L322.9 459.4L317.3 453.8Z" fill="#f3a21e" stroke="none" stroke-width="1"/>
<path d="M348.5 415.25L354.1 420.85L348.5 426.45L342.9 420.85Z" fill="#f3a21e" stroke="none" stroke-width="1"/>
<path d="M375.4 437.65L381 443.25L375.4 448.85L369.8 443.25Z" fill="#f3a21e" stroke="none" stroke-width="1"/>
<path d="M401 470.16L406.6 475.76L401 481.36L395.4 475.76Z" fill="#f3a21e" stroke="none" stroke-width="1"/>
<text x="310.8" y="533" font-size="16.5" textLength="20" lengthAdjust="spacingAndGlyphs">S0</text>
<text x="337.6" y="533" font-size="16.5" textLength="19.2" lengthAdjust="spacingAndGlyphs">S1</text>
<text x="364.6" y="533" font-size="16.5" textLength="20" lengthAdjust="spacingAndGlyphs">S2</text>
<text x="391.2" y="533" font-size="16.5" textLength="20.3" lengthAdjust="spacingAndGlyphs">S3</text>
<text x="418.6" y="533" font-size="16.5" textLength="36.2" lengthAdjust="spacingAndGlyphs">S4-5</text>
<text x="5.6" y="568.1" font-size="17.8" font-weight="bold">E</text>
<text x="47.2" y="588.9" font-size="12.6" text-anchor="end" textLength="14" lengthAdjust="spacingAndGlyphs">25</text>
<text x="47.2" y="619.3" font-size="12.6" text-anchor="end" textLength="14" lengthAdjust="spacingAndGlyphs">20</text>
<text x="47.2" y="649.7" font-size="12.6" text-anchor="end" textLength="14" lengthAdjust="spacingAndGlyphs">15</text>
<text x="47.2" y="680.1" font-size="12.6" text-anchor="end" textLength="14" lengthAdjust="spacingAndGlyphs">10</text>
<path d="M49.3 582.6V691H124.5M49.3 584.4h-2.3M49.3 614.8h-2.3M49.3 645.2h-2.3M49.3 675.6h-2.3" stroke="#8a8a8a" stroke-width="1.1" fill="none"/>
<text transform="translate(22.1 693.8) rotate(-90)" font-size="20" textLength="45" lengthAdjust="spacingAndGlyphs">Bcl-x</text>
<text transform="translate(28.9 648.6) rotate(-90)" font-size="11" textLength="6.8" lengthAdjust="spacingAndGlyphs">L</text>
<text transform="translate(21.9 637) rotate(-90)" font-size="11" textLength="57" lengthAdjust="spacingAndGlyphs">(MFI x10<tspan font-size="6.82" dy="-4.62">2</tspan><tspan dy="4.62">)</tspan></text>
<path d="M63.8 590.4L66.9 595.98L60.7 595.98Z" fill="#1212bc"/>
<rect x="70.5" y="591" width="6" height="5.8" fill="#1212bc" stroke="none" stroke-width="1"/>
<path d="M66.3 611.9L69.4 615L66.3 618.1L63.2 615Z" fill="#fff" stroke="#1212bc" stroke-width="1"/>
<path d="M77 635.1L80.1 629.52L73.9 629.52Z" fill="#1212bc"/>
<path d="M71.3 656.7L74.6 660L71.3 663.3L68 660Z" fill="#1212bc" stroke="none" stroke-width="1"/>
<path d="M60.5 618.8H81.1M70.8 606.3V631.3M67.6 606.3h6.4M67.6 631.3h6.4" stroke="#111" stroke-width="1.35" fill="none"/>
<rect x="94" y="640.1" width="6" height="5.8" fill="#e82a1a" stroke="none" stroke-width="1"/>
<path d="M107 638.1L110.1 632.52L103.9 632.52Z" fill="#e82a1a"/>
<path d="M100 652.9L103.1 658.48L96.9 658.48Z" fill="#e82a1a"/>
<path d="M109.3 669.9L112.4 673L109.3 676.1L106.2 673Z" fill="#fff" stroke="#e82a1a" stroke-width="1"/>
<path d="M100 675L103.3 678.3L100 681.6L96.7 678.3Z" fill="#e82a1a" stroke="none" stroke-width="1"/>
<path d="M94 657.5H115M104.5 649.5V665.5M101.3 649.5h6.4M101.3 665.5h6.4" stroke="#111" stroke-width="1.35" fill="none"/>
<path d="M78 584.5V582H103V584.5" stroke="#111" stroke-width="1.1" fill="none"/>
<path d="M91.3 576.9L91.3 572.2M91.3 576.9L95.77 575.45M91.3 576.9L86.83 575.45M91.3 576.9L94.06 580.7M91.3 576.9L88.54 580.7" stroke="#000" stroke-width="1.88" stroke-linecap="round" fill="none"/>
<text x="76" y="711" font-size="20" textLength="25.2" lengthAdjust="spacingAndGlyphs">S2</text>
<text x="154.1" y="588.7" font-size="12.6" text-anchor="end" textLength="14" lengthAdjust="spacingAndGlyphs">50</text>
<text x="154.1" y="615.4" font-size="12.6" text-anchor="end" textLength="14" lengthAdjust="spacingAndGlyphs">45</text>
<text x="154.1" y="642.1" font-size="12.6" text-anchor="end" textLength="14" lengthAdjust="spacingAndGlyphs">40</text>
<text x="154.1" y="668.8" font-size="12.6" text-anchor="end" textLength="14" lengthAdjust="spacingAndGlyphs">35</text>
<text x="154.1" y="695.5" font-size="12.6" text-anchor="end" textLength="14" lengthAdjust="spacingAndGlyphs">30</text>
<path d="M156.5 582.6V691H231.3M156.5 584.2h-2.3M156.5 610.9h-2.3M156.5 637.6h-2.3M156.5 664.3h-2.3M156.5 691h-2.3" stroke="#8a8a8a" stroke-width="1.1" fill="none"/>
<path d="M178.3 588.6L181.4 583.02L175.2 583.02Z" fill="#1212bc"/>
<path d="M182.5 616.4L185.6 619.5L182.5 622.6L179.4 619.5Z" fill="#fff" stroke="#1212bc" stroke-width="1"/>
<rect x="169.5" y="622.6" width="6" height="5.8" fill="#1212bc" stroke="none" stroke-width="1"/>
<path d="M182.5 627.9L185.6 633.48L179.4 633.48Z" fill="#1212bc"/>
<path d="M178.3 651.2L181.6 654.5L178.3 657.8L175 654.5Z" fill="#1212bc" stroke="none" stroke-width="1"/>
<path d="M167.7 623H188.9M178.3 612.5V634.5M175.1 612.5h6.4M175.1 634.5h6.4" stroke="#111" stroke-width="1.35" fill="none"/>
<path d="M210.5 635.1L213.6 629.52L207.4 629.52Z" fill="#e82a1a"/>
<path d="M200.8 651.9L203.9 657.48L197.7 657.48Z" fill="#e82a1a"/>
<path d="M210.5 653.2L213.6 656.3L210.5 659.4L207.4 656.3Z" fill="#fff" stroke="#e82a1a" stroke-width="1"/>
<rect x="218.3" y="649.6" width="6" height="5.8" fill="#e82a1a" stroke="none" stroke-width="1"/>
<path d="M210.5 674.7L213.8 678L210.5 681.3L207.2 678Z" fill="#e82a1a" stroke="none" stroke-width="1"/>
<path d="M202.3 655.5H218.7M210.5 647.5V662M207.3 647.5h6.4M207.3 662h6.4" stroke="#111" stroke-width="1.35" fill="none"/>
<path d="M188 584.5V582H212.5V584.5" stroke="#111" stroke-width="1.1" fill="none"/>
<path d="M200.8 576.1L200.8 571.4M200.8 576.1L205.27 574.65M200.8 576.1L196.33 574.65M200.8 576.1L203.56 579.9M200.8 576.1L198.04 579.9" stroke="#000" stroke-width="1.88" stroke-linecap="round" fill="none"/>
<text x="186.3" y="711" font-size="20" textLength="25.2" lengthAdjust="spacingAndGlyphs">S3</text>
<text x="281.3" y="585.6" font-size="12.6" text-anchor="end" textLength="14" lengthAdjust="spacingAndGlyphs">10</text>
<text x="281.3" y="607.6" font-size="12.6" text-anchor="end" textLength="7" lengthAdjust="spacingAndGlyphs">9</text>
<text x="281.3" y="629.6" font-size="12.6" text-anchor="end" textLength="7" lengthAdjust="spacingAndGlyphs">8</text>
<text x="281.3" y="651.6" font-size="12.6" text-anchor="end" textLength="7" lengthAdjust="spacingAndGlyphs">7</text>
<text x="281.3" y="673.6" font-size="12.6" text-anchor="end" textLength="7" lengthAdjust="spacingAndGlyphs">6</text>
<text x="281.3" y="695.6" font-size="12.6" text-anchor="end" textLength="7" lengthAdjust="spacingAndGlyphs">5</text>
<path d="M285.9 580.5V691.1H352.5M285.9 581.1h-2.3M285.9 603.1h-2.3M285.9 625.1h-2.3M285.9 647.1h-2.3M285.9 669.1h-2.3M285.9 691.1h-2.3" stroke="#8a8a8a" stroke-width="1.1" fill="none"/>
<text transform="translate(263.5 682.4) rotate(-90)" font-size="20" textLength="34.4" lengthAdjust="spacingAndGlyphs">Bim</text>
<text transform="translate(262.8 644.4) rotate(-90)" font-size="11" textLength="58" lengthAdjust="spacingAndGlyphs">(MFI x10<tspan font-size="6.82" dy="-4.62">2</tspan><tspan dy="4.62">)</tspan></text>
<path d="M302 631.7L306.6 636.3L302 640.9L297.4 636.3Z" fill="#1c3ce0" stroke="#222" stroke-width="0.6"/>
<path d="M309.3 643.7L313.9 648.3L309.3 652.9L304.7 648.3Z" fill="#1c3ce0" stroke="#222" stroke-width="0.6"/>
<path d="M295.5 653.7L300.1 658.3L295.5 662.9L290.9 658.3Z" fill="#1c3ce0" stroke="#222" stroke-width="0.6"/>
<path d="M302 667.9L306.6 672.5L302 677.1L297.4 672.5Z" fill="#1c3ce0" stroke="#222" stroke-width="0.6"/>
<path d="M302 647.4L306.6 652L302 656.6L297.4 652Z" fill="#1c3ce0" stroke="#222" stroke-width="0.6"/>
<path d="M293.9 655H310.1M302 648.8V662M298.8 648.8h6.4M298.8 662h6.4" stroke="#111" stroke-width="1.35" fill="none"/>
<path d="M340.8 581.7L345.4 586.3L340.8 590.9L336.2 586.3Z" fill="#f04422" stroke="#222" stroke-width="0.6"/>
<path d="M333.8 586.2L338.4 590.8L333.8 595.4L329.2 590.8Z" fill="#f04422" stroke="#222" stroke-width="0.6"/>
<path d="M341.3 594.2L345.9 598.8L341.3 603.4L336.7 598.8Z" fill="#f04422" stroke="#222" stroke-width="0.6"/>
<path d="M326.3 596.7L330.9 601.3L326.3 605.9L321.7 601.3Z" fill="#f04422" stroke="#222" stroke-width="0.6"/>
<path d="M334.5 602.9L339.1 607.5L334.5 612.1L329.9 607.5Z" fill="#f04422" stroke="#222" stroke-width="0.6"/>
<path d="M334.5 624.2L339.1 628.8L334.5 633.4L329.9 628.8Z" fill="#f04422" stroke="#222" stroke-width="0.6"/>
<path d="M326.9 601.8H343.1M335 595.8V608.8M331.8 595.8h6.4M331.8 608.8h6.4" stroke="#111" stroke-width="1.35" fill="none"/>
<path d="M300.8 583.8V581.3H325V583.8" stroke="#111" stroke-width="1.1" fill="none"/>
<path d="M313 575.6L313 570.9M313 575.6L317.47 574.15M313 575.6L308.53 574.15M313 575.6L315.76 579.4M313 575.6L310.24 579.4" stroke="#000" stroke-width="1.88" stroke-linecap="round" fill="none"/>
<text x="306.9" y="711" font-size="20" textLength="24.8" lengthAdjust="spacingAndGlyphs">S3</text>
<text x="372.8" y="597.6" font-size="12.6" text-anchor="end" textLength="7" lengthAdjust="spacingAndGlyphs">6</text>
<text x="372.8" y="622.2" font-size="12.6" text-anchor="end" textLength="7" lengthAdjust="spacingAndGlyphs">5</text>
<text x="372.8" y="646.8" font-size="12.6" text-anchor="end" textLength="7" lengthAdjust="spacingAndGlyphs">4</text>
<text x="372.8" y="671.4" font-size="12.6" text-anchor="end" textLength="7" lengthAdjust="spacingAndGlyphs">3</text>
<text x="372.8" y="696" font-size="12.6" text-anchor="end" textLength="7" lengthAdjust="spacingAndGlyphs">2</text>
<path d="M376.9 581.7V691.5H437M376.9 593.1h-2.3M376.9 617.7h-2.3M376.9 642.3h-2.3M376.9 666.9h-2.3M376.9 691.5h-2.3" stroke="#8a8a8a" stroke-width="1.1" fill="none"/>
<path d="M393.8 620.8L398.4 625.4L393.8 630L389.2 625.4Z" fill="#1c3ce0" stroke="#222" stroke-width="0.6"/>
<path d="M393.8 646L398.4 650.6L393.8 655.2L389.2 650.6Z" fill="#1c3ce0" stroke="#222" stroke-width="0.6"/>
<path d="M386.2 657.1L390.8 661.7L386.2 666.3L381.6 661.7Z" fill="#1c3ce0" stroke="#222" stroke-width="0.6"/>
<path d="M400 657.1L404.6 661.7L400 666.3L395.4 661.7Z" fill="#1c3ce0" stroke="#222" stroke-width="0.6"/>
<path d="M393.8 667.9L398.4 672.5L393.8 677.1L389.2 672.5Z" fill="#1c3ce0" stroke="#222" stroke-width="0.6"/>
<path d="M387 654H400.6M393.8 646.3V661.7M390.6 646.3h6.4M390.6 661.7h6.4" stroke="#111" stroke-width="1.35" fill="none"/>
<path d="M424.6 581.4L429.2 586L424.6 590.6L420 586Z" fill="#f04422" stroke="#222" stroke-width="0.6"/>
<path d="M424.6 605.4L429.2 610L424.6 614.6L420 610Z" fill="#f04422" stroke="#222" stroke-width="0.6"/>
<path d="M429.2 616.2L433.8 620.8L429.2 625.4L424.6 620.8Z" fill="#f04422" stroke="#222" stroke-width="0.6"/>
<path d="M418.5 620.2L423.1 624.8L418.5 629.4L413.9 624.8Z" fill="#f04422" stroke="#222" stroke-width="0.6"/>
<path d="M432.3 623.9L436.9 628.5L432.3 633.1L427.7 628.5Z" fill="#f04422" stroke="#222" stroke-width="0.6"/>
<path d="M424.6 624.8L429.2 629.4L424.6 634L420 629.4Z" fill="#f04422" stroke="#222" stroke-width="0.6"/>
<path d="M417.3 616.8H431.9M424.6 608.5V622.3M421.4 608.5h6.4M421.4 622.3h6.4" stroke="#111" stroke-width="1.35" fill="none"/>
<path d="M391.7 584.8V582.3H416V584.8" stroke="#111" stroke-width="1.1" fill="none"/>
<path d="M404.6 575.2L404.6 570.5M404.6 575.2L409.07 573.75M404.6 575.2L400.13 573.75M404.6 575.2L407.36 579M404.6 575.2L401.84 579" stroke="#000" stroke-width="1.88" stroke-linecap="round" fill="none"/>
<text x="387.6" y="711" font-size="20" textLength="43.6" lengthAdjust="spacingAndGlyphs">S4-5</text>
<rect x="452" y="578" width="12.2" height="11.5" fill="#1a1ad2" stroke="none" stroke-width="1"/>
<rect x="452" y="593.5" width="12.2" height="11.5" fill="#ee3a1e" stroke="none" stroke-width="1"/>
<text x="467.8" y="589.4" font-size="16" textLength="25.4" lengthAdjust="spacingAndGlyphs">WT</text>
<text x="467.5" y="604.9" font-size="16" textLength="37.6" lengthAdjust="spacingAndGlyphs">Stat5</text>
<text x="505" y="598.8" font-size="8" textLength="9.4" lengthAdjust="spacingAndGlyphs">-/-</text>
</svg>
</body></html>
